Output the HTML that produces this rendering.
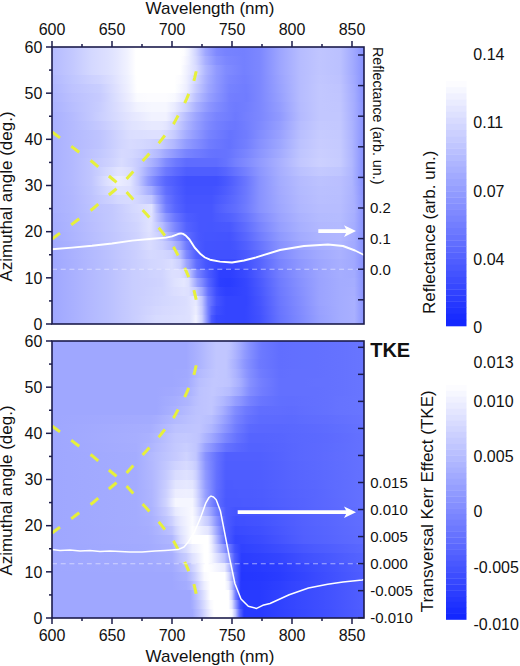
<!DOCTYPE html>
<html><head><meta charset="utf-8"><style>
html,body{margin:0;padding:0;background:#fff;width:520px;height:666px;overflow:hidden;}
svg{display:block;}
text{font-family:"Liberation Sans",sans-serif;}
</style></head><body>
<svg width="520" height="666" viewBox="0 0 520 666">
<rect width="520" height="666" fill="#fff"/>
<defs><linearGradient id="g1" gradientUnits="userSpaceOnUse" x1="52" y1="0" x2="364" y2="0"><stop offset="0.0000" stop-color="#b5bbff"/><stop offset="0.0654" stop-color="#c3c8ff"/><stop offset="0.1269" stop-color="#d4d8ff"/><stop offset="0.1538" stop-color="#d9dcff"/><stop offset="0.1731" stop-color="#dcdfff"/><stop offset="0.1923" stop-color="#e0e3ff"/><stop offset="0.2115" stop-color="#e6e8ff"/><stop offset="0.2231" stop-color="#eaecff"/><stop offset="0.2423" stop-color="#f1f2ff"/><stop offset="0.2500" stop-color="#f5f6ff"/><stop offset="0.2577" stop-color="#f9f9ff"/><stop offset="0.2692" stop-color="#ffffff"/><stop offset="0.2731" stop-color="#ffffff"/><stop offset="0.2769" stop-color="#ffffff"/><stop offset="0.2885" stop-color="#ffffff"/><stop offset="0.3077" stop-color="#ffffff"/><stop offset="0.3115" stop-color="#ffffff"/><stop offset="0.3192" stop-color="#ffffff"/><stop offset="0.3346" stop-color="#ffffff"/><stop offset="0.3385" stop-color="#ffffff"/><stop offset="0.3462" stop-color="#ffffff"/><stop offset="0.3538" stop-color="#ffffff"/><stop offset="0.3654" stop-color="#ffffff"/><stop offset="0.3846" stop-color="#ffffff"/><stop offset="0.3923" stop-color="#ffffff"/><stop offset="0.3962" stop-color="#ffffff"/><stop offset="0.4115" stop-color="#ffffff"/><stop offset="0.4231" stop-color="#fdfdff"/><stop offset="0.4308" stop-color="#f6f7ff"/><stop offset="0.4385" stop-color="#eff1ff"/><stop offset="0.4423" stop-color="#eaecff"/><stop offset="0.4500" stop-color="#e0e3ff"/><stop offset="0.4615" stop-color="#d1d5ff"/><stop offset="0.4654" stop-color="#cbcfff"/><stop offset="0.4731" stop-color="#bec4ff"/><stop offset="0.4808" stop-color="#b2b8ff"/><stop offset="0.4923" stop-color="#9fa7ff"/><stop offset="0.5000" stop-color="#98a1ff"/><stop offset="0.5038" stop-color="#959dff"/><stop offset="0.5115" stop-color="#8e97ff"/><stop offset="0.5269" stop-color="#808aff"/><stop offset="0.5385" stop-color="#7c87ff"/><stop offset="0.5577" stop-color="#7782ff"/><stop offset="0.5692" stop-color="#7682ff"/><stop offset="0.5885" stop-color="#7581ff"/><stop offset="0.6154" stop-color="#7480ff"/><stop offset="0.6231" stop-color="#7581ff"/><stop offset="0.6654" stop-color="#7c87ff"/><stop offset="0.7308" stop-color="#9da5ff"/><stop offset="0.7962" stop-color="#b6bcff"/><stop offset="0.8577" stop-color="#c0c5ff"/><stop offset="0.9231" stop-color="#bbc1ff"/><stop offset="0.9615" stop-color="#a4acff"/><stop offset="0.9692" stop-color="#9fa7ff"/><stop offset="0.9923" stop-color="#8d97ff"/><stop offset="1.0000" stop-color="#8892ff"/></linearGradient><linearGradient id="g2" gradientUnits="userSpaceOnUse" x1="52" y1="0" x2="364" y2="0"><stop offset="0.0000" stop-color="#b5bbff"/><stop offset="0.0654" stop-color="#c3c8ff"/><stop offset="0.1269" stop-color="#d4d8ff"/><stop offset="0.1538" stop-color="#d9dcff"/><stop offset="0.1731" stop-color="#dcdfff"/><stop offset="0.1923" stop-color="#e0e3ff"/><stop offset="0.2115" stop-color="#e6e8ff"/><stop offset="0.2231" stop-color="#eaecff"/><stop offset="0.2423" stop-color="#f1f2ff"/><stop offset="0.2500" stop-color="#f5f6ff"/><stop offset="0.2577" stop-color="#f9f9ff"/><stop offset="0.2692" stop-color="#ffffff"/><stop offset="0.2731" stop-color="#ffffff"/><stop offset="0.2769" stop-color="#ffffff"/><stop offset="0.2885" stop-color="#ffffff"/><stop offset="0.3077" stop-color="#ffffff"/><stop offset="0.3115" stop-color="#ffffff"/><stop offset="0.3192" stop-color="#ffffff"/><stop offset="0.3346" stop-color="#ffffff"/><stop offset="0.3385" stop-color="#ffffff"/><stop offset="0.3462" stop-color="#ffffff"/><stop offset="0.3538" stop-color="#ffffff"/><stop offset="0.3654" stop-color="#ffffff"/><stop offset="0.3846" stop-color="#ffffff"/><stop offset="0.3923" stop-color="#ffffff"/><stop offset="0.3962" stop-color="#ffffff"/><stop offset="0.4115" stop-color="#ffffff"/><stop offset="0.4231" stop-color="#fafaff"/><stop offset="0.4308" stop-color="#f4f4ff"/><stop offset="0.4385" stop-color="#edefff"/><stop offset="0.4423" stop-color="#e9ebff"/><stop offset="0.4500" stop-color="#e1e4ff"/><stop offset="0.4615" stop-color="#d5d8ff"/><stop offset="0.4654" stop-color="#cfd3ff"/><stop offset="0.4731" stop-color="#c4c9ff"/><stop offset="0.4808" stop-color="#b9beff"/><stop offset="0.4923" stop-color="#a8afff"/><stop offset="0.5000" stop-color="#a1a9ff"/><stop offset="0.5038" stop-color="#9da5ff"/><stop offset="0.5115" stop-color="#969fff"/><stop offset="0.5269" stop-color="#8892ff"/><stop offset="0.5385" stop-color="#848eff"/><stop offset="0.5577" stop-color="#7c87ff"/><stop offset="0.5692" stop-color="#7a85ff"/><stop offset="0.5885" stop-color="#7883ff"/><stop offset="0.6154" stop-color="#7480ff"/><stop offset="0.6231" stop-color="#7581ff"/><stop offset="0.6654" stop-color="#7c87ff"/><stop offset="0.7308" stop-color="#9da5ff"/><stop offset="0.7962" stop-color="#b6bcff"/><stop offset="0.8577" stop-color="#c0c5ff"/><stop offset="0.9231" stop-color="#bbc1ff"/><stop offset="0.9615" stop-color="#a4acff"/><stop offset="0.9692" stop-color="#9fa7ff"/><stop offset="0.9923" stop-color="#8d97ff"/><stop offset="1.0000" stop-color="#8892ff"/></linearGradient><linearGradient id="g3" gradientUnits="userSpaceOnUse" x1="52" y1="0" x2="364" y2="0"><stop offset="0.0000" stop-color="#b5bbff"/><stop offset="0.0654" stop-color="#c3c8ff"/><stop offset="0.1269" stop-color="#d4d8ff"/><stop offset="0.1538" stop-color="#d9dcff"/><stop offset="0.1731" stop-color="#dcdfff"/><stop offset="0.1923" stop-color="#e0e3ff"/><stop offset="0.2115" stop-color="#e6e8ff"/><stop offset="0.2231" stop-color="#eaecff"/><stop offset="0.2423" stop-color="#f1f2ff"/><stop offset="0.2500" stop-color="#f5f6ff"/><stop offset="0.2577" stop-color="#f9f9ff"/><stop offset="0.2692" stop-color="#ffffff"/><stop offset="0.2731" stop-color="#ffffff"/><stop offset="0.2769" stop-color="#ffffff"/><stop offset="0.2885" stop-color="#ffffff"/><stop offset="0.3077" stop-color="#ffffff"/><stop offset="0.3115" stop-color="#ffffff"/><stop offset="0.3192" stop-color="#ffffff"/><stop offset="0.3346" stop-color="#ffffff"/><stop offset="0.3385" stop-color="#ffffff"/><stop offset="0.3462" stop-color="#ffffff"/><stop offset="0.3538" stop-color="#ffffff"/><stop offset="0.3654" stop-color="#ffffff"/><stop offset="0.3846" stop-color="#ffffff"/><stop offset="0.3923" stop-color="#ffffff"/><stop offset="0.3962" stop-color="#ffffff"/><stop offset="0.4115" stop-color="#ffffff"/><stop offset="0.4231" stop-color="#f6f7ff"/><stop offset="0.4308" stop-color="#f1f2ff"/><stop offset="0.4385" stop-color="#ebecff"/><stop offset="0.4423" stop-color="#e8eaff"/><stop offset="0.4500" stop-color="#e2e4ff"/><stop offset="0.4615" stop-color="#d9dcff"/><stop offset="0.4654" stop-color="#d4d7ff"/><stop offset="0.4731" stop-color="#caceff"/><stop offset="0.4808" stop-color="#bfc5ff"/><stop offset="0.4923" stop-color="#b0b7ff"/><stop offset="0.5000" stop-color="#a9b0ff"/><stop offset="0.5038" stop-color="#a6adff"/><stop offset="0.5115" stop-color="#9fa7ff"/><stop offset="0.5269" stop-color="#919aff"/><stop offset="0.5385" stop-color="#8b95ff"/><stop offset="0.5577" stop-color="#808bff"/><stop offset="0.5692" stop-color="#7e89ff"/><stop offset="0.5885" stop-color="#7a85ff"/><stop offset="0.6154" stop-color="#7480ff"/><stop offset="0.6231" stop-color="#7581ff"/><stop offset="0.6654" stop-color="#7c87ff"/><stop offset="0.7308" stop-color="#9da5ff"/><stop offset="0.7962" stop-color="#b6bcff"/><stop offset="0.8577" stop-color="#c0c5ff"/><stop offset="0.9231" stop-color="#bbc1ff"/><stop offset="0.9615" stop-color="#a4acff"/><stop offset="0.9692" stop-color="#9fa7ff"/><stop offset="0.9923" stop-color="#8d97ff"/><stop offset="1.0000" stop-color="#8892ff"/></linearGradient><linearGradient id="g4" gradientUnits="userSpaceOnUse" x1="52" y1="0" x2="364" y2="0"><stop offset="0.0000" stop-color="#b2b8ff"/><stop offset="0.0654" stop-color="#c0c6ff"/><stop offset="0.1269" stop-color="#cdd1ff"/><stop offset="0.1538" stop-color="#d1d5ff"/><stop offset="0.1731" stop-color="#d7daff"/><stop offset="0.1923" stop-color="#dcdfff"/><stop offset="0.2115" stop-color="#e4e6ff"/><stop offset="0.2231" stop-color="#e8eaff"/><stop offset="0.2423" stop-color="#eff1ff"/><stop offset="0.2500" stop-color="#f3f4ff"/><stop offset="0.2577" stop-color="#f7f8ff"/><stop offset="0.2692" stop-color="#fefeff"/><stop offset="0.2731" stop-color="#ffffff"/><stop offset="0.2769" stop-color="#ffffff"/><stop offset="0.2885" stop-color="#ffffff"/><stop offset="0.3077" stop-color="#ffffff"/><stop offset="0.3115" stop-color="#ffffff"/><stop offset="0.3192" stop-color="#ffffff"/><stop offset="0.3346" stop-color="#ffffff"/><stop offset="0.3385" stop-color="#ffffff"/><stop offset="0.3462" stop-color="#ffffff"/><stop offset="0.3538" stop-color="#ffffff"/><stop offset="0.3654" stop-color="#ffffff"/><stop offset="0.3846" stop-color="#ffffff"/><stop offset="0.3923" stop-color="#ffffff"/><stop offset="0.3962" stop-color="#fefeff"/><stop offset="0.4115" stop-color="#fbfbff"/><stop offset="0.4231" stop-color="#f4f5ff"/><stop offset="0.4308" stop-color="#eff0ff"/><stop offset="0.4385" stop-color="#e7e9ff"/><stop offset="0.4423" stop-color="#e3e6ff"/><stop offset="0.4500" stop-color="#dcdfff"/><stop offset="0.4615" stop-color="#d0d4ff"/><stop offset="0.4654" stop-color="#ccd0ff"/><stop offset="0.4731" stop-color="#c3c8ff"/><stop offset="0.4808" stop-color="#babfff"/><stop offset="0.4923" stop-color="#acb3ff"/><stop offset="0.5000" stop-color="#a5acff"/><stop offset="0.5038" stop-color="#a1a9ff"/><stop offset="0.5115" stop-color="#9ba4ff"/><stop offset="0.5269" stop-color="#8f99ff"/><stop offset="0.5385" stop-color="#8993ff"/><stop offset="0.5577" stop-color="#7e89ff"/><stop offset="0.5692" stop-color="#7a85ff"/><stop offset="0.5885" stop-color="#7782ff"/><stop offset="0.6154" stop-color="#737eff"/><stop offset="0.6231" stop-color="#737fff"/><stop offset="0.6654" stop-color="#7c87ff"/><stop offset="0.7308" stop-color="#9ba3ff"/><stop offset="0.7962" stop-color="#b6bcff"/><stop offset="0.8577" stop-color="#c1c6ff"/><stop offset="0.9231" stop-color="#bdc2ff"/><stop offset="0.9615" stop-color="#a6adff"/><stop offset="0.9692" stop-color="#a1a9ff"/><stop offset="0.9923" stop-color="#8d97ff"/><stop offset="1.0000" stop-color="#8892ff"/></linearGradient><linearGradient id="g5" gradientUnits="userSpaceOnUse" x1="52" y1="0" x2="364" y2="0"><stop offset="0.0000" stop-color="#afb6ff"/><stop offset="0.0654" stop-color="#bec3ff"/><stop offset="0.1269" stop-color="#c6cbff"/><stop offset="0.1538" stop-color="#c9ceff"/><stop offset="0.1731" stop-color="#d1d5ff"/><stop offset="0.1923" stop-color="#d9dcff"/><stop offset="0.2115" stop-color="#e1e3ff"/><stop offset="0.2231" stop-color="#e6e8ff"/><stop offset="0.2423" stop-color="#eeefff"/><stop offset="0.2500" stop-color="#f1f3ff"/><stop offset="0.2577" stop-color="#f6f7ff"/><stop offset="0.2692" stop-color="#fdfdff"/><stop offset="0.2731" stop-color="#ffffff"/><stop offset="0.2769" stop-color="#ffffff"/><stop offset="0.2885" stop-color="#ffffff"/><stop offset="0.3077" stop-color="#ffffff"/><stop offset="0.3115" stop-color="#ffffff"/><stop offset="0.3192" stop-color="#ffffff"/><stop offset="0.3346" stop-color="#ffffff"/><stop offset="0.3385" stop-color="#ffffff"/><stop offset="0.3462" stop-color="#ffffff"/><stop offset="0.3538" stop-color="#ffffff"/><stop offset="0.3654" stop-color="#ffffff"/><stop offset="0.3846" stop-color="#ffffff"/><stop offset="0.3923" stop-color="#ffffff"/><stop offset="0.3962" stop-color="#fdfeff"/><stop offset="0.4115" stop-color="#f7f8ff"/><stop offset="0.4231" stop-color="#f1f2ff"/><stop offset="0.4308" stop-color="#edeeff"/><stop offset="0.4385" stop-color="#e4e6ff"/><stop offset="0.4423" stop-color="#dfe2ff"/><stop offset="0.4500" stop-color="#d6d9ff"/><stop offset="0.4615" stop-color="#c8ccff"/><stop offset="0.4654" stop-color="#c4c9ff"/><stop offset="0.4731" stop-color="#bcc1ff"/><stop offset="0.4808" stop-color="#b4baff"/><stop offset="0.4923" stop-color="#a8afff"/><stop offset="0.5000" stop-color="#a0a8ff"/><stop offset="0.5038" stop-color="#9da5ff"/><stop offset="0.5115" stop-color="#98a1ff"/><stop offset="0.5269" stop-color="#8e97ff"/><stop offset="0.5385" stop-color="#8791ff"/><stop offset="0.5577" stop-color="#7c87ff"/><stop offset="0.5692" stop-color="#7682ff"/><stop offset="0.5885" stop-color="#7480ff"/><stop offset="0.6154" stop-color="#717dff"/><stop offset="0.6231" stop-color="#717dff"/><stop offset="0.6654" stop-color="#7c87ff"/><stop offset="0.7308" stop-color="#99a2ff"/><stop offset="0.7962" stop-color="#b6bcff"/><stop offset="0.8577" stop-color="#c2c7ff"/><stop offset="0.9231" stop-color="#bfc4ff"/><stop offset="0.9615" stop-color="#a8afff"/><stop offset="0.9692" stop-color="#a3abff"/><stop offset="0.9923" stop-color="#8d96ff"/><stop offset="1.0000" stop-color="#8892ff"/></linearGradient><linearGradient id="g6" gradientUnits="userSpaceOnUse" x1="52" y1="0" x2="364" y2="0"><stop offset="0.0000" stop-color="#adb4ff"/><stop offset="0.0654" stop-color="#bbc0ff"/><stop offset="0.1269" stop-color="#c3c8ff"/><stop offset="0.1538" stop-color="#c7cbff"/><stop offset="0.1731" stop-color="#ced2ff"/><stop offset="0.1923" stop-color="#d6daff"/><stop offset="0.2115" stop-color="#dee1ff"/><stop offset="0.2231" stop-color="#e3e5ff"/><stop offset="0.2423" stop-color="#ebecff"/><stop offset="0.2500" stop-color="#eeefff"/><stop offset="0.2577" stop-color="#f2f3ff"/><stop offset="0.2692" stop-color="#f8f9ff"/><stop offset="0.2731" stop-color="#fafbff"/><stop offset="0.2769" stop-color="#fafbff"/><stop offset="0.2885" stop-color="#fbfbff"/><stop offset="0.3077" stop-color="#fcfcff"/><stop offset="0.3115" stop-color="#fcfcff"/><stop offset="0.3192" stop-color="#fcfcff"/><stop offset="0.3346" stop-color="#fcfcff"/><stop offset="0.3385" stop-color="#fcfcff"/><stop offset="0.3462" stop-color="#fcfcff"/><stop offset="0.3538" stop-color="#fcfcff"/><stop offset="0.3654" stop-color="#fcfcff"/><stop offset="0.3846" stop-color="#f9faff"/><stop offset="0.3923" stop-color="#f8f9ff"/><stop offset="0.3962" stop-color="#f6f7ff"/><stop offset="0.4115" stop-color="#edeeff"/><stop offset="0.4231" stop-color="#e6e8ff"/><stop offset="0.4308" stop-color="#e1e4ff"/><stop offset="0.4385" stop-color="#d8dbff"/><stop offset="0.4423" stop-color="#d3d7ff"/><stop offset="0.4500" stop-color="#caceff"/><stop offset="0.4615" stop-color="#bcc1ff"/><stop offset="0.4654" stop-color="#b8beff"/><stop offset="0.4731" stop-color="#b1b8ff"/><stop offset="0.4808" stop-color="#aab1ff"/><stop offset="0.4923" stop-color="#a0a8ff"/><stop offset="0.5000" stop-color="#99a2ff"/><stop offset="0.5038" stop-color="#969fff"/><stop offset="0.5115" stop-color="#929bff"/><stop offset="0.5269" stop-color="#8993ff"/><stop offset="0.5385" stop-color="#838eff"/><stop offset="0.5577" stop-color="#7a85ff"/><stop offset="0.5692" stop-color="#747fff"/><stop offset="0.5885" stop-color="#727dff"/><stop offset="0.6154" stop-color="#717dff"/><stop offset="0.6231" stop-color="#707cff"/><stop offset="0.6654" stop-color="#7c87ff"/><stop offset="0.7308" stop-color="#97a0ff"/><stop offset="0.7962" stop-color="#b6bcff"/><stop offset="0.8577" stop-color="#c2c7ff"/><stop offset="0.9231" stop-color="#c0c5ff"/><stop offset="0.9615" stop-color="#a9b0ff"/><stop offset="0.9692" stop-color="#a4acff"/><stop offset="0.9923" stop-color="#8d97ff"/><stop offset="1.0000" stop-color="#8892ff"/></linearGradient><linearGradient id="g7" gradientUnits="userSpaceOnUse" x1="52" y1="0" x2="364" y2="0"><stop offset="0.0000" stop-color="#abb2ff"/><stop offset="0.0654" stop-color="#b8beff"/><stop offset="0.1269" stop-color="#c3c8ff"/><stop offset="0.1538" stop-color="#c8cdff"/><stop offset="0.1731" stop-color="#cfd3ff"/><stop offset="0.1923" stop-color="#d5d9ff"/><stop offset="0.2115" stop-color="#dcdeff"/><stop offset="0.2231" stop-color="#dfe2ff"/><stop offset="0.2423" stop-color="#e6e8ff"/><stop offset="0.2500" stop-color="#e8eaff"/><stop offset="0.2577" stop-color="#ebedff"/><stop offset="0.2692" stop-color="#f0f1ff"/><stop offset="0.2731" stop-color="#f1f2ff"/><stop offset="0.2769" stop-color="#f1f3ff"/><stop offset="0.2885" stop-color="#f3f4ff"/><stop offset="0.3077" stop-color="#f5f6ff"/><stop offset="0.3115" stop-color="#f5f6ff"/><stop offset="0.3192" stop-color="#f6f7ff"/><stop offset="0.3346" stop-color="#f6f7ff"/><stop offset="0.3385" stop-color="#f6f7ff"/><stop offset="0.3462" stop-color="#f6f7ff"/><stop offset="0.3538" stop-color="#f6f7ff"/><stop offset="0.3654" stop-color="#f6f7ff"/><stop offset="0.3846" stop-color="#edefff"/><stop offset="0.3923" stop-color="#eaecff"/><stop offset="0.3962" stop-color="#e7e9ff"/><stop offset="0.4115" stop-color="#dbdeff"/><stop offset="0.4231" stop-color="#d2d6ff"/><stop offset="0.4308" stop-color="#ccd1ff"/><stop offset="0.4385" stop-color="#c4c9ff"/><stop offset="0.4423" stop-color="#c0c6ff"/><stop offset="0.4500" stop-color="#b8beff"/><stop offset="0.4615" stop-color="#acb3ff"/><stop offset="0.4654" stop-color="#a9b0ff"/><stop offset="0.4731" stop-color="#a3abff"/><stop offset="0.4808" stop-color="#9da5ff"/><stop offset="0.4923" stop-color="#949dff"/><stop offset="0.5000" stop-color="#8f98ff"/><stop offset="0.5038" stop-color="#8c96ff"/><stop offset="0.5115" stop-color="#8992ff"/><stop offset="0.5269" stop-color="#818cff"/><stop offset="0.5385" stop-color="#7d88ff"/><stop offset="0.5577" stop-color="#7682ff"/><stop offset="0.5692" stop-color="#727eff"/><stop offset="0.5885" stop-color="#6f7bff"/><stop offset="0.6154" stop-color="#717dff"/><stop offset="0.6231" stop-color="#727eff"/><stop offset="0.6654" stop-color="#7c87ff"/><stop offset="0.7308" stop-color="#949dff"/><stop offset="0.7962" stop-color="#b5bbff"/><stop offset="0.8577" stop-color="#c2c7ff"/><stop offset="0.9231" stop-color="#c1c6ff"/><stop offset="0.9615" stop-color="#aab1ff"/><stop offset="0.9692" stop-color="#a5acff"/><stop offset="0.9923" stop-color="#8f99ff"/><stop offset="1.0000" stop-color="#8892ff"/></linearGradient><linearGradient id="g8" gradientUnits="userSpaceOnUse" x1="52" y1="0" x2="364" y2="0"><stop offset="0.0000" stop-color="#a9b0ff"/><stop offset="0.0654" stop-color="#b5bbff"/><stop offset="0.1269" stop-color="#c3c8ff"/><stop offset="0.1538" stop-color="#cacfff"/><stop offset="0.1731" stop-color="#cfd3ff"/><stop offset="0.1923" stop-color="#d4d8ff"/><stop offset="0.2115" stop-color="#d9dcff"/><stop offset="0.2231" stop-color="#dcdfff"/><stop offset="0.2423" stop-color="#e1e3ff"/><stop offset="0.2500" stop-color="#e3e5ff"/><stop offset="0.2577" stop-color="#e5e7ff"/><stop offset="0.2692" stop-color="#e7e9ff"/><stop offset="0.2731" stop-color="#e8eaff"/><stop offset="0.2769" stop-color="#e8eaff"/><stop offset="0.2885" stop-color="#ebecff"/><stop offset="0.3077" stop-color="#eef0ff"/><stop offset="0.3115" stop-color="#eff0ff"/><stop offset="0.3192" stop-color="#f1f2ff"/><stop offset="0.3346" stop-color="#f1f2ff"/><stop offset="0.3385" stop-color="#f1f2ff"/><stop offset="0.3462" stop-color="#f1f2ff"/><stop offset="0.3538" stop-color="#f1f2ff"/><stop offset="0.3654" stop-color="#f1f2ff"/><stop offset="0.3846" stop-color="#e2e4ff"/><stop offset="0.3923" stop-color="#dcdfff"/><stop offset="0.3962" stop-color="#d9dcff"/><stop offset="0.4115" stop-color="#caceff"/><stop offset="0.4231" stop-color="#bfc4ff"/><stop offset="0.4308" stop-color="#b7bdff"/><stop offset="0.4385" stop-color="#b1b7ff"/><stop offset="0.4423" stop-color="#adb4ff"/><stop offset="0.4500" stop-color="#a7aeff"/><stop offset="0.4615" stop-color="#9da5ff"/><stop offset="0.4654" stop-color="#9aa3ff"/><stop offset="0.4731" stop-color="#959eff"/><stop offset="0.4808" stop-color="#9099ff"/><stop offset="0.4923" stop-color="#8892ff"/><stop offset="0.5000" stop-color="#848fff"/><stop offset="0.5038" stop-color="#838dff"/><stop offset="0.5115" stop-color="#808aff"/><stop offset="0.5269" stop-color="#7984ff"/><stop offset="0.5385" stop-color="#7782ff"/><stop offset="0.5577" stop-color="#737fff"/><stop offset="0.5692" stop-color="#717dff"/><stop offset="0.5885" stop-color="#6d79ff"/><stop offset="0.6154" stop-color="#727eff"/><stop offset="0.6231" stop-color="#747fff"/><stop offset="0.6654" stop-color="#7c87ff"/><stop offset="0.7308" stop-color="#919aff"/><stop offset="0.7962" stop-color="#b4baff"/><stop offset="0.8577" stop-color="#c2c7ff"/><stop offset="0.9231" stop-color="#c2c7ff"/><stop offset="0.9615" stop-color="#abb2ff"/><stop offset="0.9692" stop-color="#a5acff"/><stop offset="0.9923" stop-color="#919aff"/><stop offset="1.0000" stop-color="#8892ff"/></linearGradient><linearGradient id="g9" gradientUnits="userSpaceOnUse" x1="52" y1="0" x2="364" y2="0"><stop offset="0.0000" stop-color="#a9b0ff"/><stop offset="0.0654" stop-color="#b4baff"/><stop offset="0.1269" stop-color="#bfc5ff"/><stop offset="0.1538" stop-color="#c5c9ff"/><stop offset="0.1731" stop-color="#caceff"/><stop offset="0.1923" stop-color="#cfd3ff"/><stop offset="0.2115" stop-color="#d4d8ff"/><stop offset="0.2231" stop-color="#d7dbff"/><stop offset="0.2423" stop-color="#dde0ff"/><stop offset="0.2500" stop-color="#dfe1ff"/><stop offset="0.2577" stop-color="#e0e3ff"/><stop offset="0.2692" stop-color="#e1e4ff"/><stop offset="0.2731" stop-color="#e2e4ff"/><stop offset="0.2769" stop-color="#e2e5ff"/><stop offset="0.2885" stop-color="#e4e6ff"/><stop offset="0.3077" stop-color="#e6e8ff"/><stop offset="0.3115" stop-color="#e6e8ff"/><stop offset="0.3192" stop-color="#e7e9ff"/><stop offset="0.3346" stop-color="#e7e9ff"/><stop offset="0.3385" stop-color="#e7e9ff"/><stop offset="0.3462" stop-color="#e7e9ff"/><stop offset="0.3538" stop-color="#e6e8ff"/><stop offset="0.3654" stop-color="#e3e5ff"/><stop offset="0.3846" stop-color="#d6daff"/><stop offset="0.3923" stop-color="#d1d5ff"/><stop offset="0.3962" stop-color="#ced2ff"/><stop offset="0.4115" stop-color="#c0c5ff"/><stop offset="0.4231" stop-color="#b5bbff"/><stop offset="0.4308" stop-color="#aeb5ff"/><stop offset="0.4385" stop-color="#a8afff"/><stop offset="0.4423" stop-color="#a5adff"/><stop offset="0.4500" stop-color="#9fa7ff"/><stop offset="0.4615" stop-color="#979fff"/><stop offset="0.4654" stop-color="#949dff"/><stop offset="0.4731" stop-color="#8f99ff"/><stop offset="0.4808" stop-color="#8a94ff"/><stop offset="0.4923" stop-color="#838dff"/><stop offset="0.5000" stop-color="#7f8aff"/><stop offset="0.5038" stop-color="#7d88ff"/><stop offset="0.5115" stop-color="#7a85ff"/><stop offset="0.5269" stop-color="#7580ff"/><stop offset="0.5385" stop-color="#727eff"/><stop offset="0.5577" stop-color="#6e7aff"/><stop offset="0.5692" stop-color="#6c78ff"/><stop offset="0.5885" stop-color="#6b77ff"/><stop offset="0.6154" stop-color="#707cff"/><stop offset="0.6231" stop-color="#727eff"/><stop offset="0.6654" stop-color="#7e89ff"/><stop offset="0.7308" stop-color="#959eff"/><stop offset="0.7962" stop-color="#b7bdff"/><stop offset="0.8577" stop-color="#c4c9ff"/><stop offset="0.9231" stop-color="#c3c8ff"/><stop offset="0.9615" stop-color="#acb3ff"/><stop offset="0.9692" stop-color="#a5adff"/><stop offset="0.9923" stop-color="#9099ff"/><stop offset="1.0000" stop-color="#8892ff"/></linearGradient><linearGradient id="g10" gradientUnits="userSpaceOnUse" x1="52" y1="0" x2="364" y2="0"><stop offset="0.0000" stop-color="#a9b0ff"/><stop offset="0.0654" stop-color="#b3b9ff"/><stop offset="0.1269" stop-color="#bbc1ff"/><stop offset="0.1538" stop-color="#bfc4ff"/><stop offset="0.1731" stop-color="#c4c9ff"/><stop offset="0.1923" stop-color="#caceff"/><stop offset="0.2115" stop-color="#d0d4ff"/><stop offset="0.2231" stop-color="#d3d7ff"/><stop offset="0.2423" stop-color="#d9dcff"/><stop offset="0.2500" stop-color="#dbdeff"/><stop offset="0.2577" stop-color="#dbdeff"/><stop offset="0.2692" stop-color="#dcdfff"/><stop offset="0.2731" stop-color="#dcdfff"/><stop offset="0.2769" stop-color="#dcdfff"/><stop offset="0.2885" stop-color="#dcdfff"/><stop offset="0.3077" stop-color="#dde0ff"/><stop offset="0.3115" stop-color="#dde0ff"/><stop offset="0.3192" stop-color="#dee0ff"/><stop offset="0.3346" stop-color="#dee0ff"/><stop offset="0.3385" stop-color="#dee0ff"/><stop offset="0.3462" stop-color="#dee0ff"/><stop offset="0.3538" stop-color="#daddff"/><stop offset="0.3654" stop-color="#d6d9ff"/><stop offset="0.3846" stop-color="#cbcfff"/><stop offset="0.3923" stop-color="#c6cbff"/><stop offset="0.3962" stop-color="#c3c8ff"/><stop offset="0.4115" stop-color="#b5bbff"/><stop offset="0.4231" stop-color="#abb2ff"/><stop offset="0.4308" stop-color="#a4acff"/><stop offset="0.4385" stop-color="#9fa7ff"/><stop offset="0.4423" stop-color="#9da5ff"/><stop offset="0.4500" stop-color="#98a0ff"/><stop offset="0.4615" stop-color="#909aff"/><stop offset="0.4654" stop-color="#8e98ff"/><stop offset="0.4731" stop-color="#8993ff"/><stop offset="0.4808" stop-color="#858fff"/><stop offset="0.4923" stop-color="#7e88ff"/><stop offset="0.5000" stop-color="#7985ff"/><stop offset="0.5038" stop-color="#7783ff"/><stop offset="0.5115" stop-color="#7581ff"/><stop offset="0.5269" stop-color="#717dff"/><stop offset="0.5385" stop-color="#6e7aff"/><stop offset="0.5577" stop-color="#6976ff"/><stop offset="0.5692" stop-color="#6673ff"/><stop offset="0.5885" stop-color="#6976ff"/><stop offset="0.6154" stop-color="#6f7bff"/><stop offset="0.6231" stop-color="#707cff"/><stop offset="0.6654" stop-color="#818cff"/><stop offset="0.7308" stop-color="#99a1ff"/><stop offset="0.7962" stop-color="#b9bfff"/><stop offset="0.8577" stop-color="#c6cbff"/><stop offset="0.9231" stop-color="#c4c9ff"/><stop offset="0.9615" stop-color="#adb4ff"/><stop offset="0.9692" stop-color="#a6adff"/><stop offset="0.9923" stop-color="#8f99ff"/><stop offset="1.0000" stop-color="#8892ff"/></linearGradient><linearGradient id="g11" gradientUnits="userSpaceOnUse" x1="52" y1="0" x2="364" y2="0"><stop offset="0.0000" stop-color="#a9b0ff"/><stop offset="0.0654" stop-color="#b3b9ff"/><stop offset="0.1269" stop-color="#bbc0ff"/><stop offset="0.1538" stop-color="#bec4ff"/><stop offset="0.1731" stop-color="#c4c9ff"/><stop offset="0.1923" stop-color="#c9ceff"/><stop offset="0.2115" stop-color="#cfd3ff"/><stop offset="0.2231" stop-color="#d2d6ff"/><stop offset="0.2423" stop-color="#d6d9ff"/><stop offset="0.2500" stop-color="#d7dbff"/><stop offset="0.2577" stop-color="#d7daff"/><stop offset="0.2692" stop-color="#d6d9ff"/><stop offset="0.2731" stop-color="#d5d9ff"/><stop offset="0.2769" stop-color="#d5d9ff"/><stop offset="0.2885" stop-color="#d4d8ff"/><stop offset="0.3077" stop-color="#d1d5ff"/><stop offset="0.3115" stop-color="#d1d5ff"/><stop offset="0.3192" stop-color="#d0d3ff"/><stop offset="0.3346" stop-color="#cdd1ff"/><stop offset="0.3385" stop-color="#cdd1ff"/><stop offset="0.3462" stop-color="#cbcfff"/><stop offset="0.3538" stop-color="#c6cbff"/><stop offset="0.3654" stop-color="#bfc4ff"/><stop offset="0.3846" stop-color="#b5bbff"/><stop offset="0.3923" stop-color="#b1b7ff"/><stop offset="0.3962" stop-color="#adb4ff"/><stop offset="0.4115" stop-color="#a1a9ff"/><stop offset="0.4231" stop-color="#98a1ff"/><stop offset="0.4308" stop-color="#929cff"/><stop offset="0.4385" stop-color="#8f98ff"/><stop offset="0.4423" stop-color="#8d97ff"/><stop offset="0.4500" stop-color="#8993ff"/><stop offset="0.4615" stop-color="#848eff"/><stop offset="0.4654" stop-color="#828dff"/><stop offset="0.4731" stop-color="#7f89ff"/><stop offset="0.4808" stop-color="#7b86ff"/><stop offset="0.4923" stop-color="#7681ff"/><stop offset="0.5000" stop-color="#727eff"/><stop offset="0.5038" stop-color="#707cff"/><stop offset="0.5115" stop-color="#6f7bff"/><stop offset="0.5269" stop-color="#6b78ff"/><stop offset="0.5385" stop-color="#6a76ff"/><stop offset="0.5577" stop-color="#6673ff"/><stop offset="0.5692" stop-color="#6572ff"/><stop offset="0.5885" stop-color="#6a77ff"/><stop offset="0.6154" stop-color="#717dff"/><stop offset="0.6231" stop-color="#737fff"/><stop offset="0.6654" stop-color="#8690ff"/><stop offset="0.7308" stop-color="#9da6ff"/><stop offset="0.7962" stop-color="#bcc2ff"/><stop offset="0.8577" stop-color="#c8ccff"/><stop offset="0.9231" stop-color="#c5caff"/><stop offset="0.9615" stop-color="#aeb5ff"/><stop offset="0.9692" stop-color="#a6aeff"/><stop offset="0.9923" stop-color="#8e98ff"/><stop offset="1.0000" stop-color="#8892ff"/></linearGradient><linearGradient id="g12" gradientUnits="userSpaceOnUse" x1="52" y1="0" x2="364" y2="0"><stop offset="0.0000" stop-color="#a9b0ff"/><stop offset="0.0654" stop-color="#b3b9ff"/><stop offset="0.1269" stop-color="#bec3ff"/><stop offset="0.1538" stop-color="#c2c8ff"/><stop offset="0.1731" stop-color="#c7ccff"/><stop offset="0.1923" stop-color="#ccd0ff"/><stop offset="0.2115" stop-color="#d2d6ff"/><stop offset="0.2231" stop-color="#d6d9ff"/><stop offset="0.2423" stop-color="#d5d8ff"/><stop offset="0.2500" stop-color="#d4d8ff"/><stop offset="0.2577" stop-color="#d3d7ff"/><stop offset="0.2692" stop-color="#d0d4ff"/><stop offset="0.2731" stop-color="#cfd3ff"/><stop offset="0.2769" stop-color="#ced2ff"/><stop offset="0.2885" stop-color="#cacfff"/><stop offset="0.3077" stop-color="#c2c7ff"/><stop offset="0.3115" stop-color="#c0c6ff"/><stop offset="0.3192" stop-color="#bdc3ff"/><stop offset="0.3346" stop-color="#b6bcff"/><stop offset="0.3385" stop-color="#b4baff"/><stop offset="0.3462" stop-color="#afb6ff"/><stop offset="0.3538" stop-color="#a9b0ff"/><stop offset="0.3654" stop-color="#a0a8ff"/><stop offset="0.3846" stop-color="#959dff"/><stop offset="0.3923" stop-color="#9099ff"/><stop offset="0.3962" stop-color="#8d97ff"/><stop offset="0.4115" stop-color="#848eff"/><stop offset="0.4231" stop-color="#7d88ff"/><stop offset="0.4308" stop-color="#7984ff"/><stop offset="0.4385" stop-color="#7782ff"/><stop offset="0.4423" stop-color="#7681ff"/><stop offset="0.4500" stop-color="#7480ff"/><stop offset="0.4615" stop-color="#717dff"/><stop offset="0.4654" stop-color="#717cff"/><stop offset="0.4731" stop-color="#6f7bff"/><stop offset="0.4808" stop-color="#6d79ff"/><stop offset="0.4923" stop-color="#6a77ff"/><stop offset="0.5000" stop-color="#6875ff"/><stop offset="0.5038" stop-color="#6774ff"/><stop offset="0.5115" stop-color="#6773ff"/><stop offset="0.5269" stop-color="#6572ff"/><stop offset="0.5385" stop-color="#6672ff"/><stop offset="0.5577" stop-color="#6673ff"/><stop offset="0.5692" stop-color="#6875ff"/><stop offset="0.5885" stop-color="#6f7bff"/><stop offset="0.6154" stop-color="#7783ff"/><stop offset="0.6231" stop-color="#7a85ff"/><stop offset="0.6654" stop-color="#8b95ff"/><stop offset="0.7308" stop-color="#a3abff"/><stop offset="0.7962" stop-color="#bfc5ff"/><stop offset="0.8577" stop-color="#caceff"/><stop offset="0.9231" stop-color="#c6cbff"/><stop offset="0.9615" stop-color="#afb6ff"/><stop offset="0.9692" stop-color="#a7aeff"/><stop offset="0.9923" stop-color="#8d97ff"/><stop offset="1.0000" stop-color="#8892ff"/></linearGradient><linearGradient id="g13" gradientUnits="userSpaceOnUse" x1="52" y1="0" x2="364" y2="0"><stop offset="0.0000" stop-color="#a9b0ff"/><stop offset="0.0654" stop-color="#b3b9ff"/><stop offset="0.1269" stop-color="#c1c6ff"/><stop offset="0.1538" stop-color="#c7cbff"/><stop offset="0.1731" stop-color="#cbcfff"/><stop offset="0.1923" stop-color="#cfd3ff"/><stop offset="0.2115" stop-color="#d5d9ff"/><stop offset="0.2231" stop-color="#d9dcff"/><stop offset="0.2423" stop-color="#d3d7ff"/><stop offset="0.2500" stop-color="#d1d5ff"/><stop offset="0.2577" stop-color="#cfd3ff"/><stop offset="0.2692" stop-color="#caceff"/><stop offset="0.2731" stop-color="#c8cdff"/><stop offset="0.2769" stop-color="#c6cbff"/><stop offset="0.2885" stop-color="#c1c6ff"/><stop offset="0.3077" stop-color="#b3b9ff"/><stop offset="0.3115" stop-color="#b0b7ff"/><stop offset="0.3192" stop-color="#abb2ff"/><stop offset="0.3346" stop-color="#9fa7ff"/><stop offset="0.3385" stop-color="#9ca4ff"/><stop offset="0.3462" stop-color="#949dff"/><stop offset="0.3538" stop-color="#8c96ff"/><stop offset="0.3654" stop-color="#808bff"/><stop offset="0.3846" stop-color="#7480ff"/><stop offset="0.3923" stop-color="#707cff"/><stop offset="0.3962" stop-color="#6d79ff"/><stop offset="0.4115" stop-color="#6774ff"/><stop offset="0.4231" stop-color="#626fff"/><stop offset="0.4308" stop-color="#5f6cff"/><stop offset="0.4385" stop-color="#5f6cff"/><stop offset="0.4423" stop-color="#5f6cff"/><stop offset="0.4500" stop-color="#5f6cff"/><stop offset="0.4615" stop-color="#5f6cff"/><stop offset="0.4654" stop-color="#5f6cff"/><stop offset="0.4731" stop-color="#5f6cff"/><stop offset="0.4808" stop-color="#5f6cff"/><stop offset="0.4923" stop-color="#5f6cff"/><stop offset="0.5000" stop-color="#5f6cff"/><stop offset="0.5038" stop-color="#5f6cff"/><stop offset="0.5115" stop-color="#5f6cff"/><stop offset="0.5269" stop-color="#5f6cff"/><stop offset="0.5385" stop-color="#626fff"/><stop offset="0.5577" stop-color="#6673ff"/><stop offset="0.5692" stop-color="#6b78ff"/><stop offset="0.5885" stop-color="#7480ff"/><stop offset="0.6154" stop-color="#7e88ff"/><stop offset="0.6231" stop-color="#808bff"/><stop offset="0.6654" stop-color="#919aff"/><stop offset="0.7308" stop-color="#a9b0ff"/><stop offset="0.7962" stop-color="#c2c7ff"/><stop offset="0.8577" stop-color="#ccd0ff"/><stop offset="0.9231" stop-color="#c7ccff"/><stop offset="0.9615" stop-color="#b0b7ff"/><stop offset="0.9692" stop-color="#a7afff"/><stop offset="0.9923" stop-color="#8c96ff"/><stop offset="1.0000" stop-color="#8892ff"/></linearGradient><linearGradient id="g14" gradientUnits="userSpaceOnUse" x1="52" y1="0" x2="364" y2="0"><stop offset="0.0000" stop-color="#a9b0ff"/><stop offset="0.0654" stop-color="#b3b9ff"/><stop offset="0.1269" stop-color="#c1c6ff"/><stop offset="0.1538" stop-color="#cbd0ff"/><stop offset="0.1731" stop-color="#d3d7ff"/><stop offset="0.1923" stop-color="#d9ddff"/><stop offset="0.2115" stop-color="#e1e3ff"/><stop offset="0.2231" stop-color="#e1e3ff"/><stop offset="0.2423" stop-color="#dcdfff"/><stop offset="0.2500" stop-color="#daddff"/><stop offset="0.2577" stop-color="#d4d8ff"/><stop offset="0.2692" stop-color="#cbcfff"/><stop offset="0.2731" stop-color="#c8ccff"/><stop offset="0.2769" stop-color="#c5caff"/><stop offset="0.2885" stop-color="#b9bfff"/><stop offset="0.3077" stop-color="#a3abff"/><stop offset="0.3115" stop-color="#a0a8ff"/><stop offset="0.3192" stop-color="#98a1ff"/><stop offset="0.3346" stop-color="#8a94ff"/><stop offset="0.3385" stop-color="#8690ff"/><stop offset="0.3462" stop-color="#7e89ff"/><stop offset="0.3538" stop-color="#7782ff"/><stop offset="0.3654" stop-color="#6c78ff"/><stop offset="0.3846" stop-color="#6370ff"/><stop offset="0.3923" stop-color="#5f6cff"/><stop offset="0.3962" stop-color="#5d6aff"/><stop offset="0.4115" stop-color="#5765ff"/><stop offset="0.4231" stop-color="#5261ff"/><stop offset="0.4308" stop-color="#4f5eff"/><stop offset="0.4385" stop-color="#4f5eff"/><stop offset="0.4423" stop-color="#4f5eff"/><stop offset="0.4500" stop-color="#4f5eff"/><stop offset="0.4615" stop-color="#4f5eff"/><stop offset="0.4654" stop-color="#4f5eff"/><stop offset="0.4731" stop-color="#4f5eff"/><stop offset="0.4808" stop-color="#4f5eff"/><stop offset="0.4923" stop-color="#4f5eff"/><stop offset="0.5000" stop-color="#4f5eff"/><stop offset="0.5038" stop-color="#4f5eff"/><stop offset="0.5115" stop-color="#4f5eff"/><stop offset="0.5269" stop-color="#4f5eff"/><stop offset="0.5385" stop-color="#5261ff"/><stop offset="0.5577" stop-color="#5866ff"/><stop offset="0.5692" stop-color="#5d6bff"/><stop offset="0.5885" stop-color="#6673ff"/><stop offset="0.6154" stop-color="#727eff"/><stop offset="0.6231" stop-color="#7681ff"/><stop offset="0.6654" stop-color="#8c96ff"/><stop offset="0.7308" stop-color="#a7aeff"/><stop offset="0.7962" stop-color="#bbc1ff"/><stop offset="0.8577" stop-color="#c4c9ff"/><stop offset="0.9231" stop-color="#c0c6ff"/><stop offset="0.9615" stop-color="#afb6ff"/><stop offset="0.9692" stop-color="#a6aeff"/><stop offset="0.9923" stop-color="#8c96ff"/><stop offset="1.0000" stop-color="#8892ff"/></linearGradient><linearGradient id="g15" gradientUnits="userSpaceOnUse" x1="52" y1="0" x2="364" y2="0"><stop offset="0.0000" stop-color="#a9b0ff"/><stop offset="0.0654" stop-color="#b3b9ff"/><stop offset="0.1269" stop-color="#c1c6ff"/><stop offset="0.1538" stop-color="#d0d4ff"/><stop offset="0.1731" stop-color="#dbdeff"/><stop offset="0.1923" stop-color="#e4e6ff"/><stop offset="0.2115" stop-color="#ecedff"/><stop offset="0.2231" stop-color="#e9ebff"/><stop offset="0.2423" stop-color="#e4e6ff"/><stop offset="0.2500" stop-color="#e2e5ff"/><stop offset="0.2577" stop-color="#d9ddff"/><stop offset="0.2692" stop-color="#ccd0ff"/><stop offset="0.2731" stop-color="#c8ccff"/><stop offset="0.2769" stop-color="#c3c8ff"/><stop offset="0.2885" stop-color="#b1b8ff"/><stop offset="0.3077" stop-color="#939cff"/><stop offset="0.3115" stop-color="#8f98ff"/><stop offset="0.3192" stop-color="#8690ff"/><stop offset="0.3346" stop-color="#7480ff"/><stop offset="0.3385" stop-color="#707cff"/><stop offset="0.3462" stop-color="#6975ff"/><stop offset="0.3538" stop-color="#626fff"/><stop offset="0.3654" stop-color="#5866ff"/><stop offset="0.3846" stop-color="#515fff"/><stop offset="0.3923" stop-color="#4e5dff"/><stop offset="0.3962" stop-color="#4c5bff"/><stop offset="0.4115" stop-color="#4756ff"/><stop offset="0.4231" stop-color="#4352ff"/><stop offset="0.4308" stop-color="#4050ff"/><stop offset="0.4385" stop-color="#4050ff"/><stop offset="0.4423" stop-color="#4050ff"/><stop offset="0.4500" stop-color="#4050ff"/><stop offset="0.4615" stop-color="#4050ff"/><stop offset="0.4654" stop-color="#4050ff"/><stop offset="0.4731" stop-color="#4050ff"/><stop offset="0.4808" stop-color="#4050ff"/><stop offset="0.4923" stop-color="#4050ff"/><stop offset="0.5000" stop-color="#4050ff"/><stop offset="0.5038" stop-color="#4050ff"/><stop offset="0.5115" stop-color="#4050ff"/><stop offset="0.5269" stop-color="#4050ff"/><stop offset="0.5385" stop-color="#4353ff"/><stop offset="0.5577" stop-color="#4959ff"/><stop offset="0.5692" stop-color="#4f5dff"/><stop offset="0.5885" stop-color="#5866ff"/><stop offset="0.6154" stop-color="#6773ff"/><stop offset="0.6231" stop-color="#6b77ff"/><stop offset="0.6654" stop-color="#8892ff"/><stop offset="0.7308" stop-color="#a4acff"/><stop offset="0.7962" stop-color="#b5bbff"/><stop offset="0.8577" stop-color="#bcc2ff"/><stop offset="0.9231" stop-color="#babfff"/><stop offset="0.9615" stop-color="#aeb5ff"/><stop offset="0.9692" stop-color="#a5adff"/><stop offset="0.9923" stop-color="#8c96ff"/><stop offset="1.0000" stop-color="#8892ff"/></linearGradient><linearGradient id="g16" gradientUnits="userSpaceOnUse" x1="52" y1="0" x2="364" y2="0"><stop offset="0.0000" stop-color="#a9b0ff"/><stop offset="0.0654" stop-color="#b2b8ff"/><stop offset="0.1269" stop-color="#bfc5ff"/><stop offset="0.1538" stop-color="#cacfff"/><stop offset="0.1731" stop-color="#d2d6ff"/><stop offset="0.1923" stop-color="#d9dcff"/><stop offset="0.2115" stop-color="#e0e3ff"/><stop offset="0.2231" stop-color="#dfe2ff"/><stop offset="0.2423" stop-color="#dee0ff"/><stop offset="0.2500" stop-color="#dde0ff"/><stop offset="0.2577" stop-color="#d8dbff"/><stop offset="0.2692" stop-color="#cfd3ff"/><stop offset="0.2731" stop-color="#cdd1ff"/><stop offset="0.2769" stop-color="#cacfff"/><stop offset="0.2885" stop-color="#bfc4ff"/><stop offset="0.3077" stop-color="#acb3ff"/><stop offset="0.3115" stop-color="#a9b1ff"/><stop offset="0.3192" stop-color="#a4acff"/><stop offset="0.3346" stop-color="#8a94ff"/><stop offset="0.3385" stop-color="#858fff"/><stop offset="0.3462" stop-color="#7b86ff"/><stop offset="0.3538" stop-color="#707cff"/><stop offset="0.3654" stop-color="#616eff"/><stop offset="0.3846" stop-color="#5765ff"/><stop offset="0.3923" stop-color="#5261ff"/><stop offset="0.3962" stop-color="#505fff"/><stop offset="0.4115" stop-color="#4a59ff"/><stop offset="0.4231" stop-color="#4555ff"/><stop offset="0.4308" stop-color="#4252ff"/><stop offset="0.4385" stop-color="#4252ff"/><stop offset="0.4423" stop-color="#4252ff"/><stop offset="0.4500" stop-color="#4252ff"/><stop offset="0.4615" stop-color="#4252ff"/><stop offset="0.4654" stop-color="#4252ff"/><stop offset="0.4731" stop-color="#4252ff"/><stop offset="0.4808" stop-color="#4252ff"/><stop offset="0.4923" stop-color="#4252ff"/><stop offset="0.5000" stop-color="#4252ff"/><stop offset="0.5038" stop-color="#4252ff"/><stop offset="0.5115" stop-color="#4252ff"/><stop offset="0.5269" stop-color="#4554ff"/><stop offset="0.5385" stop-color="#4857ff"/><stop offset="0.5577" stop-color="#4e5dff"/><stop offset="0.5692" stop-color="#5361ff"/><stop offset="0.5885" stop-color="#5b69ff"/><stop offset="0.6154" stop-color="#6975ff"/><stop offset="0.6231" stop-color="#6c79ff"/><stop offset="0.6654" stop-color="#8892ff"/><stop offset="0.7308" stop-color="#a3aaff"/><stop offset="0.7962" stop-color="#b3baff"/><stop offset="0.8577" stop-color="#bac0ff"/><stop offset="0.9231" stop-color="#b9bfff"/><stop offset="0.9615" stop-color="#adb4ff"/><stop offset="0.9692" stop-color="#a7aeff"/><stop offset="0.9923" stop-color="#8e97ff"/><stop offset="1.0000" stop-color="#8892ff"/></linearGradient><linearGradient id="g17" gradientUnits="userSpaceOnUse" x1="52" y1="0" x2="364" y2="0"><stop offset="0.0000" stop-color="#a9b0ff"/><stop offset="0.0654" stop-color="#b1b7ff"/><stop offset="0.1269" stop-color="#bec3ff"/><stop offset="0.1538" stop-color="#c5caff"/><stop offset="0.1731" stop-color="#caceff"/><stop offset="0.1923" stop-color="#ced2ff"/><stop offset="0.2115" stop-color="#d4d8ff"/><stop offset="0.2231" stop-color="#d5d9ff"/><stop offset="0.2423" stop-color="#d7daff"/><stop offset="0.2500" stop-color="#d7dbff"/><stop offset="0.2577" stop-color="#d6d9ff"/><stop offset="0.2692" stop-color="#d3d7ff"/><stop offset="0.2731" stop-color="#d2d6ff"/><stop offset="0.2769" stop-color="#d1d5ff"/><stop offset="0.2885" stop-color="#ccd1ff"/><stop offset="0.3077" stop-color="#c5caff"/><stop offset="0.3115" stop-color="#c4c9ff"/><stop offset="0.3192" stop-color="#c2c7ff"/><stop offset="0.3346" stop-color="#a1a9ff"/><stop offset="0.3385" stop-color="#9aa2ff"/><stop offset="0.3462" stop-color="#8c96ff"/><stop offset="0.3538" stop-color="#7f8aff"/><stop offset="0.3654" stop-color="#6b77ff"/><stop offset="0.3846" stop-color="#5d6aff"/><stop offset="0.3923" stop-color="#5765ff"/><stop offset="0.3962" stop-color="#5462ff"/><stop offset="0.4115" stop-color="#4d5cff"/><stop offset="0.4231" stop-color="#4857ff"/><stop offset="0.4308" stop-color="#4554ff"/><stop offset="0.4385" stop-color="#4554ff"/><stop offset="0.4423" stop-color="#4554ff"/><stop offset="0.4500" stop-color="#4554ff"/><stop offset="0.4615" stop-color="#4554ff"/><stop offset="0.4654" stop-color="#4554ff"/><stop offset="0.4731" stop-color="#4554ff"/><stop offset="0.4808" stop-color="#4554ff"/><stop offset="0.4923" stop-color="#4554ff"/><stop offset="0.5000" stop-color="#4554ff"/><stop offset="0.5038" stop-color="#4554ff"/><stop offset="0.5115" stop-color="#4554ff"/><stop offset="0.5269" stop-color="#4959ff"/><stop offset="0.5385" stop-color="#4d5cff"/><stop offset="0.5577" stop-color="#5361ff"/><stop offset="0.5692" stop-color="#5765ff"/><stop offset="0.5885" stop-color="#5e6cff"/><stop offset="0.6154" stop-color="#6a77ff"/><stop offset="0.6231" stop-color="#6e7aff"/><stop offset="0.6654" stop-color="#8892ff"/><stop offset="0.7308" stop-color="#a1a9ff"/><stop offset="0.7962" stop-color="#b2b8ff"/><stop offset="0.8577" stop-color="#b9bfff"/><stop offset="0.9231" stop-color="#b8beff"/><stop offset="0.9615" stop-color="#acb3ff"/><stop offset="0.9692" stop-color="#a8afff"/><stop offset="0.9923" stop-color="#8f99ff"/><stop offset="1.0000" stop-color="#8892ff"/></linearGradient><linearGradient id="g18" gradientUnits="userSpaceOnUse" x1="52" y1="0" x2="364" y2="0"><stop offset="0.0000" stop-color="#a9b0ff"/><stop offset="0.0654" stop-color="#b0b7ff"/><stop offset="0.1269" stop-color="#bcc2ff"/><stop offset="0.1538" stop-color="#bfc4ff"/><stop offset="0.1731" stop-color="#c1c6ff"/><stop offset="0.1923" stop-color="#c3c8ff"/><stop offset="0.2115" stop-color="#c8cdff"/><stop offset="0.2231" stop-color="#cbcfff"/><stop offset="0.2423" stop-color="#d0d4ff"/><stop offset="0.2500" stop-color="#d2d6ff"/><stop offset="0.2577" stop-color="#d4d8ff"/><stop offset="0.2692" stop-color="#d6daff"/><stop offset="0.2731" stop-color="#d7daff"/><stop offset="0.2769" stop-color="#d8dbff"/><stop offset="0.2885" stop-color="#daddff"/><stop offset="0.3077" stop-color="#dee0ff"/><stop offset="0.3115" stop-color="#dee1ff"/><stop offset="0.3192" stop-color="#e0e3ff"/><stop offset="0.3346" stop-color="#b7bdff"/><stop offset="0.3385" stop-color="#afb6ff"/><stop offset="0.3462" stop-color="#9ea6ff"/><stop offset="0.3538" stop-color="#8d97ff"/><stop offset="0.3654" stop-color="#7480ff"/><stop offset="0.3846" stop-color="#6270ff"/><stop offset="0.3923" stop-color="#5b69ff"/><stop offset="0.3962" stop-color="#5866ff"/><stop offset="0.4115" stop-color="#505fff"/><stop offset="0.4231" stop-color="#4b5aff"/><stop offset="0.4308" stop-color="#4756ff"/><stop offset="0.4385" stop-color="#4756ff"/><stop offset="0.4423" stop-color="#4756ff"/><stop offset="0.4500" stop-color="#4756ff"/><stop offset="0.4615" stop-color="#4756ff"/><stop offset="0.4654" stop-color="#4756ff"/><stop offset="0.4731" stop-color="#4756ff"/><stop offset="0.4808" stop-color="#4756ff"/><stop offset="0.4923" stop-color="#4756ff"/><stop offset="0.5000" stop-color="#4756ff"/><stop offset="0.5038" stop-color="#4756ff"/><stop offset="0.5115" stop-color="#4756ff"/><stop offset="0.5269" stop-color="#4e5dff"/><stop offset="0.5385" stop-color="#5260ff"/><stop offset="0.5577" stop-color="#5866ff"/><stop offset="0.5692" stop-color="#5b69ff"/><stop offset="0.5885" stop-color="#616eff"/><stop offset="0.6154" stop-color="#6c79ff"/><stop offset="0.6231" stop-color="#707cff"/><stop offset="0.6654" stop-color="#8892ff"/><stop offset="0.7308" stop-color="#9fa7ff"/><stop offset="0.7962" stop-color="#b0b7ff"/><stop offset="0.8577" stop-color="#b7bdff"/><stop offset="0.9231" stop-color="#b7bdff"/><stop offset="0.9615" stop-color="#abb2ff"/><stop offset="0.9692" stop-color="#a9b0ff"/><stop offset="0.9923" stop-color="#919aff"/><stop offset="1.0000" stop-color="#8892ff"/></linearGradient><linearGradient id="g19" gradientUnits="userSpaceOnUse" x1="52" y1="0" x2="364" y2="0"><stop offset="0.0000" stop-color="#a7aeff"/><stop offset="0.0654" stop-color="#afb6ff"/><stop offset="0.1269" stop-color="#bac0ff"/><stop offset="0.1538" stop-color="#bec3ff"/><stop offset="0.1731" stop-color="#c0c6ff"/><stop offset="0.1923" stop-color="#c3c8ff"/><stop offset="0.2115" stop-color="#c7ccff"/><stop offset="0.2231" stop-color="#caceff"/><stop offset="0.2423" stop-color="#ced2ff"/><stop offset="0.2500" stop-color="#cfd3ff"/><stop offset="0.2577" stop-color="#d1d5ff"/><stop offset="0.2692" stop-color="#d3d7ff"/><stop offset="0.2731" stop-color="#d4d7ff"/><stop offset="0.2769" stop-color="#d5d8ff"/><stop offset="0.2885" stop-color="#d8dcff"/><stop offset="0.3077" stop-color="#dee1ff"/><stop offset="0.3115" stop-color="#dfe2ff"/><stop offset="0.3192" stop-color="#dee0ff"/><stop offset="0.3346" stop-color="#c1c6ff"/><stop offset="0.3385" stop-color="#bbc0ff"/><stop offset="0.3462" stop-color="#aeb5ff"/><stop offset="0.3538" stop-color="#a2aaff"/><stop offset="0.3654" stop-color="#8c96ff"/><stop offset="0.3846" stop-color="#7681ff"/><stop offset="0.3923" stop-color="#6d79ff"/><stop offset="0.3962" stop-color="#6975ff"/><stop offset="0.4115" stop-color="#5d6aff"/><stop offset="0.4231" stop-color="#5462ff"/><stop offset="0.4308" stop-color="#4e5dff"/><stop offset="0.4385" stop-color="#4c5bff"/><stop offset="0.4423" stop-color="#4c5bff"/><stop offset="0.4500" stop-color="#4b5aff"/><stop offset="0.4615" stop-color="#4958ff"/><stop offset="0.4654" stop-color="#4857ff"/><stop offset="0.4731" stop-color="#4756ff"/><stop offset="0.4808" stop-color="#4756ff"/><stop offset="0.4923" stop-color="#4756ff"/><stop offset="0.5000" stop-color="#4756ff"/><stop offset="0.5038" stop-color="#4756ff"/><stop offset="0.5115" stop-color="#4756ff"/><stop offset="0.5269" stop-color="#4b5aff"/><stop offset="0.5385" stop-color="#4d5cff"/><stop offset="0.5577" stop-color="#505fff"/><stop offset="0.5692" stop-color="#5261ff"/><stop offset="0.5885" stop-color="#5967ff"/><stop offset="0.6154" stop-color="#6572ff"/><stop offset="0.6231" stop-color="#6875ff"/><stop offset="0.6654" stop-color="#808aff"/><stop offset="0.7308" stop-color="#9ba3ff"/><stop offset="0.7962" stop-color="#acb3ff"/><stop offset="0.8577" stop-color="#b4bbff"/><stop offset="0.9231" stop-color="#b5bcff"/><stop offset="0.9615" stop-color="#a9b1ff"/><stop offset="0.9692" stop-color="#a7aeff"/><stop offset="0.9923" stop-color="#9099ff"/><stop offset="1.0000" stop-color="#8892ff"/></linearGradient><linearGradient id="g20" gradientUnits="userSpaceOnUse" x1="52" y1="0" x2="364" y2="0"><stop offset="0.0000" stop-color="#a5adff"/><stop offset="0.0654" stop-color="#aeb5ff"/><stop offset="0.1269" stop-color="#b9beff"/><stop offset="0.1538" stop-color="#bdc2ff"/><stop offset="0.1731" stop-color="#c0c5ff"/><stop offset="0.1923" stop-color="#c2c8ff"/><stop offset="0.2115" stop-color="#c6cbff"/><stop offset="0.2231" stop-color="#c8cdff"/><stop offset="0.2423" stop-color="#cbd0ff"/><stop offset="0.2500" stop-color="#cdd1ff"/><stop offset="0.2577" stop-color="#ced2ff"/><stop offset="0.2692" stop-color="#d0d4ff"/><stop offset="0.2731" stop-color="#d1d5ff"/><stop offset="0.2769" stop-color="#d2d6ff"/><stop offset="0.2885" stop-color="#d7daff"/><stop offset="0.3077" stop-color="#dee1ff"/><stop offset="0.3115" stop-color="#e0e2ff"/><stop offset="0.3192" stop-color="#dbdeff"/><stop offset="0.3346" stop-color="#cacfff"/><stop offset="0.3385" stop-color="#c6cbff"/><stop offset="0.3462" stop-color="#bec4ff"/><stop offset="0.3538" stop-color="#b7bdff"/><stop offset="0.3654" stop-color="#a4abff"/><stop offset="0.3846" stop-color="#8993ff"/><stop offset="0.3923" stop-color="#7f89ff"/><stop offset="0.3962" stop-color="#7a85ff"/><stop offset="0.4115" stop-color="#6976ff"/><stop offset="0.4231" stop-color="#5d6aff"/><stop offset="0.4308" stop-color="#5463ff"/><stop offset="0.4385" stop-color="#5260ff"/><stop offset="0.4423" stop-color="#515fff"/><stop offset="0.4500" stop-color="#4e5dff"/><stop offset="0.4615" stop-color="#4b5aff"/><stop offset="0.4654" stop-color="#4959ff"/><stop offset="0.4731" stop-color="#4756ff"/><stop offset="0.4808" stop-color="#4756ff"/><stop offset="0.4923" stop-color="#4756ff"/><stop offset="0.5000" stop-color="#4656ff"/><stop offset="0.5038" stop-color="#4656ff"/><stop offset="0.5115" stop-color="#4656ff"/><stop offset="0.5269" stop-color="#4757ff"/><stop offset="0.5385" stop-color="#4857ff"/><stop offset="0.5577" stop-color="#4958ff"/><stop offset="0.5692" stop-color="#4958ff"/><stop offset="0.5885" stop-color="#5160ff"/><stop offset="0.6154" stop-color="#5d6aff"/><stop offset="0.6231" stop-color="#606eff"/><stop offset="0.6654" stop-color="#7883ff"/><stop offset="0.7308" stop-color="#969fff"/><stop offset="0.7962" stop-color="#a8b0ff"/><stop offset="0.8577" stop-color="#b2b8ff"/><stop offset="0.9231" stop-color="#b3baff"/><stop offset="0.9615" stop-color="#a8afff"/><stop offset="0.9692" stop-color="#a5adff"/><stop offset="0.9923" stop-color="#8f99ff"/><stop offset="1.0000" stop-color="#8892ff"/></linearGradient><linearGradient id="g21" gradientUnits="userSpaceOnUse" x1="52" y1="0" x2="364" y2="0"><stop offset="0.0000" stop-color="#a3abff"/><stop offset="0.0654" stop-color="#adb4ff"/><stop offset="0.1269" stop-color="#b7bdff"/><stop offset="0.1538" stop-color="#bbc1ff"/><stop offset="0.1731" stop-color="#bec4ff"/><stop offset="0.1923" stop-color="#c1c6ff"/><stop offset="0.2115" stop-color="#c4c9ff"/><stop offset="0.2231" stop-color="#c6cbff"/><stop offset="0.2423" stop-color="#c9ceff"/><stop offset="0.2500" stop-color="#cbcfff"/><stop offset="0.2577" stop-color="#ccd0ff"/><stop offset="0.2692" stop-color="#ced2ff"/><stop offset="0.2731" stop-color="#cfd3ff"/><stop offset="0.2769" stop-color="#d0d4ff"/><stop offset="0.2885" stop-color="#d5d8ff"/><stop offset="0.3077" stop-color="#dcdfff"/><stop offset="0.3115" stop-color="#dee0ff"/><stop offset="0.3192" stop-color="#d9dcff"/><stop offset="0.3346" stop-color="#d0d4ff"/><stop offset="0.3385" stop-color="#ced2ff"/><stop offset="0.3462" stop-color="#c9ceff"/><stop offset="0.3538" stop-color="#c4c9ff"/><stop offset="0.3654" stop-color="#b6bcff"/><stop offset="0.3846" stop-color="#9fa7ff"/><stop offset="0.3923" stop-color="#949dff"/><stop offset="0.3962" stop-color="#8f99ff"/><stop offset="0.4115" stop-color="#7d88ff"/><stop offset="0.4231" stop-color="#6b78ff"/><stop offset="0.4308" stop-color="#606dff"/><stop offset="0.4385" stop-color="#5b69ff"/><stop offset="0.4423" stop-color="#5967ff"/><stop offset="0.4500" stop-color="#5462ff"/><stop offset="0.4615" stop-color="#4d5cff"/><stop offset="0.4654" stop-color="#4b5aff"/><stop offset="0.4731" stop-color="#4857ff"/><stop offset="0.4808" stop-color="#4756ff"/><stop offset="0.4923" stop-color="#4555ff"/><stop offset="0.5000" stop-color="#4555ff"/><stop offset="0.5038" stop-color="#4555ff"/><stop offset="0.5115" stop-color="#4555ff"/><stop offset="0.5269" stop-color="#4554ff"/><stop offset="0.5385" stop-color="#4454ff"/><stop offset="0.5577" stop-color="#4454ff"/><stop offset="0.5692" stop-color="#4453ff"/><stop offset="0.5885" stop-color="#4b5aff"/><stop offset="0.6154" stop-color="#5664ff"/><stop offset="0.6231" stop-color="#5967ff"/><stop offset="0.6654" stop-color="#707cff"/><stop offset="0.7308" stop-color="#8f99ff"/><stop offset="0.7962" stop-color="#a3abff"/><stop offset="0.8577" stop-color="#adb4ff"/><stop offset="0.9231" stop-color="#b1b7ff"/><stop offset="0.9615" stop-color="#a6adff"/><stop offset="0.9692" stop-color="#a3abff"/><stop offset="0.9923" stop-color="#8e98ff"/><stop offset="1.0000" stop-color="#8892ff"/></linearGradient><linearGradient id="g22" gradientUnits="userSpaceOnUse" x1="52" y1="0" x2="364" y2="0"><stop offset="0.0000" stop-color="#a2aaff"/><stop offset="0.0654" stop-color="#abb2ff"/><stop offset="0.1269" stop-color="#b5bbff"/><stop offset="0.1538" stop-color="#b9bfff"/><stop offset="0.1731" stop-color="#bcc2ff"/><stop offset="0.1923" stop-color="#bfc5ff"/><stop offset="0.2115" stop-color="#c2c8ff"/><stop offset="0.2231" stop-color="#c4c9ff"/><stop offset="0.2423" stop-color="#c8ccff"/><stop offset="0.2500" stop-color="#c9ceff"/><stop offset="0.2577" stop-color="#cacfff"/><stop offset="0.2692" stop-color="#ccd1ff"/><stop offset="0.2731" stop-color="#cdd1ff"/><stop offset="0.2769" stop-color="#ced2ff"/><stop offset="0.2885" stop-color="#d2d6ff"/><stop offset="0.3077" stop-color="#d8dbff"/><stop offset="0.3115" stop-color="#d9dcff"/><stop offset="0.3192" stop-color="#d7daff"/><stop offset="0.3346" stop-color="#d2d6ff"/><stop offset="0.3385" stop-color="#d1d5ff"/><stop offset="0.3462" stop-color="#ced2ff"/><stop offset="0.3538" stop-color="#ccd0ff"/><stop offset="0.3654" stop-color="#c4c8ff"/><stop offset="0.3846" stop-color="#b6bcff"/><stop offset="0.3923" stop-color="#adb4ff"/><stop offset="0.3962" stop-color="#a9b0ff"/><stop offset="0.4115" stop-color="#98a1ff"/><stop offset="0.4231" stop-color="#808aff"/><stop offset="0.4308" stop-color="#707cff"/><stop offset="0.4385" stop-color="#6874ff"/><stop offset="0.4423" stop-color="#6370ff"/><stop offset="0.4500" stop-color="#5b69ff"/><stop offset="0.4615" stop-color="#4f5eff"/><stop offset="0.4654" stop-color="#4d5cff"/><stop offset="0.4731" stop-color="#4959ff"/><stop offset="0.4808" stop-color="#4756ff"/><stop offset="0.4923" stop-color="#4353ff"/><stop offset="0.5000" stop-color="#4353ff"/><stop offset="0.5038" stop-color="#4353ff"/><stop offset="0.5115" stop-color="#4353ff"/><stop offset="0.5269" stop-color="#4352ff"/><stop offset="0.5385" stop-color="#4352ff"/><stop offset="0.5577" stop-color="#4252ff"/><stop offset="0.5692" stop-color="#4252ff"/><stop offset="0.5885" stop-color="#4656ff"/><stop offset="0.6154" stop-color="#4f5eff"/><stop offset="0.6231" stop-color="#5260ff"/><stop offset="0.6654" stop-color="#6673ff"/><stop offset="0.7308" stop-color="#8892ff"/><stop offset="0.7962" stop-color="#9ca4ff"/><stop offset="0.8577" stop-color="#a8afff"/><stop offset="0.9231" stop-color="#aeb5ff"/><stop offset="0.9615" stop-color="#a4abff"/><stop offset="0.9692" stop-color="#a2aaff"/><stop offset="0.9923" stop-color="#8d97ff"/><stop offset="1.0000" stop-color="#8892ff"/></linearGradient><linearGradient id="g23" gradientUnits="userSpaceOnUse" x1="52" y1="0" x2="364" y2="0"><stop offset="0.0000" stop-color="#a0a8ff"/><stop offset="0.0654" stop-color="#aab1ff"/><stop offset="0.1269" stop-color="#b3baff"/><stop offset="0.1538" stop-color="#b7bdff"/><stop offset="0.1731" stop-color="#bac0ff"/><stop offset="0.1923" stop-color="#bdc3ff"/><stop offset="0.2115" stop-color="#c1c6ff"/><stop offset="0.2231" stop-color="#c3c8ff"/><stop offset="0.2423" stop-color="#c6cbff"/><stop offset="0.2500" stop-color="#c7ccff"/><stop offset="0.2577" stop-color="#c9cdff"/><stop offset="0.2692" stop-color="#cbcfff"/><stop offset="0.2731" stop-color="#ccd0ff"/><stop offset="0.2769" stop-color="#cdd1ff"/><stop offset="0.2885" stop-color="#cfd3ff"/><stop offset="0.3077" stop-color="#d4d7ff"/><stop offset="0.3115" stop-color="#d5d8ff"/><stop offset="0.3192" stop-color="#d5d9ff"/><stop offset="0.3346" stop-color="#d4d8ff"/><stop offset="0.3385" stop-color="#d4d7ff"/><stop offset="0.3462" stop-color="#d3d7ff"/><stop offset="0.3538" stop-color="#d3d7ff"/><stop offset="0.3654" stop-color="#d1d5ff"/><stop offset="0.3846" stop-color="#cdd1ff"/><stop offset="0.3923" stop-color="#c6caff"/><stop offset="0.3962" stop-color="#c2c7ff"/><stop offset="0.4115" stop-color="#b3baff"/><stop offset="0.4231" stop-color="#949dff"/><stop offset="0.4308" stop-color="#808aff"/><stop offset="0.4385" stop-color="#7480ff"/><stop offset="0.4423" stop-color="#6e7aff"/><stop offset="0.4500" stop-color="#6370ff"/><stop offset="0.4615" stop-color="#5260ff"/><stop offset="0.4654" stop-color="#4f5eff"/><stop offset="0.4731" stop-color="#4b5aff"/><stop offset="0.4808" stop-color="#4756ff"/><stop offset="0.4923" stop-color="#4151ff"/><stop offset="0.5000" stop-color="#4151ff"/><stop offset="0.5038" stop-color="#4151ff"/><stop offset="0.5115" stop-color="#4151ff"/><stop offset="0.5269" stop-color="#4151ff"/><stop offset="0.5385" stop-color="#4151ff"/><stop offset="0.5577" stop-color="#4151ff"/><stop offset="0.5692" stop-color="#4151ff"/><stop offset="0.5885" stop-color="#4252ff"/><stop offset="0.6154" stop-color="#4958ff"/><stop offset="0.6231" stop-color="#4b5aff"/><stop offset="0.6654" stop-color="#5c6aff"/><stop offset="0.7308" stop-color="#808aff"/><stop offset="0.7962" stop-color="#959eff"/><stop offset="0.8577" stop-color="#a2aaff"/><stop offset="0.9231" stop-color="#abb2ff"/><stop offset="0.9615" stop-color="#a2aaff"/><stop offset="0.9692" stop-color="#a0a8ff"/><stop offset="0.9923" stop-color="#8d96ff"/><stop offset="1.0000" stop-color="#8892ff"/></linearGradient><linearGradient id="g24" gradientUnits="userSpaceOnUse" x1="52" y1="0" x2="364" y2="0"><stop offset="0.0000" stop-color="#9fa7ff"/><stop offset="0.0654" stop-color="#a9b0ff"/><stop offset="0.1269" stop-color="#b3b9ff"/><stop offset="0.1538" stop-color="#b6bdff"/><stop offset="0.1731" stop-color="#b9bfff"/><stop offset="0.1923" stop-color="#bcc2ff"/><stop offset="0.2115" stop-color="#c0c5ff"/><stop offset="0.2231" stop-color="#c2c7ff"/><stop offset="0.2423" stop-color="#c5caff"/><stop offset="0.2500" stop-color="#c7cbff"/><stop offset="0.2577" stop-color="#c8cdff"/><stop offset="0.2692" stop-color="#caceff"/><stop offset="0.2731" stop-color="#cbcfff"/><stop offset="0.2769" stop-color="#cbd0ff"/><stop offset="0.2885" stop-color="#cdd1ff"/><stop offset="0.3077" stop-color="#d0d4ff"/><stop offset="0.3115" stop-color="#d1d5ff"/><stop offset="0.3192" stop-color="#d2d6ff"/><stop offset="0.3346" stop-color="#d3d7ff"/><stop offset="0.3385" stop-color="#d4d7ff"/><stop offset="0.3462" stop-color="#d4d8ff"/><stop offset="0.3538" stop-color="#d5d8ff"/><stop offset="0.3654" stop-color="#d7daff"/><stop offset="0.3846" stop-color="#daddff"/><stop offset="0.3923" stop-color="#d5d9ff"/><stop offset="0.3962" stop-color="#d3d7ff"/><stop offset="0.4115" stop-color="#caceff"/><stop offset="0.4231" stop-color="#b1b7ff"/><stop offset="0.4308" stop-color="#9ea6ff"/><stop offset="0.4385" stop-color="#939cff"/><stop offset="0.4423" stop-color="#8b94ff"/><stop offset="0.4500" stop-color="#7b86ff"/><stop offset="0.4615" stop-color="#6370ff"/><stop offset="0.4654" stop-color="#5e6cff"/><stop offset="0.4731" stop-color="#5866ff"/><stop offset="0.4808" stop-color="#5160ff"/><stop offset="0.4923" stop-color="#4757ff"/><stop offset="0.5000" stop-color="#4454ff"/><stop offset="0.5038" stop-color="#4353ff"/><stop offset="0.5115" stop-color="#4151ff"/><stop offset="0.5269" stop-color="#3d4dff"/><stop offset="0.5385" stop-color="#3a4aff"/><stop offset="0.5577" stop-color="#3a4aff"/><stop offset="0.5692" stop-color="#3a4aff"/><stop offset="0.5885" stop-color="#3b4bff"/><stop offset="0.6154" stop-color="#4151ff"/><stop offset="0.6231" stop-color="#4353ff"/><stop offset="0.6654" stop-color="#5563ff"/><stop offset="0.7308" stop-color="#7984ff"/><stop offset="0.7962" stop-color="#8f98ff"/><stop offset="0.8577" stop-color="#9ea6ff"/><stop offset="0.9231" stop-color="#a8afff"/><stop offset="0.9615" stop-color="#a2aaff"/><stop offset="0.9692" stop-color="#a1a8ff"/><stop offset="0.9923" stop-color="#8d96ff"/><stop offset="1.0000" stop-color="#8892ff"/></linearGradient><linearGradient id="g25" gradientUnits="userSpaceOnUse" x1="52" y1="0" x2="364" y2="0"><stop offset="0.0000" stop-color="#9fa7ff"/><stop offset="0.0654" stop-color="#a9b0ff"/><stop offset="0.1269" stop-color="#b3b9ff"/><stop offset="0.1538" stop-color="#b6bdff"/><stop offset="0.1731" stop-color="#b9bfff"/><stop offset="0.1923" stop-color="#bcc2ff"/><stop offset="0.2115" stop-color="#c0c5ff"/><stop offset="0.2231" stop-color="#c2c7ff"/><stop offset="0.2423" stop-color="#c5caff"/><stop offset="0.2500" stop-color="#c7cbff"/><stop offset="0.2577" stop-color="#c8cdff"/><stop offset="0.2692" stop-color="#c9ceff"/><stop offset="0.2731" stop-color="#caceff"/><stop offset="0.2769" stop-color="#caceff"/><stop offset="0.2885" stop-color="#cbd0ff"/><stop offset="0.3077" stop-color="#cdd1ff"/><stop offset="0.3115" stop-color="#ced2ff"/><stop offset="0.3192" stop-color="#ced3ff"/><stop offset="0.3346" stop-color="#d0d4ff"/><stop offset="0.3385" stop-color="#d0d4ff"/><stop offset="0.3462" stop-color="#d0d4ff"/><stop offset="0.3538" stop-color="#d1d5ff"/><stop offset="0.3654" stop-color="#d5d9ff"/><stop offset="0.3846" stop-color="#dcdfff"/><stop offset="0.3923" stop-color="#dcdfff"/><stop offset="0.3962" stop-color="#dcdfff"/><stop offset="0.4115" stop-color="#dcdeff"/><stop offset="0.4231" stop-color="#d5d8ff"/><stop offset="0.4308" stop-color="#cbcfff"/><stop offset="0.4385" stop-color="#c3c8ff"/><stop offset="0.4423" stop-color="#b8beff"/><stop offset="0.4500" stop-color="#a3abff"/><stop offset="0.4615" stop-color="#838eff"/><stop offset="0.4654" stop-color="#7a85ff"/><stop offset="0.4731" stop-color="#707cff"/><stop offset="0.4808" stop-color="#6572ff"/><stop offset="0.4923" stop-color="#5664ff"/><stop offset="0.5000" stop-color="#4d5cff"/><stop offset="0.5038" stop-color="#4958ff"/><stop offset="0.5115" stop-color="#4353ff"/><stop offset="0.5269" stop-color="#3748ff"/><stop offset="0.5385" stop-color="#2e3fff"/><stop offset="0.5577" stop-color="#2e3fff"/><stop offset="0.5692" stop-color="#2e3fff"/><stop offset="0.5885" stop-color="#3243ff"/><stop offset="0.6154" stop-color="#3849ff"/><stop offset="0.6231" stop-color="#3a4bff"/><stop offset="0.6654" stop-color="#4f5dff"/><stop offset="0.7308" stop-color="#737eff"/><stop offset="0.7962" stop-color="#8a94ff"/><stop offset="0.8577" stop-color="#9ca4ff"/><stop offset="0.9231" stop-color="#a5adff"/><stop offset="0.9615" stop-color="#a3abff"/><stop offset="0.9692" stop-color="#a3abff"/><stop offset="0.9923" stop-color="#8e98ff"/><stop offset="1.0000" stop-color="#8892ff"/></linearGradient><linearGradient id="g26" gradientUnits="userSpaceOnUse" x1="52" y1="0" x2="364" y2="0"><stop offset="0.0000" stop-color="#9fa7ff"/><stop offset="0.0654" stop-color="#a9b0ff"/><stop offset="0.1269" stop-color="#b3b9ff"/><stop offset="0.1538" stop-color="#b6bdff"/><stop offset="0.1731" stop-color="#b9bfff"/><stop offset="0.1923" stop-color="#bcc2ff"/><stop offset="0.2115" stop-color="#c0c5ff"/><stop offset="0.2231" stop-color="#c2c7ff"/><stop offset="0.2423" stop-color="#c5caff"/><stop offset="0.2500" stop-color="#c7cbff"/><stop offset="0.2577" stop-color="#c8cdff"/><stop offset="0.2692" stop-color="#c9ceff"/><stop offset="0.2731" stop-color="#c9ceff"/><stop offset="0.2769" stop-color="#caceff"/><stop offset="0.2885" stop-color="#cbcfff"/><stop offset="0.3077" stop-color="#ccd0ff"/><stop offset="0.3115" stop-color="#ccd1ff"/><stop offset="0.3192" stop-color="#cdd1ff"/><stop offset="0.3346" stop-color="#ced2ff"/><stop offset="0.3385" stop-color="#cfd3ff"/><stop offset="0.3462" stop-color="#cfd3ff"/><stop offset="0.3538" stop-color="#d0d4ff"/><stop offset="0.3654" stop-color="#d4d8ff"/><stop offset="0.3846" stop-color="#dbdeff"/><stop offset="0.3923" stop-color="#dee1ff"/><stop offset="0.3962" stop-color="#dfe2ff"/><stop offset="0.4115" stop-color="#e2e5ff"/><stop offset="0.4231" stop-color="#e5e7ff"/><stop offset="0.4308" stop-color="#e0e3ff"/><stop offset="0.4385" stop-color="#dcdfff"/><stop offset="0.4423" stop-color="#d2d6ff"/><stop offset="0.4500" stop-color="#c0c5ff"/><stop offset="0.4615" stop-color="#a4acff"/><stop offset="0.4654" stop-color="#99a2ff"/><stop offset="0.4731" stop-color="#8c96ff"/><stop offset="0.4808" stop-color="#808aff"/><stop offset="0.4923" stop-color="#6875ff"/><stop offset="0.5000" stop-color="#5967ff"/><stop offset="0.5038" stop-color="#5361ff"/><stop offset="0.5115" stop-color="#4959ff"/><stop offset="0.5269" stop-color="#3748ff"/><stop offset="0.5385" stop-color="#2c3eff"/><stop offset="0.5577" stop-color="#2a3cff"/><stop offset="0.5692" stop-color="#2a3cff"/><stop offset="0.5885" stop-color="#2e40ff"/><stop offset="0.6154" stop-color="#3445ff"/><stop offset="0.6231" stop-color="#3647ff"/><stop offset="0.6654" stop-color="#4a59ff"/><stop offset="0.7308" stop-color="#6f7bff"/><stop offset="0.7962" stop-color="#8791ff"/><stop offset="0.8577" stop-color="#9ba3ff"/><stop offset="0.9231" stop-color="#a4acff"/><stop offset="0.9615" stop-color="#a5adff"/><stop offset="0.9692" stop-color="#a5adff"/><stop offset="0.9923" stop-color="#8f99ff"/><stop offset="1.0000" stop-color="#8892ff"/></linearGradient><linearGradient id="g27" gradientUnits="userSpaceOnUse" x1="52" y1="0" x2="364" y2="0"><stop offset="0.0000" stop-color="#9fa7ff"/><stop offset="0.0654" stop-color="#a9b0ff"/><stop offset="0.1269" stop-color="#b3b9ff"/><stop offset="0.1538" stop-color="#b6bdff"/><stop offset="0.1731" stop-color="#b9bfff"/><stop offset="0.1923" stop-color="#bcc2ff"/><stop offset="0.2115" stop-color="#c0c5ff"/><stop offset="0.2231" stop-color="#c2c7ff"/><stop offset="0.2423" stop-color="#c5caff"/><stop offset="0.2500" stop-color="#c7cbff"/><stop offset="0.2577" stop-color="#c8cdff"/><stop offset="0.2692" stop-color="#c9ceff"/><stop offset="0.2731" stop-color="#caceff"/><stop offset="0.2769" stop-color="#caceff"/><stop offset="0.2885" stop-color="#cbcfff"/><stop offset="0.3077" stop-color="#cdd1ff"/><stop offset="0.3115" stop-color="#cdd2ff"/><stop offset="0.3192" stop-color="#ced2ff"/><stop offset="0.3346" stop-color="#d0d4ff"/><stop offset="0.3385" stop-color="#d0d4ff"/><stop offset="0.3462" stop-color="#d1d5ff"/><stop offset="0.3538" stop-color="#d1d5ff"/><stop offset="0.3654" stop-color="#d4d8ff"/><stop offset="0.3846" stop-color="#d9dcff"/><stop offset="0.3923" stop-color="#dbdeff"/><stop offset="0.3962" stop-color="#dbdeff"/><stop offset="0.4115" stop-color="#dee0ff"/><stop offset="0.4231" stop-color="#dfe2ff"/><stop offset="0.4308" stop-color="#dee0ff"/><stop offset="0.4385" stop-color="#dde0ff"/><stop offset="0.4423" stop-color="#d9dcff"/><stop offset="0.4500" stop-color="#d1d5ff"/><stop offset="0.4615" stop-color="#c6caff"/><stop offset="0.4654" stop-color="#bcc2ff"/><stop offset="0.4731" stop-color="#aeb5ff"/><stop offset="0.4808" stop-color="#a0a8ff"/><stop offset="0.4923" stop-color="#7e88ff"/><stop offset="0.5000" stop-color="#6773ff"/><stop offset="0.5038" stop-color="#606dff"/><stop offset="0.5115" stop-color="#5563ff"/><stop offset="0.5269" stop-color="#3e4eff"/><stop offset="0.5385" stop-color="#3546ff"/><stop offset="0.5577" stop-color="#2f40ff"/><stop offset="0.5692" stop-color="#2f40ff"/><stop offset="0.5885" stop-color="#3142ff"/><stop offset="0.6154" stop-color="#3445ff"/><stop offset="0.6231" stop-color="#3546ff"/><stop offset="0.6654" stop-color="#4757ff"/><stop offset="0.7308" stop-color="#6d79ff"/><stop offset="0.7962" stop-color="#858fff"/><stop offset="0.8577" stop-color="#9ba3ff"/><stop offset="0.9231" stop-color="#a4acff"/><stop offset="0.9615" stop-color="#a7aeff"/><stop offset="0.9692" stop-color="#a7aeff"/><stop offset="0.9923" stop-color="#9099ff"/><stop offset="1.0000" stop-color="#8892ff"/></linearGradient><linearGradient id="g28" gradientUnits="userSpaceOnUse" x1="52" y1="0" x2="364" y2="0"><stop offset="0.0000" stop-color="#9fa7ff"/><stop offset="0.0654" stop-color="#a9b0ff"/><stop offset="0.1269" stop-color="#b3b9ff"/><stop offset="0.1538" stop-color="#b6bdff"/><stop offset="0.1731" stop-color="#b9bfff"/><stop offset="0.1923" stop-color="#bcc2ff"/><stop offset="0.2115" stop-color="#c0c5ff"/><stop offset="0.2231" stop-color="#c2c7ff"/><stop offset="0.2423" stop-color="#c5caff"/><stop offset="0.2500" stop-color="#c7cbff"/><stop offset="0.2577" stop-color="#c8cdff"/><stop offset="0.2692" stop-color="#c9ceff"/><stop offset="0.2731" stop-color="#caceff"/><stop offset="0.2769" stop-color="#cacfff"/><stop offset="0.2885" stop-color="#ccd0ff"/><stop offset="0.3077" stop-color="#ced2ff"/><stop offset="0.3115" stop-color="#ced2ff"/><stop offset="0.3192" stop-color="#cfd3ff"/><stop offset="0.3346" stop-color="#d1d5ff"/><stop offset="0.3385" stop-color="#d1d5ff"/><stop offset="0.3462" stop-color="#d2d6ff"/><stop offset="0.3538" stop-color="#d3d7ff"/><stop offset="0.3654" stop-color="#d4d8ff"/><stop offset="0.3846" stop-color="#d6daff"/><stop offset="0.3923" stop-color="#d7daff"/><stop offset="0.3962" stop-color="#d7dbff"/><stop offset="0.4115" stop-color="#d9dcff"/><stop offset="0.4231" stop-color="#daddff"/><stop offset="0.4308" stop-color="#dbdeff"/><stop offset="0.4385" stop-color="#dee1ff"/><stop offset="0.4423" stop-color="#e0e2ff"/><stop offset="0.4500" stop-color="#e3e5ff"/><stop offset="0.4615" stop-color="#e7e9ff"/><stop offset="0.4654" stop-color="#dfe2ff"/><stop offset="0.4731" stop-color="#d0d4ff"/><stop offset="0.4808" stop-color="#c1c6ff"/><stop offset="0.4923" stop-color="#939cff"/><stop offset="0.5000" stop-color="#7480ff"/><stop offset="0.5038" stop-color="#6e7aff"/><stop offset="0.5115" stop-color="#606dff"/><stop offset="0.5269" stop-color="#4554ff"/><stop offset="0.5385" stop-color="#3e4eff"/><stop offset="0.5577" stop-color="#3445ff"/><stop offset="0.5692" stop-color="#3445ff"/><stop offset="0.5885" stop-color="#3445ff"/><stop offset="0.6154" stop-color="#3445ff"/><stop offset="0.6231" stop-color="#3445ff"/><stop offset="0.6654" stop-color="#4554ff"/><stop offset="0.7308" stop-color="#6b77ff"/><stop offset="0.7962" stop-color="#838dff"/><stop offset="0.8577" stop-color="#9ba3ff"/><stop offset="0.9231" stop-color="#a4acff"/><stop offset="0.9615" stop-color="#a8afff"/><stop offset="0.9692" stop-color="#a9b0ff"/><stop offset="0.9923" stop-color="#919aff"/><stop offset="1.0000" stop-color="#8892ff"/></linearGradient><linearGradient id="g29" gradientUnits="userSpaceOnUse" x1="52" y1="0" x2="364" y2="0"><stop offset="0.0000" stop-color="#9fa7ff"/><stop offset="0.0654" stop-color="#a9b0ff"/><stop offset="0.1269" stop-color="#b3b9ff"/><stop offset="0.1538" stop-color="#b6bdff"/><stop offset="0.1731" stop-color="#b9bfff"/><stop offset="0.1923" stop-color="#bcc2ff"/><stop offset="0.2115" stop-color="#c0c5ff"/><stop offset="0.2231" stop-color="#c2c7ff"/><stop offset="0.2423" stop-color="#c5caff"/><stop offset="0.2500" stop-color="#c7cbff"/><stop offset="0.2577" stop-color="#c8cdff"/><stop offset="0.2692" stop-color="#caceff"/><stop offset="0.2731" stop-color="#cacfff"/><stop offset="0.2769" stop-color="#cbcfff"/><stop offset="0.2885" stop-color="#cdd1ff"/><stop offset="0.3077" stop-color="#d0d4ff"/><stop offset="0.3115" stop-color="#d0d4ff"/><stop offset="0.3192" stop-color="#d2d5ff"/><stop offset="0.3346" stop-color="#d4d8ff"/><stop offset="0.3385" stop-color="#d4d8ff"/><stop offset="0.3462" stop-color="#d5d8ff"/><stop offset="0.3538" stop-color="#d6d9ff"/><stop offset="0.3654" stop-color="#d7daff"/><stop offset="0.3846" stop-color="#d8dbff"/><stop offset="0.3923" stop-color="#d9dcff"/><stop offset="0.3962" stop-color="#d9dcff"/><stop offset="0.4115" stop-color="#daddff"/><stop offset="0.4231" stop-color="#dbdeff"/><stop offset="0.4308" stop-color="#dcdfff"/><stop offset="0.4385" stop-color="#dee1ff"/><stop offset="0.4423" stop-color="#dfe1ff"/><stop offset="0.4500" stop-color="#e4e6ff"/><stop offset="0.4615" stop-color="#ecedff"/><stop offset="0.4654" stop-color="#e4e7ff"/><stop offset="0.4731" stop-color="#d6d9ff"/><stop offset="0.4808" stop-color="#c7cbff"/><stop offset="0.4923" stop-color="#97a0ff"/><stop offset="0.5000" stop-color="#7783ff"/><stop offset="0.5038" stop-color="#6c78ff"/><stop offset="0.5115" stop-color="#5563ff"/><stop offset="0.5269" stop-color="#3e4eff"/><stop offset="0.5385" stop-color="#3a4bff"/><stop offset="0.5577" stop-color="#3445ff"/><stop offset="0.5692" stop-color="#3445ff"/><stop offset="0.5885" stop-color="#3445ff"/><stop offset="0.6154" stop-color="#3445ff"/><stop offset="0.6231" stop-color="#3546ff"/><stop offset="0.6654" stop-color="#4352ff"/><stop offset="0.7308" stop-color="#6975ff"/><stop offset="0.7962" stop-color="#818bff"/><stop offset="0.8577" stop-color="#99a1ff"/><stop offset="0.9231" stop-color="#a4acff"/><stop offset="0.9615" stop-color="#a8afff"/><stop offset="0.9692" stop-color="#a9b0ff"/><stop offset="0.9923" stop-color="#919aff"/><stop offset="1.0000" stop-color="#8892ff"/></linearGradient><linearGradient id="g30" gradientUnits="userSpaceOnUse" x1="52" y1="0" x2="364" y2="0"><stop offset="0.0000" stop-color="#9fa7ff"/><stop offset="0.0654" stop-color="#a9b0ff"/><stop offset="0.1269" stop-color="#b3b9ff"/><stop offset="0.1538" stop-color="#b6bdff"/><stop offset="0.1731" stop-color="#b9bfff"/><stop offset="0.1923" stop-color="#bcc2ff"/><stop offset="0.2115" stop-color="#c0c5ff"/><stop offset="0.2231" stop-color="#c2c7ff"/><stop offset="0.2423" stop-color="#c5caff"/><stop offset="0.2500" stop-color="#c7cbff"/><stop offset="0.2577" stop-color="#c8cdff"/><stop offset="0.2692" stop-color="#cacfff"/><stop offset="0.2731" stop-color="#cbcfff"/><stop offset="0.2769" stop-color="#ccd0ff"/><stop offset="0.2885" stop-color="#ced2ff"/><stop offset="0.3077" stop-color="#d2d6ff"/><stop offset="0.3115" stop-color="#d3d6ff"/><stop offset="0.3192" stop-color="#d4d8ff"/><stop offset="0.3346" stop-color="#d7dbff"/><stop offset="0.3385" stop-color="#d7dbff"/><stop offset="0.3462" stop-color="#d8dbff"/><stop offset="0.3538" stop-color="#d8dcff"/><stop offset="0.3654" stop-color="#d9dcff"/><stop offset="0.3846" stop-color="#daddff"/><stop offset="0.3923" stop-color="#dadeff"/><stop offset="0.3962" stop-color="#dbdeff"/><stop offset="0.4115" stop-color="#dcdfff"/><stop offset="0.4231" stop-color="#dcdfff"/><stop offset="0.4308" stop-color="#dde0ff"/><stop offset="0.4385" stop-color="#dee0ff"/><stop offset="0.4423" stop-color="#dee1ff"/><stop offset="0.4500" stop-color="#e5e8ff"/><stop offset="0.4615" stop-color="#f1f2ff"/><stop offset="0.4654" stop-color="#e9ebff"/><stop offset="0.4731" stop-color="#dbdeff"/><stop offset="0.4808" stop-color="#ccd1ff"/><stop offset="0.4923" stop-color="#9ba3ff"/><stop offset="0.5000" stop-color="#7a85ff"/><stop offset="0.5038" stop-color="#6a77ff"/><stop offset="0.5115" stop-color="#4a59ff"/><stop offset="0.5269" stop-color="#3748ff"/><stop offset="0.5385" stop-color="#3647ff"/><stop offset="0.5577" stop-color="#3445ff"/><stop offset="0.5692" stop-color="#3445ff"/><stop offset="0.5885" stop-color="#3445ff"/><stop offset="0.6154" stop-color="#3445ff"/><stop offset="0.6231" stop-color="#3546ff"/><stop offset="0.6654" stop-color="#4151ff"/><stop offset="0.7308" stop-color="#6774ff"/><stop offset="0.7962" stop-color="#7f8aff"/><stop offset="0.8577" stop-color="#97a0ff"/><stop offset="0.9231" stop-color="#a4acff"/><stop offset="0.9615" stop-color="#a8afff"/><stop offset="0.9692" stop-color="#a9b0ff"/><stop offset="0.9923" stop-color="#919aff"/><stop offset="1.0000" stop-color="#8892ff"/></linearGradient></defs><rect x="52" y="47" width="312" height="9" fill="url(#g1)"/>
<rect x="52" y="56" width="312" height="9" fill="url(#g2)"/>
<rect x="52" y="65" width="312" height="10" fill="url(#g3)"/>
<rect x="52" y="75" width="312" height="9" fill="url(#g4)"/>
<rect x="52" y="84" width="312" height="9" fill="url(#g5)"/>
<rect x="52" y="93" width="312" height="9" fill="url(#g6)"/>
<rect x="52" y="102" width="312" height="10" fill="url(#g7)"/>
<rect x="52" y="112" width="312" height="9" fill="url(#g8)"/>
<rect x="52" y="121" width="312" height="9" fill="url(#g9)"/>
<rect x="52" y="130" width="312" height="9" fill="url(#g10)"/>
<rect x="52" y="139" width="312" height="10" fill="url(#g11)"/>
<rect x="52" y="149" width="312" height="9" fill="url(#g12)"/>
<rect x="52" y="158" width="312" height="9" fill="url(#g13)"/>
<rect x="52" y="167" width="312" height="9" fill="url(#g14)"/>
<rect x="52" y="176" width="312" height="10" fill="url(#g15)"/>
<rect x="52" y="186" width="312" height="9" fill="url(#g16)"/>
<rect x="52" y="195" width="312" height="9" fill="url(#g17)"/>
<rect x="52" y="204" width="312" height="9" fill="url(#g18)"/>
<rect x="52" y="213" width="312" height="9" fill="url(#g19)"/>
<rect x="52" y="222" width="312" height="10" fill="url(#g20)"/>
<rect x="52" y="232" width="312" height="9" fill="url(#g21)"/>
<rect x="52" y="241" width="312" height="9" fill="url(#g22)"/>
<rect x="52" y="250" width="312" height="9" fill="url(#g23)"/>
<rect x="52" y="259" width="312" height="10" fill="url(#g24)"/>
<rect x="52" y="269" width="312" height="9" fill="url(#g25)"/>
<rect x="52" y="278" width="312" height="9" fill="url(#g26)"/>
<rect x="52" y="287" width="312" height="9" fill="url(#g27)"/>
<rect x="52" y="296" width="312" height="10" fill="url(#g28)"/>
<rect x="52" y="306" width="312" height="9" fill="url(#g29)"/>
<rect x="52" y="315" width="312" height="9" fill="url(#g30)"/>
<defs><linearGradient id="g31" gradientUnits="userSpaceOnUse" x1="52" y1="0" x2="364" y2="0"><stop offset="0.0000" stop-color="#9fa7ff"/><stop offset="0.2692" stop-color="#9fa7ff"/><stop offset="0.3077" stop-color="#9fa7ff"/><stop offset="0.3154" stop-color="#9fa7ff"/><stop offset="0.3192" stop-color="#9fa7ff"/><stop offset="0.3346" stop-color="#9fa7ff"/><stop offset="0.3654" stop-color="#9fa7ff"/><stop offset="0.3846" stop-color="#9fa7ff"/><stop offset="0.3962" stop-color="#9fa7ff"/><stop offset="0.4115" stop-color="#9fa7ff"/><stop offset="0.4308" stop-color="#9fa7ff"/><stop offset="0.4346" stop-color="#a1a8ff"/><stop offset="0.4423" stop-color="#a3abff"/><stop offset="0.4500" stop-color="#a5adff"/><stop offset="0.4577" stop-color="#a8afff"/><stop offset="0.4615" stop-color="#a9b0ff"/><stop offset="0.4731" stop-color="#adb4ff"/><stop offset="0.4808" stop-color="#b0b7ff"/><stop offset="0.4885" stop-color="#b3baff"/><stop offset="0.4923" stop-color="#b5bbff"/><stop offset="0.5000" stop-color="#b8beff"/><stop offset="0.5077" stop-color="#bac0ff"/><stop offset="0.5115" stop-color="#bcc1ff"/><stop offset="0.5192" stop-color="#bec4ff"/><stop offset="0.5269" stop-color="#c1c6ff"/><stop offset="0.5385" stop-color="#c1c6ff"/><stop offset="0.5462" stop-color="#c1c6ff"/><stop offset="0.5538" stop-color="#c1c6ff"/><stop offset="0.5577" stop-color="#c1c6ff"/><stop offset="0.5654" stop-color="#c0c5ff"/><stop offset="0.5692" stop-color="#bfc4ff"/><stop offset="0.5769" stop-color="#b9bfff"/><stop offset="0.5846" stop-color="#b3b9ff"/><stop offset="0.5885" stop-color="#b0b7ff"/><stop offset="0.5923" stop-color="#adb4ff"/><stop offset="0.6000" stop-color="#a7aeff"/><stop offset="0.6038" stop-color="#a3abff"/><stop offset="0.6077" stop-color="#9fa7ff"/><stop offset="0.6154" stop-color="#98a0ff"/><stop offset="0.6231" stop-color="#909aff"/><stop offset="0.6346" stop-color="#8690ff"/><stop offset="0.6654" stop-color="#717dff"/><stop offset="0.6731" stop-color="#6d79ff"/><stop offset="0.7308" stop-color="#616eff"/><stop offset="0.7692" stop-color="#626fff"/><stop offset="0.8077" stop-color="#6270ff"/><stop offset="0.8462" stop-color="#6370ff"/><stop offset="0.8846" stop-color="#6471ff"/><stop offset="0.9231" stop-color="#6572ff"/><stop offset="1.0000" stop-color="#6875ff"/></linearGradient><linearGradient id="g32" gradientUnits="userSpaceOnUse" x1="52" y1="0" x2="364" y2="0"><stop offset="0.0000" stop-color="#9fa7ff"/><stop offset="0.2692" stop-color="#9fa7ff"/><stop offset="0.3077" stop-color="#9fa7ff"/><stop offset="0.3154" stop-color="#9fa7ff"/><stop offset="0.3192" stop-color="#9fa7ff"/><stop offset="0.3346" stop-color="#9fa7ff"/><stop offset="0.3654" stop-color="#9fa7ff"/><stop offset="0.3846" stop-color="#9fa7ff"/><stop offset="0.3962" stop-color="#9fa7ff"/><stop offset="0.4115" stop-color="#9fa7ff"/><stop offset="0.4308" stop-color="#9fa7ff"/><stop offset="0.4346" stop-color="#a1a8ff"/><stop offset="0.4423" stop-color="#a3abff"/><stop offset="0.4500" stop-color="#a5adff"/><stop offset="0.4577" stop-color="#a8afff"/><stop offset="0.4615" stop-color="#a9b0ff"/><stop offset="0.4731" stop-color="#adb4ff"/><stop offset="0.4808" stop-color="#b0b7ff"/><stop offset="0.4885" stop-color="#b3baff"/><stop offset="0.4923" stop-color="#b5bbff"/><stop offset="0.5000" stop-color="#b8beff"/><stop offset="0.5077" stop-color="#bac0ff"/><stop offset="0.5115" stop-color="#bcc1ff"/><stop offset="0.5192" stop-color="#bec4ff"/><stop offset="0.5269" stop-color="#c1c6ff"/><stop offset="0.5385" stop-color="#c1c6ff"/><stop offset="0.5462" stop-color="#c1c6ff"/><stop offset="0.5538" stop-color="#c1c6ff"/><stop offset="0.5577" stop-color="#c1c6ff"/><stop offset="0.5654" stop-color="#bdc3ff"/><stop offset="0.5692" stop-color="#bbc1ff"/><stop offset="0.5769" stop-color="#b6bcff"/><stop offset="0.5846" stop-color="#b0b6ff"/><stop offset="0.5885" stop-color="#adb3ff"/><stop offset="0.5923" stop-color="#a9b0ff"/><stop offset="0.6000" stop-color="#a2aaff"/><stop offset="0.6038" stop-color="#9fa7ff"/><stop offset="0.6077" stop-color="#9ba3ff"/><stop offset="0.6154" stop-color="#939cff"/><stop offset="0.6231" stop-color="#8c96ff"/><stop offset="0.6346" stop-color="#838eff"/><stop offset="0.6654" stop-color="#6f7bff"/><stop offset="0.6731" stop-color="#6c79ff"/><stop offset="0.7308" stop-color="#616eff"/><stop offset="0.7692" stop-color="#626fff"/><stop offset="0.8077" stop-color="#6270ff"/><stop offset="0.8462" stop-color="#6370ff"/><stop offset="0.8846" stop-color="#6471ff"/><stop offset="0.9231" stop-color="#6572ff"/><stop offset="1.0000" stop-color="#6875ff"/></linearGradient><linearGradient id="g33" gradientUnits="userSpaceOnUse" x1="52" y1="0" x2="364" y2="0"><stop offset="0.0000" stop-color="#9fa7ff"/><stop offset="0.2692" stop-color="#9fa7ff"/><stop offset="0.3077" stop-color="#9fa7ff"/><stop offset="0.3154" stop-color="#9fa7ff"/><stop offset="0.3192" stop-color="#9fa7ff"/><stop offset="0.3346" stop-color="#9fa7ff"/><stop offset="0.3654" stop-color="#9fa7ff"/><stop offset="0.3846" stop-color="#9fa7ff"/><stop offset="0.3962" stop-color="#9fa7ff"/><stop offset="0.4115" stop-color="#9fa7ff"/><stop offset="0.4308" stop-color="#9fa7ff"/><stop offset="0.4346" stop-color="#a1a8ff"/><stop offset="0.4423" stop-color="#a3abff"/><stop offset="0.4500" stop-color="#a5adff"/><stop offset="0.4577" stop-color="#a8afff"/><stop offset="0.4615" stop-color="#a9b0ff"/><stop offset="0.4731" stop-color="#adb4ff"/><stop offset="0.4808" stop-color="#b0b7ff"/><stop offset="0.4885" stop-color="#b3baff"/><stop offset="0.4923" stop-color="#b5bbff"/><stop offset="0.5000" stop-color="#b8beff"/><stop offset="0.5077" stop-color="#bac0ff"/><stop offset="0.5115" stop-color="#bcc1ff"/><stop offset="0.5192" stop-color="#bec4ff"/><stop offset="0.5269" stop-color="#c1c6ff"/><stop offset="0.5385" stop-color="#c1c6ff"/><stop offset="0.5462" stop-color="#c1c6ff"/><stop offset="0.5538" stop-color="#c1c6ff"/><stop offset="0.5577" stop-color="#c1c6ff"/><stop offset="0.5654" stop-color="#bbc1ff"/><stop offset="0.5692" stop-color="#b8beff"/><stop offset="0.5769" stop-color="#b2b8ff"/><stop offset="0.5846" stop-color="#acb3ff"/><stop offset="0.5885" stop-color="#a9b0ff"/><stop offset="0.5923" stop-color="#a5adff"/><stop offset="0.6000" stop-color="#9ea6ff"/><stop offset="0.6038" stop-color="#9aa3ff"/><stop offset="0.6077" stop-color="#969fff"/><stop offset="0.6154" stop-color="#8f98ff"/><stop offset="0.6231" stop-color="#8892ff"/><stop offset="0.6346" stop-color="#808bff"/><stop offset="0.6654" stop-color="#6d79ff"/><stop offset="0.6731" stop-color="#6c78ff"/><stop offset="0.7308" stop-color="#616eff"/><stop offset="0.7692" stop-color="#626fff"/><stop offset="0.8077" stop-color="#6270ff"/><stop offset="0.8462" stop-color="#6370ff"/><stop offset="0.8846" stop-color="#6471ff"/><stop offset="0.9231" stop-color="#6572ff"/><stop offset="1.0000" stop-color="#6875ff"/></linearGradient><linearGradient id="g34" gradientUnits="userSpaceOnUse" x1="52" y1="0" x2="364" y2="0"><stop offset="0.0000" stop-color="#9fa7ff"/><stop offset="0.2692" stop-color="#9fa7ff"/><stop offset="0.3077" stop-color="#9fa7ff"/><stop offset="0.3154" stop-color="#9fa7ff"/><stop offset="0.3192" stop-color="#9fa7ff"/><stop offset="0.3346" stop-color="#9fa7ff"/><stop offset="0.3654" stop-color="#9fa7ff"/><stop offset="0.3846" stop-color="#9fa7ff"/><stop offset="0.3962" stop-color="#a0a8ff"/><stop offset="0.4115" stop-color="#a0a8ff"/><stop offset="0.4308" stop-color="#a1a9ff"/><stop offset="0.4346" stop-color="#a2aaff"/><stop offset="0.4423" stop-color="#a5adff"/><stop offset="0.4500" stop-color="#a9b0ff"/><stop offset="0.4577" stop-color="#acb3ff"/><stop offset="0.4615" stop-color="#aeb5ff"/><stop offset="0.4731" stop-color="#b3baff"/><stop offset="0.4808" stop-color="#b6bcff"/><stop offset="0.4885" stop-color="#b8beff"/><stop offset="0.4923" stop-color="#b9bfff"/><stop offset="0.5000" stop-color="#bbc1ff"/><stop offset="0.5077" stop-color="#bdc3ff"/><stop offset="0.5115" stop-color="#bec4ff"/><stop offset="0.5192" stop-color="#c0c5ff"/><stop offset="0.5269" stop-color="#c2c7ff"/><stop offset="0.5385" stop-color="#c1c6ff"/><stop offset="0.5462" stop-color="#c1c6ff"/><stop offset="0.5538" stop-color="#c0c6ff"/><stop offset="0.5577" stop-color="#c0c6ff"/><stop offset="0.5654" stop-color="#bcc2ff"/><stop offset="0.5692" stop-color="#bbc0ff"/><stop offset="0.5769" stop-color="#b5bbff"/><stop offset="0.5846" stop-color="#b0b6ff"/><stop offset="0.5885" stop-color="#adb4ff"/><stop offset="0.5923" stop-color="#aab1ff"/><stop offset="0.6000" stop-color="#a3abff"/><stop offset="0.6038" stop-color="#a0a8ff"/><stop offset="0.6077" stop-color="#9ca4ff"/><stop offset="0.6154" stop-color="#949dff"/><stop offset="0.6231" stop-color="#8d96ff"/><stop offset="0.6346" stop-color="#838eff"/><stop offset="0.6654" stop-color="#727dff"/><stop offset="0.6731" stop-color="#6f7bff"/><stop offset="0.7308" stop-color="#626fff"/><stop offset="0.7692" stop-color="#6370ff"/><stop offset="0.8077" stop-color="#6370ff"/><stop offset="0.8462" stop-color="#6370ff"/><stop offset="0.8846" stop-color="#6471ff"/><stop offset="0.9231" stop-color="#6572ff"/><stop offset="1.0000" stop-color="#6875ff"/></linearGradient><linearGradient id="g35" gradientUnits="userSpaceOnUse" x1="52" y1="0" x2="364" y2="0"><stop offset="0.0000" stop-color="#9fa7ff"/><stop offset="0.2692" stop-color="#9fa7ff"/><stop offset="0.3077" stop-color="#9fa7ff"/><stop offset="0.3154" stop-color="#9fa7ff"/><stop offset="0.3192" stop-color="#9fa7ff"/><stop offset="0.3346" stop-color="#9fa7ff"/><stop offset="0.3654" stop-color="#9fa7ff"/><stop offset="0.3846" stop-color="#9fa7ff"/><stop offset="0.3962" stop-color="#a0a8ff"/><stop offset="0.4115" stop-color="#a1a9ff"/><stop offset="0.4308" stop-color="#a3abff"/><stop offset="0.4346" stop-color="#a3abff"/><stop offset="0.4423" stop-color="#a8afff"/><stop offset="0.4500" stop-color="#acb3ff"/><stop offset="0.4577" stop-color="#b0b7ff"/><stop offset="0.4615" stop-color="#b3b9ff"/><stop offset="0.4731" stop-color="#b9bfff"/><stop offset="0.4808" stop-color="#bbc0ff"/><stop offset="0.4885" stop-color="#bcc2ff"/><stop offset="0.4923" stop-color="#bdc3ff"/><stop offset="0.5000" stop-color="#bfc4ff"/><stop offset="0.5077" stop-color="#c0c5ff"/><stop offset="0.5115" stop-color="#c1c6ff"/><stop offset="0.5192" stop-color="#c2c7ff"/><stop offset="0.5269" stop-color="#c2c7ff"/><stop offset="0.5385" stop-color="#c1c6ff"/><stop offset="0.5462" stop-color="#c1c6ff"/><stop offset="0.5538" stop-color="#c0c5ff"/><stop offset="0.5577" stop-color="#c0c5ff"/><stop offset="0.5654" stop-color="#bec3ff"/><stop offset="0.5692" stop-color="#bdc3ff"/><stop offset="0.5769" stop-color="#b8beff"/><stop offset="0.5846" stop-color="#b3b9ff"/><stop offset="0.5885" stop-color="#b1b7ff"/><stop offset="0.5923" stop-color="#aeb5ff"/><stop offset="0.6000" stop-color="#a9b0ff"/><stop offset="0.6038" stop-color="#a6adff"/><stop offset="0.6077" stop-color="#a2aaff"/><stop offset="0.6154" stop-color="#9aa2ff"/><stop offset="0.6231" stop-color="#929bff"/><stop offset="0.6346" stop-color="#8690ff"/><stop offset="0.6654" stop-color="#7681ff"/><stop offset="0.6731" stop-color="#737eff"/><stop offset="0.7308" stop-color="#6370ff"/><stop offset="0.7692" stop-color="#6370ff"/><stop offset="0.8077" stop-color="#6370ff"/><stop offset="0.8462" stop-color="#6471ff"/><stop offset="0.8846" stop-color="#6471ff"/><stop offset="0.9231" stop-color="#6572ff"/><stop offset="1.0000" stop-color="#6875ff"/></linearGradient><linearGradient id="g36" gradientUnits="userSpaceOnUse" x1="52" y1="0" x2="364" y2="0"><stop offset="0.0000" stop-color="#9fa7ff"/><stop offset="0.2692" stop-color="#9fa7ff"/><stop offset="0.3077" stop-color="#9fa7ff"/><stop offset="0.3154" stop-color="#9fa7ff"/><stop offset="0.3192" stop-color="#9fa7ff"/><stop offset="0.3346" stop-color="#9fa7ff"/><stop offset="0.3654" stop-color="#a1a8ff"/><stop offset="0.3846" stop-color="#a1a9ff"/><stop offset="0.3962" stop-color="#a3aaff"/><stop offset="0.4115" stop-color="#a5acff"/><stop offset="0.4308" stop-color="#a7aeff"/><stop offset="0.4346" stop-color="#a8afff"/><stop offset="0.4423" stop-color="#acb3ff"/><stop offset="0.4500" stop-color="#b0b7ff"/><stop offset="0.4577" stop-color="#b4baff"/><stop offset="0.4615" stop-color="#b6bcff"/><stop offset="0.4731" stop-color="#bcc2ff"/><stop offset="0.4808" stop-color="#bdc3ff"/><stop offset="0.4885" stop-color="#bfc4ff"/><stop offset="0.4923" stop-color="#bfc4ff"/><stop offset="0.5000" stop-color="#c0c5ff"/><stop offset="0.5077" stop-color="#c1c6ff"/><stop offset="0.5115" stop-color="#c2c7ff"/><stop offset="0.5192" stop-color="#c2c7ff"/><stop offset="0.5269" stop-color="#c0c5ff"/><stop offset="0.5385" stop-color="#bec3ff"/><stop offset="0.5462" stop-color="#bcc2ff"/><stop offset="0.5538" stop-color="#bac0ff"/><stop offset="0.5577" stop-color="#b9bfff"/><stop offset="0.5654" stop-color="#b7bdff"/><stop offset="0.5692" stop-color="#b6bcff"/><stop offset="0.5769" stop-color="#b0b7ff"/><stop offset="0.5846" stop-color="#abb2ff"/><stop offset="0.5885" stop-color="#a8b0ff"/><stop offset="0.5923" stop-color="#a6aeff"/><stop offset="0.6000" stop-color="#a1a9ff"/><stop offset="0.6038" stop-color="#9fa7ff"/><stop offset="0.6077" stop-color="#9ba4ff"/><stop offset="0.6154" stop-color="#949dff"/><stop offset="0.6231" stop-color="#8c96ff"/><stop offset="0.6346" stop-color="#828cff"/><stop offset="0.6654" stop-color="#747fff"/><stop offset="0.6731" stop-color="#717cff"/><stop offset="0.7308" stop-color="#6370ff"/><stop offset="0.7692" stop-color="#6370ff"/><stop offset="0.8077" stop-color="#6370ff"/><stop offset="0.8462" stop-color="#6370ff"/><stop offset="0.8846" stop-color="#6471ff"/><stop offset="0.9231" stop-color="#6572ff"/><stop offset="1.0000" stop-color="#6875ff"/></linearGradient><linearGradient id="g37" gradientUnits="userSpaceOnUse" x1="52" y1="0" x2="364" y2="0"><stop offset="0.0000" stop-color="#9fa7ff"/><stop offset="0.2692" stop-color="#9fa7ff"/><stop offset="0.3077" stop-color="#9fa7ff"/><stop offset="0.3154" stop-color="#9fa7ff"/><stop offset="0.3192" stop-color="#9fa7ff"/><stop offset="0.3346" stop-color="#9fa7ff"/><stop offset="0.3654" stop-color="#a3abff"/><stop offset="0.3846" stop-color="#a5adff"/><stop offset="0.3962" stop-color="#a7aeff"/><stop offset="0.4115" stop-color="#aab1ff"/><stop offset="0.4308" stop-color="#aeb4ff"/><stop offset="0.4346" stop-color="#aeb5ff"/><stop offset="0.4423" stop-color="#b1b8ff"/><stop offset="0.4500" stop-color="#b5bbff"/><stop offset="0.4577" stop-color="#b8beff"/><stop offset="0.4615" stop-color="#b9bfff"/><stop offset="0.4731" stop-color="#bdc2ff"/><stop offset="0.4808" stop-color="#bec3ff"/><stop offset="0.4885" stop-color="#bfc4ff"/><stop offset="0.4923" stop-color="#bfc4ff"/><stop offset="0.5000" stop-color="#c0c5ff"/><stop offset="0.5077" stop-color="#c1c6ff"/><stop offset="0.5115" stop-color="#c1c6ff"/><stop offset="0.5192" stop-color="#bfc4ff"/><stop offset="0.5269" stop-color="#bbc1ff"/><stop offset="0.5385" stop-color="#b6bcff"/><stop offset="0.5462" stop-color="#b2b9ff"/><stop offset="0.5538" stop-color="#aeb5ff"/><stop offset="0.5577" stop-color="#abb2ff"/><stop offset="0.5654" stop-color="#a7aeff"/><stop offset="0.5692" stop-color="#a4acff"/><stop offset="0.5769" stop-color="#9ea6ff"/><stop offset="0.5846" stop-color="#98a0ff"/><stop offset="0.5885" stop-color="#949dff"/><stop offset="0.5923" stop-color="#929bff"/><stop offset="0.6000" stop-color="#8e97ff"/><stop offset="0.6038" stop-color="#8b95ff"/><stop offset="0.6077" stop-color="#8992ff"/><stop offset="0.6154" stop-color="#838dff"/><stop offset="0.6231" stop-color="#7d88ff"/><stop offset="0.6346" stop-color="#7681ff"/><stop offset="0.6654" stop-color="#6a77ff"/><stop offset="0.6731" stop-color="#6975ff"/><stop offset="0.7308" stop-color="#616fff"/><stop offset="0.7692" stop-color="#616eff"/><stop offset="0.8077" stop-color="#626fff"/><stop offset="0.8462" stop-color="#6370ff"/><stop offset="0.8846" stop-color="#6471ff"/><stop offset="0.9231" stop-color="#6673ff"/><stop offset="1.0000" stop-color="#6875ff"/></linearGradient><linearGradient id="g38" gradientUnits="userSpaceOnUse" x1="52" y1="0" x2="364" y2="0"><stop offset="0.0000" stop-color="#9fa7ff"/><stop offset="0.2692" stop-color="#9fa7ff"/><stop offset="0.3077" stop-color="#9fa7ff"/><stop offset="0.3154" stop-color="#9fa7ff"/><stop offset="0.3192" stop-color="#9fa7ff"/><stop offset="0.3346" stop-color="#9fa7ff"/><stop offset="0.3654" stop-color="#a5adff"/><stop offset="0.3846" stop-color="#a9b0ff"/><stop offset="0.3962" stop-color="#abb2ff"/><stop offset="0.4115" stop-color="#afb6ff"/><stop offset="0.4308" stop-color="#b4baff"/><stop offset="0.4346" stop-color="#b5bbff"/><stop offset="0.4423" stop-color="#b7bdff"/><stop offset="0.4500" stop-color="#b9bfff"/><stop offset="0.4577" stop-color="#bbc1ff"/><stop offset="0.4615" stop-color="#bcc2ff"/><stop offset="0.4731" stop-color="#bdc3ff"/><stop offset="0.4808" stop-color="#bec3ff"/><stop offset="0.4885" stop-color="#bfc4ff"/><stop offset="0.4923" stop-color="#bfc4ff"/><stop offset="0.5000" stop-color="#c0c5ff"/><stop offset="0.5077" stop-color="#c0c6ff"/><stop offset="0.5115" stop-color="#c1c6ff"/><stop offset="0.5192" stop-color="#bcc1ff"/><stop offset="0.5269" stop-color="#b6bcff"/><stop offset="0.5385" stop-color="#aeb5ff"/><stop offset="0.5462" stop-color="#a9b0ff"/><stop offset="0.5538" stop-color="#a2a9ff"/><stop offset="0.5577" stop-color="#9ea6ff"/><stop offset="0.5654" stop-color="#969fff"/><stop offset="0.5692" stop-color="#939cff"/><stop offset="0.5769" stop-color="#8b95ff"/><stop offset="0.5846" stop-color="#848eff"/><stop offset="0.5885" stop-color="#808bff"/><stop offset="0.5923" stop-color="#7e89ff"/><stop offset="0.6000" stop-color="#7a85ff"/><stop offset="0.6038" stop-color="#7883ff"/><stop offset="0.6077" stop-color="#7681ff"/><stop offset="0.6154" stop-color="#717dff"/><stop offset="0.6231" stop-color="#6d79ff"/><stop offset="0.6346" stop-color="#6a76ff"/><stop offset="0.6654" stop-color="#616eff"/><stop offset="0.6731" stop-color="#616eff"/><stop offset="0.7308" stop-color="#606dff"/><stop offset="0.7692" stop-color="#5f6cff"/><stop offset="0.8077" stop-color="#616eff"/><stop offset="0.8462" stop-color="#6270ff"/><stop offset="0.8846" stop-color="#6471ff"/><stop offset="0.9231" stop-color="#6673ff"/><stop offset="1.0000" stop-color="#6875ff"/></linearGradient><linearGradient id="g39" gradientUnits="userSpaceOnUse" x1="52" y1="0" x2="364" y2="0"><stop offset="0.0000" stop-color="#9fa7ff"/><stop offset="0.2692" stop-color="#a3aaff"/><stop offset="0.3077" stop-color="#a3abff"/><stop offset="0.3154" stop-color="#a3abff"/><stop offset="0.3192" stop-color="#a4abff"/><stop offset="0.3346" stop-color="#a6adff"/><stop offset="0.3654" stop-color="#adb4ff"/><stop offset="0.3846" stop-color="#b1b8ff"/><stop offset="0.3962" stop-color="#b4baff"/><stop offset="0.4115" stop-color="#b6bcff"/><stop offset="0.4308" stop-color="#b9bfff"/><stop offset="0.4346" stop-color="#bac0ff"/><stop offset="0.4423" stop-color="#bbc1ff"/><stop offset="0.4500" stop-color="#bcc2ff"/><stop offset="0.4577" stop-color="#bdc3ff"/><stop offset="0.4615" stop-color="#bec3ff"/><stop offset="0.4731" stop-color="#bfc4ff"/><stop offset="0.4808" stop-color="#bdc3ff"/><stop offset="0.4885" stop-color="#bcc2ff"/><stop offset="0.4923" stop-color="#bbc1ff"/><stop offset="0.5000" stop-color="#bac0ff"/><stop offset="0.5077" stop-color="#b9bfff"/><stop offset="0.5115" stop-color="#b8beff"/><stop offset="0.5192" stop-color="#b2b9ff"/><stop offset="0.5269" stop-color="#adb4ff"/><stop offset="0.5385" stop-color="#a4acff"/><stop offset="0.5462" stop-color="#9ea6ff"/><stop offset="0.5538" stop-color="#97a0ff"/><stop offset="0.5577" stop-color="#949dff"/><stop offset="0.5654" stop-color="#8d97ff"/><stop offset="0.5692" stop-color="#8a94ff"/><stop offset="0.5769" stop-color="#838dff"/><stop offset="0.5846" stop-color="#7c87ff"/><stop offset="0.5885" stop-color="#7984ff"/><stop offset="0.5923" stop-color="#7682ff"/><stop offset="0.6000" stop-color="#737eff"/><stop offset="0.6038" stop-color="#717cff"/><stop offset="0.6077" stop-color="#6f7bff"/><stop offset="0.6154" stop-color="#6b77ff"/><stop offset="0.6231" stop-color="#6773ff"/><stop offset="0.6346" stop-color="#6370ff"/><stop offset="0.6654" stop-color="#5d6bff"/><stop offset="0.6731" stop-color="#5d6bff"/><stop offset="0.7308" stop-color="#5d6aff"/><stop offset="0.7692" stop-color="#5c6aff"/><stop offset="0.8077" stop-color="#5e6cff"/><stop offset="0.8462" stop-color="#606dff"/><stop offset="0.8846" stop-color="#616eff"/><stop offset="0.9231" stop-color="#6370ff"/><stop offset="1.0000" stop-color="#6773ff"/></linearGradient><linearGradient id="g40" gradientUnits="userSpaceOnUse" x1="52" y1="0" x2="364" y2="0"><stop offset="0.0000" stop-color="#9fa7ff"/><stop offset="0.2692" stop-color="#a6adff"/><stop offset="0.3077" stop-color="#a7aeff"/><stop offset="0.3154" stop-color="#a7aeff"/><stop offset="0.3192" stop-color="#a8afff"/><stop offset="0.3346" stop-color="#acb3ff"/><stop offset="0.3654" stop-color="#b4baff"/><stop offset="0.3846" stop-color="#b9bfff"/><stop offset="0.3962" stop-color="#bdc2ff"/><stop offset="0.4115" stop-color="#bdc3ff"/><stop offset="0.4308" stop-color="#bec4ff"/><stop offset="0.4346" stop-color="#bfc4ff"/><stop offset="0.4423" stop-color="#bfc4ff"/><stop offset="0.4500" stop-color="#bfc5ff"/><stop offset="0.4577" stop-color="#c0c5ff"/><stop offset="0.4615" stop-color="#c0c5ff"/><stop offset="0.4731" stop-color="#c0c5ff"/><stop offset="0.4808" stop-color="#bdc2ff"/><stop offset="0.4885" stop-color="#babfff"/><stop offset="0.4923" stop-color="#b8beff"/><stop offset="0.5000" stop-color="#b5bbff"/><stop offset="0.5077" stop-color="#b1b8ff"/><stop offset="0.5115" stop-color="#b0b6ff"/><stop offset="0.5192" stop-color="#a9b1ff"/><stop offset="0.5269" stop-color="#a3abff"/><stop offset="0.5385" stop-color="#9aa2ff"/><stop offset="0.5462" stop-color="#939cff"/><stop offset="0.5538" stop-color="#8d96ff"/><stop offset="0.5577" stop-color="#8a93ff"/><stop offset="0.5654" stop-color="#848eff"/><stop offset="0.5692" stop-color="#818bff"/><stop offset="0.5769" stop-color="#7b86ff"/><stop offset="0.5846" stop-color="#7480ff"/><stop offset="0.5885" stop-color="#717dff"/><stop offset="0.5923" stop-color="#6f7bff"/><stop offset="0.6000" stop-color="#6b77ff"/><stop offset="0.6038" stop-color="#6976ff"/><stop offset="0.6077" stop-color="#6774ff"/><stop offset="0.6154" stop-color="#6471ff"/><stop offset="0.6231" stop-color="#606dff"/><stop offset="0.6346" stop-color="#5b69ff"/><stop offset="0.6654" stop-color="#5a67ff"/><stop offset="0.6731" stop-color="#5a67ff"/><stop offset="0.7308" stop-color="#5967ff"/><stop offset="0.7692" stop-color="#5a68ff"/><stop offset="0.8077" stop-color="#5b69ff"/><stop offset="0.8462" stop-color="#5d6aff"/><stop offset="0.8846" stop-color="#5e6cff"/><stop offset="0.9231" stop-color="#606eff"/><stop offset="1.0000" stop-color="#6572ff"/></linearGradient><linearGradient id="g41" gradientUnits="userSpaceOnUse" x1="52" y1="0" x2="364" y2="0"><stop offset="0.0000" stop-color="#9fa7ff"/><stop offset="0.2692" stop-color="#a7aeff"/><stop offset="0.3077" stop-color="#aab1ff"/><stop offset="0.3154" stop-color="#abb2ff"/><stop offset="0.3192" stop-color="#acb3ff"/><stop offset="0.3346" stop-color="#b0b7ff"/><stop offset="0.3654" stop-color="#b9bfff"/><stop offset="0.3846" stop-color="#bfc4ff"/><stop offset="0.3962" stop-color="#c2c7ff"/><stop offset="0.4115" stop-color="#c3c8ff"/><stop offset="0.4308" stop-color="#c4c9ff"/><stop offset="0.4346" stop-color="#c3c8ff"/><stop offset="0.4423" stop-color="#c3c8ff"/><stop offset="0.4500" stop-color="#c2c7ff"/><stop offset="0.4577" stop-color="#c1c6ff"/><stop offset="0.4615" stop-color="#c1c6ff"/><stop offset="0.4731" stop-color="#bdc2ff"/><stop offset="0.4808" stop-color="#b6bcff"/><stop offset="0.4885" stop-color="#b0b7ff"/><stop offset="0.4923" stop-color="#adb4ff"/><stop offset="0.5000" stop-color="#a8afff"/><stop offset="0.5077" stop-color="#a3abff"/><stop offset="0.5115" stop-color="#a0a8ff"/><stop offset="0.5192" stop-color="#9aa2ff"/><stop offset="0.5269" stop-color="#939cff"/><stop offset="0.5385" stop-color="#8a93ff"/><stop offset="0.5462" stop-color="#838eff"/><stop offset="0.5538" stop-color="#7d88ff"/><stop offset="0.5577" stop-color="#7a85ff"/><stop offset="0.5654" stop-color="#7681ff"/><stop offset="0.5692" stop-color="#737fff"/><stop offset="0.5769" stop-color="#6f7bff"/><stop offset="0.5846" stop-color="#6a77ff"/><stop offset="0.5885" stop-color="#6875ff"/><stop offset="0.5923" stop-color="#6672ff"/><stop offset="0.6000" stop-color="#6370ff"/><stop offset="0.6038" stop-color="#616fff"/><stop offset="0.6077" stop-color="#606dff"/><stop offset="0.6154" stop-color="#5d6bff"/><stop offset="0.6231" stop-color="#5a68ff"/><stop offset="0.6346" stop-color="#5664ff"/><stop offset="0.6654" stop-color="#5664ff"/><stop offset="0.6731" stop-color="#5664ff"/><stop offset="0.7308" stop-color="#5765ff"/><stop offset="0.7692" stop-color="#5967ff"/><stop offset="0.8077" stop-color="#5a68ff"/><stop offset="0.8462" stop-color="#5b69ff"/><stop offset="0.8846" stop-color="#5d6aff"/><stop offset="0.9231" stop-color="#5f6cff"/><stop offset="1.0000" stop-color="#6471ff"/></linearGradient><linearGradient id="g42" gradientUnits="userSpaceOnUse" x1="52" y1="0" x2="364" y2="0"><stop offset="0.0000" stop-color="#9fa7ff"/><stop offset="0.2692" stop-color="#a6adff"/><stop offset="0.3077" stop-color="#adb4ff"/><stop offset="0.3154" stop-color="#aeb5ff"/><stop offset="0.3192" stop-color="#afb6ff"/><stop offset="0.3346" stop-color="#b4baff"/><stop offset="0.3654" stop-color="#bcc1ff"/><stop offset="0.3846" stop-color="#c1c6ff"/><stop offset="0.3962" stop-color="#c4c9ff"/><stop offset="0.4115" stop-color="#c6cbff"/><stop offset="0.4308" stop-color="#c9ceff"/><stop offset="0.4346" stop-color="#c8cdff"/><stop offset="0.4423" stop-color="#c6cbff"/><stop offset="0.4500" stop-color="#c4c9ff"/><stop offset="0.4577" stop-color="#c2c7ff"/><stop offset="0.4615" stop-color="#c1c6ff"/><stop offset="0.4731" stop-color="#b4baff"/><stop offset="0.4808" stop-color="#aab1ff"/><stop offset="0.4885" stop-color="#9fa7ff"/><stop offset="0.4923" stop-color="#9aa3ff"/><stop offset="0.5000" stop-color="#949dff"/><stop offset="0.5077" stop-color="#8e97ff"/><stop offset="0.5115" stop-color="#8b94ff"/><stop offset="0.5192" stop-color="#848eff"/><stop offset="0.5269" stop-color="#7d87ff"/><stop offset="0.5385" stop-color="#747fff"/><stop offset="0.5462" stop-color="#6e7aff"/><stop offset="0.5538" stop-color="#6875ff"/><stop offset="0.5577" stop-color="#6572ff"/><stop offset="0.5654" stop-color="#6370ff"/><stop offset="0.5692" stop-color="#626fff"/><stop offset="0.5769" stop-color="#606dff"/><stop offset="0.5846" stop-color="#5d6bff"/><stop offset="0.5885" stop-color="#5c6aff"/><stop offset="0.5923" stop-color="#5b69ff"/><stop offset="0.6000" stop-color="#5a67ff"/><stop offset="0.6038" stop-color="#5967ff"/><stop offset="0.6077" stop-color="#5866ff"/><stop offset="0.6154" stop-color="#5765ff"/><stop offset="0.6231" stop-color="#5564ff"/><stop offset="0.6346" stop-color="#5362ff"/><stop offset="0.6654" stop-color="#5362ff"/><stop offset="0.6731" stop-color="#5462ff"/><stop offset="0.7308" stop-color="#5664ff"/><stop offset="0.7692" stop-color="#5866ff"/><stop offset="0.8077" stop-color="#5a68ff"/><stop offset="0.8462" stop-color="#5c69ff"/><stop offset="0.8846" stop-color="#5d6bff"/><stop offset="0.9231" stop-color="#5f6dff"/><stop offset="1.0000" stop-color="#6471ff"/></linearGradient><linearGradient id="g43" gradientUnits="userSpaceOnUse" x1="52" y1="0" x2="364" y2="0"><stop offset="0.0000" stop-color="#9fa7ff"/><stop offset="0.2692" stop-color="#a4acff"/><stop offset="0.3077" stop-color="#afb6ff"/><stop offset="0.3154" stop-color="#b2b8ff"/><stop offset="0.3192" stop-color="#b3b9ff"/><stop offset="0.3346" stop-color="#b7bdff"/><stop offset="0.3654" stop-color="#bec4ff"/><stop offset="0.3846" stop-color="#c3c8ff"/><stop offset="0.3962" stop-color="#c6caff"/><stop offset="0.4115" stop-color="#caceff"/><stop offset="0.4308" stop-color="#cfd3ff"/><stop offset="0.4346" stop-color="#cdd2ff"/><stop offset="0.4423" stop-color="#caceff"/><stop offset="0.4500" stop-color="#c6cbff"/><stop offset="0.4577" stop-color="#c3c8ff"/><stop offset="0.4615" stop-color="#c1c6ff"/><stop offset="0.4731" stop-color="#abb2ff"/><stop offset="0.4808" stop-color="#9da5ff"/><stop offset="0.4885" stop-color="#8f98ff"/><stop offset="0.4923" stop-color="#8892ff"/><stop offset="0.5000" stop-color="#808bff"/><stop offset="0.5077" stop-color="#7984ff"/><stop offset="0.5115" stop-color="#7580ff"/><stop offset="0.5192" stop-color="#6d7aff"/><stop offset="0.5269" stop-color="#6673ff"/><stop offset="0.5385" stop-color="#5e6bff"/><stop offset="0.5462" stop-color="#5967ff"/><stop offset="0.5538" stop-color="#5362ff"/><stop offset="0.5577" stop-color="#515fff"/><stop offset="0.5654" stop-color="#515fff"/><stop offset="0.5692" stop-color="#515fff"/><stop offset="0.5769" stop-color="#515fff"/><stop offset="0.5846" stop-color="#515fff"/><stop offset="0.5885" stop-color="#515fff"/><stop offset="0.5923" stop-color="#515fff"/><stop offset="0.6000" stop-color="#515fff"/><stop offset="0.6038" stop-color="#515fff"/><stop offset="0.6077" stop-color="#515fff"/><stop offset="0.6154" stop-color="#515fff"/><stop offset="0.6231" stop-color="#515fff"/><stop offset="0.6346" stop-color="#515fff"/><stop offset="0.6654" stop-color="#515fff"/><stop offset="0.6731" stop-color="#5160ff"/><stop offset="0.7308" stop-color="#5563ff"/><stop offset="0.7692" stop-color="#5866ff"/><stop offset="0.8077" stop-color="#5a68ff"/><stop offset="0.8462" stop-color="#5c69ff"/><stop offset="0.8846" stop-color="#5e6bff"/><stop offset="0.9231" stop-color="#606dff"/><stop offset="1.0000" stop-color="#6471ff"/></linearGradient><linearGradient id="g44" gradientUnits="userSpaceOnUse" x1="52" y1="0" x2="364" y2="0"><stop offset="0.0000" stop-color="#9fa7ff"/><stop offset="0.2692" stop-color="#a4acff"/><stop offset="0.3077" stop-color="#afb5ff"/><stop offset="0.3154" stop-color="#b1b7ff"/><stop offset="0.3192" stop-color="#b2b8ff"/><stop offset="0.3346" stop-color="#b7bdff"/><stop offset="0.3654" stop-color="#c2c7ff"/><stop offset="0.3846" stop-color="#cacfff"/><stop offset="0.3962" stop-color="#cfd3ff"/><stop offset="0.4115" stop-color="#d3d6ff"/><stop offset="0.4308" stop-color="#d7daff"/><stop offset="0.4346" stop-color="#d5d9ff"/><stop offset="0.4423" stop-color="#d3d6ff"/><stop offset="0.4500" stop-color="#d0d4ff"/><stop offset="0.4577" stop-color="#caceff"/><stop offset="0.4615" stop-color="#c7ccff"/><stop offset="0.4731" stop-color="#b1b7ff"/><stop offset="0.4808" stop-color="#a2aaff"/><stop offset="0.4885" stop-color="#939cff"/><stop offset="0.4923" stop-color="#8b95ff"/><stop offset="0.5000" stop-color="#838dff"/><stop offset="0.5077" stop-color="#7a85ff"/><stop offset="0.5115" stop-color="#7682ff"/><stop offset="0.5192" stop-color="#6e7aff"/><stop offset="0.5269" stop-color="#6572ff"/><stop offset="0.5385" stop-color="#5d6aff"/><stop offset="0.5462" stop-color="#5765ff"/><stop offset="0.5538" stop-color="#5260ff"/><stop offset="0.5577" stop-color="#4f5eff"/><stop offset="0.5654" stop-color="#4f5eff"/><stop offset="0.5692" stop-color="#4f5eff"/><stop offset="0.5769" stop-color="#4f5eff"/><stop offset="0.5846" stop-color="#4f5eff"/><stop offset="0.5885" stop-color="#4f5eff"/><stop offset="0.5923" stop-color="#4f5eff"/><stop offset="0.6000" stop-color="#4f5eff"/><stop offset="0.6038" stop-color="#4f5eff"/><stop offset="0.6077" stop-color="#4f5eff"/><stop offset="0.6154" stop-color="#4f5eff"/><stop offset="0.6231" stop-color="#4f5eff"/><stop offset="0.6346" stop-color="#4f5eff"/><stop offset="0.6654" stop-color="#505eff"/><stop offset="0.6731" stop-color="#505fff"/><stop offset="0.7308" stop-color="#5462ff"/><stop offset="0.7692" stop-color="#5765ff"/><stop offset="0.8077" stop-color="#5967ff"/><stop offset="0.8462" stop-color="#5b69ff"/><stop offset="0.8846" stop-color="#5d6bff"/><stop offset="0.9231" stop-color="#5f6dff"/><stop offset="1.0000" stop-color="#6471ff"/></linearGradient><linearGradient id="g45" gradientUnits="userSpaceOnUse" x1="52" y1="0" x2="364" y2="0"><stop offset="0.0000" stop-color="#9fa7ff"/><stop offset="0.2692" stop-color="#a4acff"/><stop offset="0.3077" stop-color="#aeb5ff"/><stop offset="0.3154" stop-color="#b0b6ff"/><stop offset="0.3192" stop-color="#b1b7ff"/><stop offset="0.3346" stop-color="#b7bdff"/><stop offset="0.3654" stop-color="#c5caff"/><stop offset="0.3846" stop-color="#d1d5ff"/><stop offset="0.3962" stop-color="#d9dcff"/><stop offset="0.4115" stop-color="#dbdeff"/><stop offset="0.4308" stop-color="#dee1ff"/><stop offset="0.4346" stop-color="#dde0ff"/><stop offset="0.4423" stop-color="#dbdeff"/><stop offset="0.4500" stop-color="#d9dcff"/><stop offset="0.4577" stop-color="#d1d5ff"/><stop offset="0.4615" stop-color="#cdd1ff"/><stop offset="0.4731" stop-color="#b6bcff"/><stop offset="0.4808" stop-color="#a6aeff"/><stop offset="0.4885" stop-color="#97a0ff"/><stop offset="0.4923" stop-color="#8f99ff"/><stop offset="0.5000" stop-color="#8690ff"/><stop offset="0.5077" stop-color="#7c87ff"/><stop offset="0.5115" stop-color="#7783ff"/><stop offset="0.5192" stop-color="#6e7aff"/><stop offset="0.5269" stop-color="#6471ff"/><stop offset="0.5385" stop-color="#5c69ff"/><stop offset="0.5462" stop-color="#5664ff"/><stop offset="0.5538" stop-color="#505fff"/><stop offset="0.5577" stop-color="#4e5dff"/><stop offset="0.5654" stop-color="#4e5dff"/><stop offset="0.5692" stop-color="#4e5dff"/><stop offset="0.5769" stop-color="#4e5dff"/><stop offset="0.5846" stop-color="#4e5dff"/><stop offset="0.5885" stop-color="#4e5dff"/><stop offset="0.5923" stop-color="#4e5dff"/><stop offset="0.6000" stop-color="#4e5dff"/><stop offset="0.6038" stop-color="#4e5dff"/><stop offset="0.6077" stop-color="#4e5dff"/><stop offset="0.6154" stop-color="#4e5dff"/><stop offset="0.6231" stop-color="#4e5dff"/><stop offset="0.6346" stop-color="#4e5dff"/><stop offset="0.6654" stop-color="#4f5dff"/><stop offset="0.6731" stop-color="#4f5eff"/><stop offset="0.7308" stop-color="#5361ff"/><stop offset="0.7692" stop-color="#5664ff"/><stop offset="0.8077" stop-color="#5866ff"/><stop offset="0.8462" stop-color="#5a68ff"/><stop offset="0.8846" stop-color="#5c6aff"/><stop offset="0.9231" stop-color="#5f6cff"/><stop offset="1.0000" stop-color="#6471ff"/></linearGradient><linearGradient id="g46" gradientUnits="userSpaceOnUse" x1="52" y1="0" x2="364" y2="0"><stop offset="0.0000" stop-color="#9fa7ff"/><stop offset="0.2692" stop-color="#a4acff"/><stop offset="0.3077" stop-color="#adb4ff"/><stop offset="0.3154" stop-color="#afb6ff"/><stop offset="0.3192" stop-color="#b0b6ff"/><stop offset="0.3346" stop-color="#b7bdff"/><stop offset="0.3654" stop-color="#c9cdff"/><stop offset="0.3846" stop-color="#d9dcff"/><stop offset="0.3962" stop-color="#e2e5ff"/><stop offset="0.4115" stop-color="#e4e6ff"/><stop offset="0.4308" stop-color="#e6e8ff"/><stop offset="0.4346" stop-color="#e5e8ff"/><stop offset="0.4423" stop-color="#e4e6ff"/><stop offset="0.4500" stop-color="#e3e5ff"/><stop offset="0.4577" stop-color="#d9dcff"/><stop offset="0.4615" stop-color="#d4d7ff"/><stop offset="0.4731" stop-color="#bbc1ff"/><stop offset="0.4808" stop-color="#abb2ff"/><stop offset="0.4885" stop-color="#9ba3ff"/><stop offset="0.4923" stop-color="#939cff"/><stop offset="0.5000" stop-color="#8892ff"/><stop offset="0.5077" stop-color="#7e89ff"/><stop offset="0.5115" stop-color="#7884ff"/><stop offset="0.5192" stop-color="#6e7aff"/><stop offset="0.5269" stop-color="#6370ff"/><stop offset="0.5385" stop-color="#5b68ff"/><stop offset="0.5462" stop-color="#5563ff"/><stop offset="0.5538" stop-color="#4f5eff"/><stop offset="0.5577" stop-color="#4c5bff"/><stop offset="0.5654" stop-color="#4c5bff"/><stop offset="0.5692" stop-color="#4c5bff"/><stop offset="0.5769" stop-color="#4c5bff"/><stop offset="0.5846" stop-color="#4d5cff"/><stop offset="0.5885" stop-color="#4d5cff"/><stop offset="0.5923" stop-color="#4d5cff"/><stop offset="0.6000" stop-color="#4d5cff"/><stop offset="0.6038" stop-color="#4d5cff"/><stop offset="0.6077" stop-color="#4d5cff"/><stop offset="0.6154" stop-color="#4d5cff"/><stop offset="0.6231" stop-color="#4d5cff"/><stop offset="0.6346" stop-color="#4d5cff"/><stop offset="0.6654" stop-color="#4e5dff"/><stop offset="0.6731" stop-color="#4e5dff"/><stop offset="0.7308" stop-color="#5261ff"/><stop offset="0.7692" stop-color="#5563ff"/><stop offset="0.8077" stop-color="#5765ff"/><stop offset="0.8462" stop-color="#5967ff"/><stop offset="0.8846" stop-color="#5c6aff"/><stop offset="0.9231" stop-color="#5e6cff"/><stop offset="1.0000" stop-color="#6471ff"/></linearGradient><linearGradient id="g47" gradientUnits="userSpaceOnUse" x1="52" y1="0" x2="364" y2="0"><stop offset="0.0000" stop-color="#9fa7ff"/><stop offset="0.2692" stop-color="#a4acff"/><stop offset="0.3077" stop-color="#acb3ff"/><stop offset="0.3154" stop-color="#aeb5ff"/><stop offset="0.3192" stop-color="#afb5ff"/><stop offset="0.3346" stop-color="#b7bdff"/><stop offset="0.3654" stop-color="#ccd0ff"/><stop offset="0.3846" stop-color="#e0e2ff"/><stop offset="0.3962" stop-color="#ecedff"/><stop offset="0.4115" stop-color="#edeeff"/><stop offset="0.4308" stop-color="#eeefff"/><stop offset="0.4346" stop-color="#edefff"/><stop offset="0.4423" stop-color="#edeeff"/><stop offset="0.4500" stop-color="#eceeff"/><stop offset="0.4577" stop-color="#e0e2ff"/><stop offset="0.4615" stop-color="#daddff"/><stop offset="0.4731" stop-color="#c1c6ff"/><stop offset="0.4808" stop-color="#b0b7ff"/><stop offset="0.4885" stop-color="#9fa7ff"/><stop offset="0.4923" stop-color="#97a0ff"/><stop offset="0.5000" stop-color="#8b95ff"/><stop offset="0.5077" stop-color="#7f8aff"/><stop offset="0.5115" stop-color="#7a85ff"/><stop offset="0.5192" stop-color="#6e7aff"/><stop offset="0.5269" stop-color="#626fff"/><stop offset="0.5385" stop-color="#5967ff"/><stop offset="0.5462" stop-color="#5462ff"/><stop offset="0.5538" stop-color="#4e5dff"/><stop offset="0.5577" stop-color="#4b5aff"/><stop offset="0.5654" stop-color="#4b5aff"/><stop offset="0.5692" stop-color="#4b5aff"/><stop offset="0.5769" stop-color="#4b5aff"/><stop offset="0.5846" stop-color="#4b5aff"/><stop offset="0.5885" stop-color="#4b5aff"/><stop offset="0.5923" stop-color="#4b5aff"/><stop offset="0.6000" stop-color="#4c5bff"/><stop offset="0.6038" stop-color="#4c5bff"/><stop offset="0.6077" stop-color="#4c5bff"/><stop offset="0.6154" stop-color="#4c5bff"/><stop offset="0.6231" stop-color="#4c5bff"/><stop offset="0.6346" stop-color="#4c5bff"/><stop offset="0.6654" stop-color="#4d5cff"/><stop offset="0.6731" stop-color="#4d5cff"/><stop offset="0.7308" stop-color="#5160ff"/><stop offset="0.7692" stop-color="#5462ff"/><stop offset="0.8077" stop-color="#5664ff"/><stop offset="0.8462" stop-color="#5866ff"/><stop offset="0.8846" stop-color="#5b69ff"/><stop offset="0.9231" stop-color="#5e6cff"/><stop offset="1.0000" stop-color="#6471ff"/></linearGradient><linearGradient id="g48" gradientUnits="userSpaceOnUse" x1="52" y1="0" x2="364" y2="0"><stop offset="0.0000" stop-color="#9fa7ff"/><stop offset="0.2692" stop-color="#a4acff"/><stop offset="0.3077" stop-color="#acb3ff"/><stop offset="0.3154" stop-color="#adb4ff"/><stop offset="0.3192" stop-color="#aeb5ff"/><stop offset="0.3346" stop-color="#b7bdff"/><stop offset="0.3654" stop-color="#cfd3ff"/><stop offset="0.3846" stop-color="#e7e9ff"/><stop offset="0.3962" stop-color="#f5f6ff"/><stop offset="0.4115" stop-color="#f5f6ff"/><stop offset="0.4308" stop-color="#f5f6ff"/><stop offset="0.4346" stop-color="#f5f6ff"/><stop offset="0.4423" stop-color="#f5f6ff"/><stop offset="0.4500" stop-color="#f5f6ff"/><stop offset="0.4577" stop-color="#e7e9ff"/><stop offset="0.4615" stop-color="#e0e3ff"/><stop offset="0.4731" stop-color="#c6cbff"/><stop offset="0.4808" stop-color="#b5bbff"/><stop offset="0.4885" stop-color="#a3abff"/><stop offset="0.4923" stop-color="#9ba3ff"/><stop offset="0.5000" stop-color="#8e97ff"/><stop offset="0.5077" stop-color="#818cff"/><stop offset="0.5115" stop-color="#7b86ff"/><stop offset="0.5192" stop-color="#6e7aff"/><stop offset="0.5269" stop-color="#616eff"/><stop offset="0.5385" stop-color="#5866ff"/><stop offset="0.5462" stop-color="#5261ff"/><stop offset="0.5538" stop-color="#4c5bff"/><stop offset="0.5577" stop-color="#4959ff"/><stop offset="0.5654" stop-color="#4a59ff"/><stop offset="0.5692" stop-color="#4a59ff"/><stop offset="0.5769" stop-color="#4a59ff"/><stop offset="0.5846" stop-color="#4a59ff"/><stop offset="0.5885" stop-color="#4a59ff"/><stop offset="0.5923" stop-color="#4a59ff"/><stop offset="0.6000" stop-color="#4a59ff"/><stop offset="0.6038" stop-color="#4a59ff"/><stop offset="0.6077" stop-color="#4a5aff"/><stop offset="0.6154" stop-color="#4b5aff"/><stop offset="0.6231" stop-color="#4b5aff"/><stop offset="0.6346" stop-color="#4b5aff"/><stop offset="0.6654" stop-color="#4c5bff"/><stop offset="0.6731" stop-color="#4c5bff"/><stop offset="0.7308" stop-color="#505fff"/><stop offset="0.7692" stop-color="#5361ff"/><stop offset="0.8077" stop-color="#5563ff"/><stop offset="0.8462" stop-color="#5866ff"/><stop offset="0.8846" stop-color="#5b68ff"/><stop offset="0.9231" stop-color="#5e6bff"/><stop offset="1.0000" stop-color="#6471ff"/></linearGradient><linearGradient id="g49" gradientUnits="userSpaceOnUse" x1="52" y1="0" x2="364" y2="0"><stop offset="0.0000" stop-color="#9fa7ff"/><stop offset="0.2692" stop-color="#a4acff"/><stop offset="0.3077" stop-color="#aab1ff"/><stop offset="0.3154" stop-color="#abb2ff"/><stop offset="0.3192" stop-color="#acb3ff"/><stop offset="0.3346" stop-color="#b4baff"/><stop offset="0.3654" stop-color="#c7cbff"/><stop offset="0.3846" stop-color="#d9ddff"/><stop offset="0.3962" stop-color="#e8eaff"/><stop offset="0.4115" stop-color="#eef0ff"/><stop offset="0.4308" stop-color="#f3f4ff"/><stop offset="0.4346" stop-color="#f4f5ff"/><stop offset="0.4423" stop-color="#f6f7ff"/><stop offset="0.4500" stop-color="#f8f8ff"/><stop offset="0.4577" stop-color="#edefff"/><stop offset="0.4615" stop-color="#e8eaff"/><stop offset="0.4731" stop-color="#d4d8ff"/><stop offset="0.4808" stop-color="#c7ccff"/><stop offset="0.4885" stop-color="#bac0ff"/><stop offset="0.4923" stop-color="#b4baff"/><stop offset="0.5000" stop-color="#aab1ff"/><stop offset="0.5077" stop-color="#9da5ff"/><stop offset="0.5115" stop-color="#969fff"/><stop offset="0.5192" stop-color="#8690ff"/><stop offset="0.5269" stop-color="#7682ff"/><stop offset="0.5385" stop-color="#6673ff"/><stop offset="0.5462" stop-color="#5c69ff"/><stop offset="0.5538" stop-color="#515fff"/><stop offset="0.5577" stop-color="#4b5aff"/><stop offset="0.5654" stop-color="#4959ff"/><stop offset="0.5692" stop-color="#4958ff"/><stop offset="0.5769" stop-color="#4756ff"/><stop offset="0.5846" stop-color="#4555ff"/><stop offset="0.5885" stop-color="#4454ff"/><stop offset="0.5923" stop-color="#4554ff"/><stop offset="0.6000" stop-color="#4555ff"/><stop offset="0.6038" stop-color="#4555ff"/><stop offset="0.6077" stop-color="#4555ff"/><stop offset="0.6154" stop-color="#4655ff"/><stop offset="0.6231" stop-color="#4655ff"/><stop offset="0.6346" stop-color="#4656ff"/><stop offset="0.6654" stop-color="#4857ff"/><stop offset="0.6731" stop-color="#4858ff"/><stop offset="0.7308" stop-color="#4d5cff"/><stop offset="0.7692" stop-color="#515fff"/><stop offset="0.8077" stop-color="#5462ff"/><stop offset="0.8462" stop-color="#5765ff"/><stop offset="0.8846" stop-color="#5a67ff"/><stop offset="0.9231" stop-color="#5d6aff"/><stop offset="1.0000" stop-color="#6270ff"/></linearGradient><linearGradient id="g50" gradientUnits="userSpaceOnUse" x1="52" y1="0" x2="364" y2="0"><stop offset="0.0000" stop-color="#9fa7ff"/><stop offset="0.2692" stop-color="#a4acff"/><stop offset="0.3077" stop-color="#a8afff"/><stop offset="0.3154" stop-color="#a9b0ff"/><stop offset="0.3192" stop-color="#aab1ff"/><stop offset="0.3346" stop-color="#b0b6ff"/><stop offset="0.3654" stop-color="#bec4ff"/><stop offset="0.3846" stop-color="#ccd0ff"/><stop offset="0.3962" stop-color="#dbdeff"/><stop offset="0.4115" stop-color="#e7e9ff"/><stop offset="0.4308" stop-color="#f1f2ff"/><stop offset="0.4346" stop-color="#f3f4ff"/><stop offset="0.4423" stop-color="#f6f7ff"/><stop offset="0.4500" stop-color="#fafbff"/><stop offset="0.4577" stop-color="#f3f4ff"/><stop offset="0.4615" stop-color="#eff1ff"/><stop offset="0.4731" stop-color="#e2e5ff"/><stop offset="0.4808" stop-color="#daddff"/><stop offset="0.4885" stop-color="#d1d5ff"/><stop offset="0.4923" stop-color="#cdd1ff"/><stop offset="0.5000" stop-color="#c6cbff"/><stop offset="0.5077" stop-color="#b8beff"/><stop offset="0.5115" stop-color="#b1b7ff"/><stop offset="0.5192" stop-color="#9ea6ff"/><stop offset="0.5269" stop-color="#8c95ff"/><stop offset="0.5385" stop-color="#7580ff"/><stop offset="0.5462" stop-color="#6572ff"/><stop offset="0.5538" stop-color="#5563ff"/><stop offset="0.5577" stop-color="#4d5cff"/><stop offset="0.5654" stop-color="#4959ff"/><stop offset="0.5692" stop-color="#4857ff"/><stop offset="0.5769" stop-color="#4454ff"/><stop offset="0.5846" stop-color="#4151ff"/><stop offset="0.5885" stop-color="#3f4fff"/><stop offset="0.5923" stop-color="#3f4fff"/><stop offset="0.6000" stop-color="#4050ff"/><stop offset="0.6038" stop-color="#4050ff"/><stop offset="0.6077" stop-color="#4050ff"/><stop offset="0.6154" stop-color="#4050ff"/><stop offset="0.6231" stop-color="#4151ff"/><stop offset="0.6346" stop-color="#4251ff"/><stop offset="0.6654" stop-color="#4353ff"/><stop offset="0.6731" stop-color="#4454ff"/><stop offset="0.7308" stop-color="#4a5aff"/><stop offset="0.7692" stop-color="#4f5dff"/><stop offset="0.8077" stop-color="#5361ff"/><stop offset="0.8462" stop-color="#5664ff"/><stop offset="0.8846" stop-color="#5866ff"/><stop offset="0.9231" stop-color="#5b69ff"/><stop offset="1.0000" stop-color="#616eff"/></linearGradient><linearGradient id="g51" gradientUnits="userSpaceOnUse" x1="52" y1="0" x2="364" y2="0"><stop offset="0.0000" stop-color="#9fa7ff"/><stop offset="0.2692" stop-color="#a4abff"/><stop offset="0.3077" stop-color="#a6adff"/><stop offset="0.3154" stop-color="#a7afff"/><stop offset="0.3192" stop-color="#a8afff"/><stop offset="0.3346" stop-color="#acb3ff"/><stop offset="0.3654" stop-color="#b6bcff"/><stop offset="0.3846" stop-color="#bec3ff"/><stop offset="0.3962" stop-color="#cfd3ff"/><stop offset="0.4115" stop-color="#e0e3ff"/><stop offset="0.4308" stop-color="#eef0ff"/><stop offset="0.4346" stop-color="#f1f2ff"/><stop offset="0.4423" stop-color="#f7f8ff"/><stop offset="0.4500" stop-color="#fdfdff"/><stop offset="0.4577" stop-color="#f9faff"/><stop offset="0.4615" stop-color="#f7f8ff"/><stop offset="0.4731" stop-color="#f1f2ff"/><stop offset="0.4808" stop-color="#eceeff"/><stop offset="0.4885" stop-color="#e8eaff"/><stop offset="0.4923" stop-color="#e6e8ff"/><stop offset="0.5000" stop-color="#e3e5ff"/><stop offset="0.5077" stop-color="#d4d7ff"/><stop offset="0.5115" stop-color="#ccd0ff"/><stop offset="0.5192" stop-color="#b6bcff"/><stop offset="0.5269" stop-color="#a1a9ff"/><stop offset="0.5385" stop-color="#838dff"/><stop offset="0.5462" stop-color="#6e7aff"/><stop offset="0.5538" stop-color="#5967ff"/><stop offset="0.5577" stop-color="#4f5dff"/><stop offset="0.5654" stop-color="#4959ff"/><stop offset="0.5692" stop-color="#4756ff"/><stop offset="0.5769" stop-color="#4151ff"/><stop offset="0.5846" stop-color="#3c4cff"/><stop offset="0.5885" stop-color="#394aff"/><stop offset="0.5923" stop-color="#3a4aff"/><stop offset="0.6000" stop-color="#3a4bff"/><stop offset="0.6038" stop-color="#3b4bff"/><stop offset="0.6077" stop-color="#3b4bff"/><stop offset="0.6154" stop-color="#3b4cff"/><stop offset="0.6231" stop-color="#3c4cff"/><stop offset="0.6346" stop-color="#3d4dff"/><stop offset="0.6654" stop-color="#3f4fff"/><stop offset="0.6731" stop-color="#4050ff"/><stop offset="0.7308" stop-color="#4857ff"/><stop offset="0.7692" stop-color="#4d5cff"/><stop offset="0.8077" stop-color="#5260ff"/><stop offset="0.8462" stop-color="#5463ff"/><stop offset="0.8846" stop-color="#5765ff"/><stop offset="0.9231" stop-color="#5a68ff"/><stop offset="1.0000" stop-color="#606dff"/></linearGradient><linearGradient id="g52" gradientUnits="userSpaceOnUse" x1="52" y1="0" x2="364" y2="0"><stop offset="0.0000" stop-color="#9fa7ff"/><stop offset="0.2692" stop-color="#a4abff"/><stop offset="0.3077" stop-color="#a4acff"/><stop offset="0.3154" stop-color="#a5adff"/><stop offset="0.3192" stop-color="#a6adff"/><stop offset="0.3346" stop-color="#a8b0ff"/><stop offset="0.3654" stop-color="#adb4ff"/><stop offset="0.3846" stop-color="#b0b7ff"/><stop offset="0.3962" stop-color="#c2c7ff"/><stop offset="0.4115" stop-color="#d9dcff"/><stop offset="0.4308" stop-color="#ecedff"/><stop offset="0.4346" stop-color="#f0f1ff"/><stop offset="0.4423" stop-color="#f7f8ff"/><stop offset="0.4500" stop-color="#ffffff"/><stop offset="0.4577" stop-color="#ffffff"/><stop offset="0.4615" stop-color="#ffffff"/><stop offset="0.4731" stop-color="#ffffff"/><stop offset="0.4808" stop-color="#ffffff"/><stop offset="0.4885" stop-color="#ffffff"/><stop offset="0.4923" stop-color="#ffffff"/><stop offset="0.5000" stop-color="#ffffff"/><stop offset="0.5077" stop-color="#eff0ff"/><stop offset="0.5115" stop-color="#e7e9ff"/><stop offset="0.5192" stop-color="#cfd3ff"/><stop offset="0.5269" stop-color="#b6bcff"/><stop offset="0.5385" stop-color="#919aff"/><stop offset="0.5462" stop-color="#7783ff"/><stop offset="0.5538" stop-color="#5d6bff"/><stop offset="0.5577" stop-color="#515fff"/><stop offset="0.5654" stop-color="#4959ff"/><stop offset="0.5692" stop-color="#4655ff"/><stop offset="0.5769" stop-color="#3f4fff"/><stop offset="0.5846" stop-color="#3748ff"/><stop offset="0.5885" stop-color="#3445ff"/><stop offset="0.5923" stop-color="#3445ff"/><stop offset="0.6000" stop-color="#3546ff"/><stop offset="0.6038" stop-color="#3546ff"/><stop offset="0.6077" stop-color="#3646ff"/><stop offset="0.6154" stop-color="#3647ff"/><stop offset="0.6231" stop-color="#3748ff"/><stop offset="0.6346" stop-color="#3849ff"/><stop offset="0.6654" stop-color="#3b4bff"/><stop offset="0.6731" stop-color="#3c4cff"/><stop offset="0.7308" stop-color="#4554ff"/><stop offset="0.7692" stop-color="#4b5aff"/><stop offset="0.8077" stop-color="#515fff"/><stop offset="0.8462" stop-color="#5362ff"/><stop offset="0.8846" stop-color="#5664ff"/><stop offset="0.9231" stop-color="#5967ff"/><stop offset="1.0000" stop-color="#5f6cff"/></linearGradient><linearGradient id="g53" gradientUnits="userSpaceOnUse" x1="52" y1="0" x2="364" y2="0"><stop offset="0.0000" stop-color="#9fa7ff"/><stop offset="0.2692" stop-color="#a2aaff"/><stop offset="0.3077" stop-color="#a3abff"/><stop offset="0.3154" stop-color="#a4abff"/><stop offset="0.3192" stop-color="#a4acff"/><stop offset="0.3346" stop-color="#a6adff"/><stop offset="0.3654" stop-color="#a9b0ff"/><stop offset="0.3846" stop-color="#abb2ff"/><stop offset="0.3962" stop-color="#b9bfff"/><stop offset="0.4115" stop-color="#cacfff"/><stop offset="0.4308" stop-color="#d9ddff"/><stop offset="0.4346" stop-color="#dee0ff"/><stop offset="0.4423" stop-color="#e6e8ff"/><stop offset="0.4500" stop-color="#eef0ff"/><stop offset="0.4577" stop-color="#f1f2ff"/><stop offset="0.4615" stop-color="#f3f4ff"/><stop offset="0.4731" stop-color="#f8f9ff"/><stop offset="0.4808" stop-color="#fcfcff"/><stop offset="0.4885" stop-color="#ffffff"/><stop offset="0.4923" stop-color="#ffffff"/><stop offset="0.5000" stop-color="#ffffff"/><stop offset="0.5077" stop-color="#f4f5ff"/><stop offset="0.5115" stop-color="#eeefff"/><stop offset="0.5192" stop-color="#dcdfff"/><stop offset="0.5269" stop-color="#cbcfff"/><stop offset="0.5385" stop-color="#b0b7ff"/><stop offset="0.5462" stop-color="#9ea6ff"/><stop offset="0.5538" stop-color="#8c95ff"/><stop offset="0.5577" stop-color="#7e89ff"/><stop offset="0.5654" stop-color="#707cff"/><stop offset="0.5692" stop-color="#6a76ff"/><stop offset="0.5769" stop-color="#5765ff"/><stop offset="0.5846" stop-color="#4454ff"/><stop offset="0.5885" stop-color="#3e4fff"/><stop offset="0.5923" stop-color="#3c4cff"/><stop offset="0.6000" stop-color="#3647ff"/><stop offset="0.6038" stop-color="#3344ff"/><stop offset="0.6077" stop-color="#3042ff"/><stop offset="0.6154" stop-color="#3142ff"/><stop offset="0.6231" stop-color="#3243ff"/><stop offset="0.6346" stop-color="#3244ff"/><stop offset="0.6654" stop-color="#3546ff"/><stop offset="0.6731" stop-color="#3647ff"/><stop offset="0.7308" stop-color="#3d4dff"/><stop offset="0.7692" stop-color="#4252ff"/><stop offset="0.8077" stop-color="#4857ff"/><stop offset="0.8462" stop-color="#4c5bff"/><stop offset="0.8846" stop-color="#4f5eff"/><stop offset="0.9231" stop-color="#5361ff"/><stop offset="1.0000" stop-color="#5a68ff"/></linearGradient><linearGradient id="g54" gradientUnits="userSpaceOnUse" x1="52" y1="0" x2="364" y2="0"><stop offset="0.0000" stop-color="#9fa7ff"/><stop offset="0.2692" stop-color="#a1a9ff"/><stop offset="0.3077" stop-color="#a1a9ff"/><stop offset="0.3154" stop-color="#a2aaff"/><stop offset="0.3192" stop-color="#a2aaff"/><stop offset="0.3346" stop-color="#a3abff"/><stop offset="0.3654" stop-color="#a5adff"/><stop offset="0.3846" stop-color="#a7aeff"/><stop offset="0.3962" stop-color="#b0b6ff"/><stop offset="0.4115" stop-color="#bcc2ff"/><stop offset="0.4308" stop-color="#c7ccff"/><stop offset="0.4346" stop-color="#ccd0ff"/><stop offset="0.4423" stop-color="#d5d8ff"/><stop offset="0.4500" stop-color="#dee1ff"/><stop offset="0.4577" stop-color="#e4e6ff"/><stop offset="0.4615" stop-color="#e7e9ff"/><stop offset="0.4731" stop-color="#f1f2ff"/><stop offset="0.4808" stop-color="#f8f9ff"/><stop offset="0.4885" stop-color="#ffffff"/><stop offset="0.4923" stop-color="#ffffff"/><stop offset="0.5000" stop-color="#ffffff"/><stop offset="0.5077" stop-color="#f8f9ff"/><stop offset="0.5115" stop-color="#f5f6ff"/><stop offset="0.5192" stop-color="#eaecff"/><stop offset="0.5269" stop-color="#e0e2ff"/><stop offset="0.5385" stop-color="#d0d4ff"/><stop offset="0.5462" stop-color="#c5caff"/><stop offset="0.5538" stop-color="#bac0ff"/><stop offset="0.5577" stop-color="#acb3ff"/><stop offset="0.5654" stop-color="#98a0ff"/><stop offset="0.5692" stop-color="#8d97ff"/><stop offset="0.5769" stop-color="#6f7bff"/><stop offset="0.5846" stop-color="#515fff"/><stop offset="0.5885" stop-color="#4958ff"/><stop offset="0.5923" stop-color="#4353ff"/><stop offset="0.6000" stop-color="#3748ff"/><stop offset="0.6038" stop-color="#3142ff"/><stop offset="0.6077" stop-color="#2b3dff"/><stop offset="0.6154" stop-color="#2c3dff"/><stop offset="0.6231" stop-color="#2c3eff"/><stop offset="0.6346" stop-color="#2d3eff"/><stop offset="0.6654" stop-color="#2f40ff"/><stop offset="0.6731" stop-color="#2f41ff"/><stop offset="0.7308" stop-color="#3445ff"/><stop offset="0.7692" stop-color="#3a4aff"/><stop offset="0.8077" stop-color="#4050ff"/><stop offset="0.8462" stop-color="#4454ff"/><stop offset="0.8846" stop-color="#4858ff"/><stop offset="0.9231" stop-color="#4d5cff"/><stop offset="1.0000" stop-color="#5564ff"/></linearGradient><linearGradient id="g55" gradientUnits="userSpaceOnUse" x1="52" y1="0" x2="364" y2="0"><stop offset="0.0000" stop-color="#9fa7ff"/><stop offset="0.2692" stop-color="#a0a8ff"/><stop offset="0.3077" stop-color="#a0a8ff"/><stop offset="0.3154" stop-color="#a0a8ff"/><stop offset="0.3192" stop-color="#a0a8ff"/><stop offset="0.3346" stop-color="#a1a9ff"/><stop offset="0.3654" stop-color="#a1a9ff"/><stop offset="0.3846" stop-color="#a2aaff"/><stop offset="0.3962" stop-color="#a7aeff"/><stop offset="0.4115" stop-color="#aeb4ff"/><stop offset="0.4308" stop-color="#b5bbff"/><stop offset="0.4346" stop-color="#babfff"/><stop offset="0.4423" stop-color="#c3c8ff"/><stop offset="0.4500" stop-color="#cdd1ff"/><stop offset="0.4577" stop-color="#d6d9ff"/><stop offset="0.4615" stop-color="#dbdeff"/><stop offset="0.4731" stop-color="#ebecff"/><stop offset="0.4808" stop-color="#f5f6ff"/><stop offset="0.4885" stop-color="#ffffff"/><stop offset="0.4923" stop-color="#ffffff"/><stop offset="0.5000" stop-color="#ffffff"/><stop offset="0.5077" stop-color="#fdfdff"/><stop offset="0.5115" stop-color="#fcfcff"/><stop offset="0.5192" stop-color="#f8f9ff"/><stop offset="0.5269" stop-color="#f5f5ff"/><stop offset="0.5385" stop-color="#eff1ff"/><stop offset="0.5462" stop-color="#ecedff"/><stop offset="0.5538" stop-color="#e8eaff"/><stop offset="0.5577" stop-color="#d9dcff"/><stop offset="0.5654" stop-color="#bfc4ff"/><stop offset="0.5692" stop-color="#b1b8ff"/><stop offset="0.5769" stop-color="#8791ff"/><stop offset="0.5846" stop-color="#5d6bff"/><stop offset="0.5885" stop-color="#5462ff"/><stop offset="0.5923" stop-color="#4a5aff"/><stop offset="0.6000" stop-color="#3849ff"/><stop offset="0.6038" stop-color="#2f40ff"/><stop offset="0.6077" stop-color="#2638ff"/><stop offset="0.6154" stop-color="#2638ff"/><stop offset="0.6231" stop-color="#2639ff"/><stop offset="0.6346" stop-color="#2739ff"/><stop offset="0.6654" stop-color="#283aff"/><stop offset="0.6731" stop-color="#293bff"/><stop offset="0.7308" stop-color="#2c3eff"/><stop offset="0.7692" stop-color="#3243ff"/><stop offset="0.8077" stop-color="#3748ff"/><stop offset="0.8462" stop-color="#3c4dff"/><stop offset="0.8846" stop-color="#4151ff"/><stop offset="0.9231" stop-color="#4656ff"/><stop offset="1.0000" stop-color="#515fff"/></linearGradient><linearGradient id="g56" gradientUnits="userSpaceOnUse" x1="52" y1="0" x2="364" y2="0"><stop offset="0.0000" stop-color="#9fa7ff"/><stop offset="0.2692" stop-color="#9fa7ff"/><stop offset="0.3077" stop-color="#9fa7ff"/><stop offset="0.3154" stop-color="#9fa7ff"/><stop offset="0.3192" stop-color="#9fa7ff"/><stop offset="0.3346" stop-color="#9fa7ff"/><stop offset="0.3654" stop-color="#9fa7ff"/><stop offset="0.3846" stop-color="#9fa7ff"/><stop offset="0.3962" stop-color="#a2aaff"/><stop offset="0.4115" stop-color="#a5adff"/><stop offset="0.4308" stop-color="#a9b0ff"/><stop offset="0.4346" stop-color="#adb4ff"/><stop offset="0.4423" stop-color="#b5bbff"/><stop offset="0.4500" stop-color="#bfc5ff"/><stop offset="0.4577" stop-color="#c9ceff"/><stop offset="0.4615" stop-color="#cfd3ff"/><stop offset="0.4731" stop-color="#e1e4ff"/><stop offset="0.4808" stop-color="#edeeff"/><stop offset="0.4885" stop-color="#f9f9ff"/><stop offset="0.4923" stop-color="#fafaff"/><stop offset="0.5000" stop-color="#fdfdff"/><stop offset="0.5077" stop-color="#ffffff"/><stop offset="0.5115" stop-color="#ffffff"/><stop offset="0.5192" stop-color="#ffffff"/><stop offset="0.5269" stop-color="#ffffff"/><stop offset="0.5385" stop-color="#ffffff"/><stop offset="0.5462" stop-color="#ffffff"/><stop offset="0.5538" stop-color="#ffffff"/><stop offset="0.5577" stop-color="#f3f4ff"/><stop offset="0.5654" stop-color="#dbdeff"/><stop offset="0.5692" stop-color="#ccd0ff"/><stop offset="0.5769" stop-color="#9fa7ff"/><stop offset="0.5846" stop-color="#6c79ff"/><stop offset="0.5885" stop-color="#5d6bff"/><stop offset="0.5923" stop-color="#5160ff"/><stop offset="0.6000" stop-color="#3949ff"/><stop offset="0.6038" stop-color="#2d3eff"/><stop offset="0.6077" stop-color="#2436ff"/><stop offset="0.6154" stop-color="#2437ff"/><stop offset="0.6231" stop-color="#2537ff"/><stop offset="0.6346" stop-color="#2537ff"/><stop offset="0.6654" stop-color="#2638ff"/><stop offset="0.6731" stop-color="#2638ff"/><stop offset="0.7308" stop-color="#2a3cff"/><stop offset="0.7692" stop-color="#2f41ff"/><stop offset="0.8077" stop-color="#3445ff"/><stop offset="0.8462" stop-color="#3a4aff"/><stop offset="0.8846" stop-color="#3f4fff"/><stop offset="0.9231" stop-color="#4454ff"/><stop offset="1.0000" stop-color="#4f5dff"/></linearGradient><linearGradient id="g57" gradientUnits="userSpaceOnUse" x1="52" y1="0" x2="364" y2="0"><stop offset="0.0000" stop-color="#9fa7ff"/><stop offset="0.2692" stop-color="#9fa7ff"/><stop offset="0.3077" stop-color="#9fa7ff"/><stop offset="0.3154" stop-color="#9fa7ff"/><stop offset="0.3192" stop-color="#9fa7ff"/><stop offset="0.3346" stop-color="#9fa7ff"/><stop offset="0.3654" stop-color="#9fa7ff"/><stop offset="0.3846" stop-color="#9fa7ff"/><stop offset="0.3962" stop-color="#a1a8ff"/><stop offset="0.4115" stop-color="#a2aaff"/><stop offset="0.4308" stop-color="#a4acff"/><stop offset="0.4346" stop-color="#a6aeff"/><stop offset="0.4423" stop-color="#aab1ff"/><stop offset="0.4500" stop-color="#b4baff"/><stop offset="0.4577" stop-color="#bec3ff"/><stop offset="0.4615" stop-color="#c3c8ff"/><stop offset="0.4731" stop-color="#d5d8ff"/><stop offset="0.4808" stop-color="#e1e3ff"/><stop offset="0.4885" stop-color="#eceeff"/><stop offset="0.4923" stop-color="#f0f1ff"/><stop offset="0.5000" stop-color="#f8f8ff"/><stop offset="0.5077" stop-color="#ffffff"/><stop offset="0.5115" stop-color="#ffffff"/><stop offset="0.5192" stop-color="#ffffff"/><stop offset="0.5269" stop-color="#ffffff"/><stop offset="0.5385" stop-color="#ffffff"/><stop offset="0.5462" stop-color="#ffffff"/><stop offset="0.5538" stop-color="#ffffff"/><stop offset="0.5577" stop-color="#f9faff"/><stop offset="0.5654" stop-color="#edefff"/><stop offset="0.5692" stop-color="#dee0ff"/><stop offset="0.5769" stop-color="#b7bdff"/><stop offset="0.5846" stop-color="#7e89ff"/><stop offset="0.5885" stop-color="#6773ff"/><stop offset="0.5923" stop-color="#5765ff"/><stop offset="0.6000" stop-color="#394aff"/><stop offset="0.6038" stop-color="#2a3cff"/><stop offset="0.6077" stop-color="#2638ff"/><stop offset="0.6154" stop-color="#2638ff"/><stop offset="0.6231" stop-color="#2638ff"/><stop offset="0.6346" stop-color="#2639ff"/><stop offset="0.6654" stop-color="#2739ff"/><stop offset="0.6731" stop-color="#283aff"/><stop offset="0.7308" stop-color="#2d3fff"/><stop offset="0.7692" stop-color="#3344ff"/><stop offset="0.8077" stop-color="#3748ff"/><stop offset="0.8462" stop-color="#3c4cff"/><stop offset="0.8846" stop-color="#4150ff"/><stop offset="0.9231" stop-color="#4655ff"/><stop offset="1.0000" stop-color="#505eff"/></linearGradient><linearGradient id="g58" gradientUnits="userSpaceOnUse" x1="52" y1="0" x2="364" y2="0"><stop offset="0.0000" stop-color="#9fa7ff"/><stop offset="0.2692" stop-color="#9fa7ff"/><stop offset="0.3077" stop-color="#9fa7ff"/><stop offset="0.3154" stop-color="#9fa7ff"/><stop offset="0.3192" stop-color="#9fa7ff"/><stop offset="0.3346" stop-color="#9fa7ff"/><stop offset="0.3654" stop-color="#9fa7ff"/><stop offset="0.3846" stop-color="#9fa7ff"/><stop offset="0.3962" stop-color="#9fa7ff"/><stop offset="0.4115" stop-color="#9fa7ff"/><stop offset="0.4308" stop-color="#9fa7ff"/><stop offset="0.4346" stop-color="#9fa7ff"/><stop offset="0.4423" stop-color="#9fa7ff"/><stop offset="0.4500" stop-color="#a9b0ff"/><stop offset="0.4577" stop-color="#b3b9ff"/><stop offset="0.4615" stop-color="#b7bdff"/><stop offset="0.4731" stop-color="#c9cdff"/><stop offset="0.4808" stop-color="#d4d8ff"/><stop offset="0.4885" stop-color="#e0e3ff"/><stop offset="0.4923" stop-color="#e6e8ff"/><stop offset="0.5000" stop-color="#f3f4ff"/><stop offset="0.5077" stop-color="#ffffff"/><stop offset="0.5115" stop-color="#ffffff"/><stop offset="0.5192" stop-color="#ffffff"/><stop offset="0.5269" stop-color="#ffffff"/><stop offset="0.5385" stop-color="#ffffff"/><stop offset="0.5462" stop-color="#ffffff"/><stop offset="0.5538" stop-color="#ffffff"/><stop offset="0.5577" stop-color="#ffffff"/><stop offset="0.5654" stop-color="#ffffff"/><stop offset="0.5692" stop-color="#eff0ff"/><stop offset="0.5769" stop-color="#cfd3ff"/><stop offset="0.5846" stop-color="#8f99ff"/><stop offset="0.5885" stop-color="#707cff"/><stop offset="0.5923" stop-color="#5e6bff"/><stop offset="0.6000" stop-color="#3a4aff"/><stop offset="0.6038" stop-color="#283aff"/><stop offset="0.6077" stop-color="#283aff"/><stop offset="0.6154" stop-color="#283aff"/><stop offset="0.6231" stop-color="#283aff"/><stop offset="0.6346" stop-color="#283aff"/><stop offset="0.6654" stop-color="#283aff"/><stop offset="0.6731" stop-color="#293bff"/><stop offset="0.7308" stop-color="#3142ff"/><stop offset="0.7692" stop-color="#3647ff"/><stop offset="0.8077" stop-color="#3a4bff"/><stop offset="0.8462" stop-color="#3e4eff"/><stop offset="0.8846" stop-color="#4252ff"/><stop offset="0.9231" stop-color="#4756ff"/><stop offset="1.0000" stop-color="#515fff"/></linearGradient><linearGradient id="g59" gradientUnits="userSpaceOnUse" x1="52" y1="0" x2="364" y2="0"><stop offset="0.0000" stop-color="#9fa7ff"/><stop offset="0.2692" stop-color="#9fa7ff"/><stop offset="0.3077" stop-color="#9fa7ff"/><stop offset="0.3154" stop-color="#9fa7ff"/><stop offset="0.3192" stop-color="#9fa7ff"/><stop offset="0.3346" stop-color="#9fa7ff"/><stop offset="0.3654" stop-color="#9fa7ff"/><stop offset="0.3846" stop-color="#9fa7ff"/><stop offset="0.3962" stop-color="#9fa7ff"/><stop offset="0.4115" stop-color="#9fa7ff"/><stop offset="0.4308" stop-color="#9fa7ff"/><stop offset="0.4346" stop-color="#9fa7ff"/><stop offset="0.4423" stop-color="#9fa7ff"/><stop offset="0.4500" stop-color="#a5adff"/><stop offset="0.4577" stop-color="#aeb5ff"/><stop offset="0.4615" stop-color="#b3b9ff"/><stop offset="0.4731" stop-color="#c2c7ff"/><stop offset="0.4808" stop-color="#cdd2ff"/><stop offset="0.4885" stop-color="#d9dcff"/><stop offset="0.4923" stop-color="#dfe2ff"/><stop offset="0.5000" stop-color="#ebedff"/><stop offset="0.5077" stop-color="#f8f8ff"/><stop offset="0.5115" stop-color="#fafaff"/><stop offset="0.5192" stop-color="#ffffff"/><stop offset="0.5269" stop-color="#ffffff"/><stop offset="0.5385" stop-color="#ffffff"/><stop offset="0.5462" stop-color="#ffffff"/><stop offset="0.5538" stop-color="#ffffff"/><stop offset="0.5577" stop-color="#ffffff"/><stop offset="0.5654" stop-color="#ffffff"/><stop offset="0.5692" stop-color="#f5f6ff"/><stop offset="0.5769" stop-color="#e2e5ff"/><stop offset="0.5846" stop-color="#afb6ff"/><stop offset="0.5885" stop-color="#969fff"/><stop offset="0.5923" stop-color="#7e89ff"/><stop offset="0.6000" stop-color="#4f5eff"/><stop offset="0.6038" stop-color="#3d4eff"/><stop offset="0.6077" stop-color="#3647ff"/><stop offset="0.6154" stop-color="#283aff"/><stop offset="0.6231" stop-color="#283aff"/><stop offset="0.6346" stop-color="#283aff"/><stop offset="0.6654" stop-color="#283aff"/><stop offset="0.6731" stop-color="#293bff"/><stop offset="0.7308" stop-color="#3042ff"/><stop offset="0.7692" stop-color="#3546ff"/><stop offset="0.8077" stop-color="#394aff"/><stop offset="0.8462" stop-color="#3d4dff"/><stop offset="0.8846" stop-color="#4151ff"/><stop offset="0.9231" stop-color="#4655ff"/><stop offset="1.0000" stop-color="#505eff"/></linearGradient><linearGradient id="g60" gradientUnits="userSpaceOnUse" x1="52" y1="0" x2="364" y2="0"><stop offset="0.0000" stop-color="#9fa7ff"/><stop offset="0.2692" stop-color="#9fa7ff"/><stop offset="0.3077" stop-color="#9fa7ff"/><stop offset="0.3154" stop-color="#9fa7ff"/><stop offset="0.3192" stop-color="#9fa7ff"/><stop offset="0.3346" stop-color="#9fa7ff"/><stop offset="0.3654" stop-color="#9fa7ff"/><stop offset="0.3846" stop-color="#9fa7ff"/><stop offset="0.3962" stop-color="#9fa7ff"/><stop offset="0.4115" stop-color="#9fa7ff"/><stop offset="0.4308" stop-color="#9fa7ff"/><stop offset="0.4346" stop-color="#9fa7ff"/><stop offset="0.4423" stop-color="#9fa7ff"/><stop offset="0.4500" stop-color="#a1a9ff"/><stop offset="0.4577" stop-color="#aab1ff"/><stop offset="0.4615" stop-color="#aeb5ff"/><stop offset="0.4731" stop-color="#bbc0ff"/><stop offset="0.4808" stop-color="#c6cbff"/><stop offset="0.4885" stop-color="#d2d6ff"/><stop offset="0.4923" stop-color="#d8dbff"/><stop offset="0.5000" stop-color="#e4e6ff"/><stop offset="0.5077" stop-color="#f0f1ff"/><stop offset="0.5115" stop-color="#f5f6ff"/><stop offset="0.5192" stop-color="#ffffff"/><stop offset="0.5269" stop-color="#ffffff"/><stop offset="0.5385" stop-color="#ffffff"/><stop offset="0.5462" stop-color="#ffffff"/><stop offset="0.5538" stop-color="#ffffff"/><stop offset="0.5577" stop-color="#ffffff"/><stop offset="0.5654" stop-color="#ffffff"/><stop offset="0.5692" stop-color="#fcfcff"/><stop offset="0.5769" stop-color="#f5f6ff"/><stop offset="0.5846" stop-color="#cfd3ff"/><stop offset="0.5885" stop-color="#bcc2ff"/><stop offset="0.5923" stop-color="#9fa7ff"/><stop offset="0.6000" stop-color="#6572ff"/><stop offset="0.6038" stop-color="#5361ff"/><stop offset="0.6077" stop-color="#4554ff"/><stop offset="0.6154" stop-color="#283aff"/><stop offset="0.6231" stop-color="#283aff"/><stop offset="0.6346" stop-color="#283aff"/><stop offset="0.6654" stop-color="#283aff"/><stop offset="0.6731" stop-color="#293bff"/><stop offset="0.7308" stop-color="#3041ff"/><stop offset="0.7692" stop-color="#3445ff"/><stop offset="0.8077" stop-color="#3849ff"/><stop offset="0.8462" stop-color="#3c4dff"/><stop offset="0.8846" stop-color="#4050ff"/><stop offset="0.9231" stop-color="#4555ff"/><stop offset="1.0000" stop-color="#4f5dff"/></linearGradient></defs><rect x="52" y="341" width="312" height="9" fill="url(#g31)"/>
<rect x="52" y="350" width="312" height="9" fill="url(#g32)"/>
<rect x="52" y="359" width="312" height="10" fill="url(#g33)"/>
<rect x="52" y="369" width="312" height="9" fill="url(#g34)"/>
<rect x="52" y="378" width="312" height="9" fill="url(#g35)"/>
<rect x="52" y="387" width="312" height="9" fill="url(#g36)"/>
<rect x="52" y="396" width="312" height="10" fill="url(#g37)"/>
<rect x="52" y="406" width="312" height="9" fill="url(#g38)"/>
<rect x="52" y="415" width="312" height="9" fill="url(#g39)"/>
<rect x="52" y="424" width="312" height="9" fill="url(#g40)"/>
<rect x="52" y="433" width="312" height="10" fill="url(#g41)"/>
<rect x="52" y="443" width="312" height="9" fill="url(#g42)"/>
<rect x="52" y="452" width="312" height="9" fill="url(#g43)"/>
<rect x="52" y="461" width="312" height="9" fill="url(#g44)"/>
<rect x="52" y="470" width="312" height="10" fill="url(#g45)"/>
<rect x="52" y="480" width="312" height="9" fill="url(#g46)"/>
<rect x="52" y="489" width="312" height="9" fill="url(#g47)"/>
<rect x="52" y="498" width="312" height="9" fill="url(#g48)"/>
<rect x="52" y="507" width="312" height="9" fill="url(#g49)"/>
<rect x="52" y="516" width="312" height="10" fill="url(#g50)"/>
<rect x="52" y="526" width="312" height="9" fill="url(#g51)"/>
<rect x="52" y="535" width="312" height="9" fill="url(#g52)"/>
<rect x="52" y="544" width="312" height="9" fill="url(#g53)"/>
<rect x="52" y="553" width="312" height="10" fill="url(#g54)"/>
<rect x="52" y="563" width="312" height="9" fill="url(#g55)"/>
<rect x="52" y="572" width="312" height="9" fill="url(#g56)"/>
<rect x="52" y="581" width="312" height="9" fill="url(#g57)"/>
<rect x="52" y="590" width="312" height="10" fill="url(#g58)"/>
<rect x="52" y="600" width="312" height="9" fill="url(#g59)"/>
<rect x="52" y="609" width="312" height="9" fill="url(#g60)"/>
<polyline points="52.0,131.9 56.1,135.0 60.2,138.0 64.3,141.1 68.4,144.1 72.4,147.1 76.5,150.2 80.6,153.2 84.7,156.2 88.8,159.3 92.9,162.3 96.5,165.3 100.0,168.4 103.6,171.4 107.1,174.5 110.7,177.5 114.3,180.5 117.8,183.6 121.4,186.6 124.4,189.6 127.2,192.7 129.9,195.7 132.6,198.7 135.4,201.8 138.1,204.8 140.8,207.8 143.5,210.9 146.3,213.9 149.0,217.0 151.7,220.0 154.4,223.0 157.1,226.1 159.8,229.1 162.2,232.1 164.5,235.2 166.9,238.2 169.2,241.2 171.4,244.3 173.7,247.3 175.4,250.4 177.0,253.4 178.6,256.4 180.3,259.5 181.9,262.5 183.6,265.5 185.0,268.6 186.4,271.6 187.7,274.6 189.0,277.7 190.2,280.7 191.4,283.7 192.6,286.8 193.8,289.8 194.6,292.9 195.3,295.9 196.0,298.9 196.6,302.0 197.3,305.0 197.9,308.0 198.6,311.1" fill="none" stroke="#e6f03c" stroke-width="3" stroke-dasharray="10 14" stroke-dashoffset="0" stroke-linecap="butt"/><polyline points="52.0,239.1 56.1,236.0 60.2,233.0 64.3,229.9 68.4,226.9 72.4,223.9 76.5,220.8 80.6,217.8 84.7,214.8 88.8,211.7 92.9,208.7 96.5,205.7 100.0,202.6 103.6,199.6 107.1,196.5 110.7,193.5 114.3,190.5 117.8,187.4 121.4,184.4 124.4,181.4 127.2,178.3 129.9,175.3 132.6,172.3 135.4,169.2 138.1,166.2 140.8,163.2 143.5,160.1 146.3,157.1 149.0,154.0 151.7,151.0 154.4,148.0 157.1,144.9 159.8,141.9 162.2,138.9 164.5,135.8 166.9,132.8 169.2,129.8 171.4,126.7 173.7,123.7 175.4,120.6 177.0,117.6 178.6,114.6 180.3,111.5 181.9,108.5 183.6,105.5 185.0,102.4 186.4,99.4 187.7,96.4 189.0,93.3 190.2,90.3 191.4,87.3 192.6,84.2 193.8,81.2 194.6,78.1 195.3,75.1 196.0,72.1 196.6,69.0 197.3,66.0 197.9,63.0 198.6,59.9" fill="none" stroke="#e6f03c" stroke-width="3" stroke-dasharray="10 14" stroke-dashoffset="0" stroke-linecap="butt"/>
<polyline points="52.0,425.9 56.1,429.0 60.2,432.0 64.3,435.1 68.4,438.1 72.4,441.1 76.5,444.2 80.6,447.2 84.7,450.2 88.8,453.3 92.9,456.3 96.5,459.3 100.0,462.4 103.6,465.4 107.1,468.5 110.7,471.5 114.3,474.5 117.8,477.6 121.4,480.6 124.4,483.6 127.2,486.7 129.9,489.7 132.6,492.7 135.4,495.8 138.1,498.8 140.8,501.8 143.5,504.9 146.3,507.9 149.0,511.0 151.7,514.0 154.4,517.0 157.1,520.1 159.8,523.1 162.2,526.1 164.5,529.2 166.9,532.2 169.2,535.2 171.4,538.3 173.7,541.3 175.4,544.4 177.0,547.4 178.6,550.4 180.3,553.5 181.9,556.5 183.6,559.5 185.0,562.6 186.4,565.6 187.7,568.6 189.0,571.7 190.2,574.7 191.4,577.7 192.6,580.8 193.8,583.8 194.6,586.9 195.3,589.9 196.0,592.9 196.6,596.0 197.3,599.0 197.9,602.0 198.6,605.1" fill="none" stroke="#e6f03c" stroke-width="3" stroke-dasharray="10 14" stroke-dashoffset="0" stroke-linecap="butt"/><polyline points="52.0,533.1 56.1,530.0 60.2,527.0 64.3,523.9 68.4,520.9 72.4,517.9 76.5,514.8 80.6,511.8 84.7,508.8 88.8,505.7 92.9,502.7 96.5,499.7 100.0,496.6 103.6,493.6 107.1,490.5 110.7,487.5 114.3,484.5 117.8,481.4 121.4,478.4 124.4,475.4 127.2,472.3 129.9,469.3 132.6,466.3 135.4,463.2 138.1,460.2 140.8,457.2 143.5,454.1 146.3,451.1 149.0,448.0 151.7,445.0 154.4,442.0 157.1,438.9 159.8,435.9 162.2,432.9 164.5,429.8 166.9,426.8 169.2,423.8 171.4,420.7 173.7,417.7 175.4,414.6 177.0,411.6 178.6,408.6 180.3,405.5 181.9,402.5 183.6,399.5 185.0,396.4 186.4,393.4 187.7,390.4 189.0,387.3 190.2,384.3 191.4,381.3 192.6,378.2 193.8,375.2 194.6,372.1 195.3,369.1 196.0,366.1 196.6,363.0 197.3,360.0 197.9,357.0 198.6,353.9" fill="none" stroke="#e6f03c" stroke-width="3" stroke-dasharray="10 14" stroke-dashoffset="0" stroke-linecap="butt"/>
<line x1="52" y1="269.2" x2="364" y2="269.2" stroke="#f0f0ff" stroke-opacity="0.6" stroke-width="1.1" stroke-dasharray="5 3.7"/>
<line x1="52" y1="563.8" x2="364" y2="563.8" stroke="#f0f0ff" stroke-opacity="0.6" stroke-width="1.1" stroke-dasharray="5 3.7"/>
<polyline points="52.0,249.2 72.0,247.6 92.0,245.8 112.0,243.5 132.0,240.6 152.0,238.8 166.0,237.6 172.0,236.4 176.0,234.8 179.0,233.7 181.0,233.4 183.0,233.9 186.0,235.8 189.5,239.5 194.6,247.5 200.8,254.3 205.0,257.5 210.0,259.7 220.0,261.6 232.0,262.5 244.0,260.5 256.0,257.4 280.0,250.0 304.0,246.0 328.0,244.5 343.0,246.0 355.0,250.5 364.0,255.0" fill="none" stroke="#ffffff" stroke-width="1.9" stroke-linejoin="round"/>
<polyline points="52.0,549.5 60.0,550.5 70.0,550.0 80.0,551.0 90.0,550.5 100.0,551.5 110.0,551.0 120.0,551.5 130.0,552.0 142.0,552.0 155.0,551.0 165.0,550.5 178.0,549.6 184.0,547.0 188.3,542.0 194.5,531.8 200.7,517.3 205.9,502.8 209.0,497.5 211.0,496.1 213.5,497.0 216.2,499.7 220.4,511.0 224.5,531.8 229.7,558.7 234.9,583.5 241.0,599.0 248.3,606.3 256.6,608.4 262.8,605.3 270.0,603.5 289.2,594.8 308.5,588.0 327.7,584.2 343.0,582.0 362.3,580.0 364.0,579.6" fill="none" stroke="#ffffff" stroke-width="1.5" stroke-linejoin="round"/>
<line x1="318.3" y1="231.1" x2="349.0" y2="231.1" stroke="#fff" stroke-width="3.8"/><path d="M344.0 225.3 L356.0 231.1 L344.0 236.9 L347.0 231.1 Z" fill="#fff"/>
<line x1="237.7" y1="512.2" x2="349.0" y2="512.2" stroke="#fff" stroke-width="3.8"/><path d="M344.0 506.4 L356.0 512.2 L344.0 518.0 L347.0 512.2 Z" fill="#fff"/>
<rect x="52" y="47" width="312" height="277" fill="none" stroke="#1c1c4c" stroke-width="1.6"/>
<rect x="52" y="341" width="312" height="277" fill="none" stroke="#1c1c4c" stroke-width="1.6"/>
<g stroke="#1c1c4c" stroke-width="1.5"><line x1="46.0" y1="324.00" x2="52" y2="324.00"/><line x1="49.0" y1="300.92" x2="52" y2="300.92"/><line x1="46.0" y1="277.83" x2="52" y2="277.83"/><line x1="49.0" y1="254.75" x2="52" y2="254.75"/><line x1="46.0" y1="231.67" x2="52" y2="231.67"/><line x1="49.0" y1="208.58" x2="52" y2="208.58"/><line x1="46.0" y1="185.50" x2="52" y2="185.50"/><line x1="49.0" y1="162.42" x2="52" y2="162.42"/><line x1="46.0" y1="139.33" x2="52" y2="139.33"/><line x1="49.0" y1="116.25" x2="52" y2="116.25"/><line x1="46.0" y1="93.17" x2="52" y2="93.17"/><line x1="49.0" y1="70.08" x2="52" y2="70.08"/><line x1="46.0" y1="47.00" x2="52" y2="47.00"/><line x1="46.0" y1="618.00" x2="52" y2="618.00"/><line x1="49.0" y1="594.92" x2="52" y2="594.92"/><line x1="46.0" y1="571.83" x2="52" y2="571.83"/><line x1="49.0" y1="548.75" x2="52" y2="548.75"/><line x1="46.0" y1="525.67" x2="52" y2="525.67"/><line x1="49.0" y1="502.58" x2="52" y2="502.58"/><line x1="46.0" y1="479.50" x2="52" y2="479.50"/><line x1="49.0" y1="456.42" x2="52" y2="456.42"/><line x1="46.0" y1="433.33" x2="52" y2="433.33"/><line x1="49.0" y1="410.25" x2="52" y2="410.25"/><line x1="46.0" y1="387.17" x2="52" y2="387.17"/><line x1="49.0" y1="364.08" x2="52" y2="364.08"/><line x1="46.0" y1="341.00" x2="52" y2="341.00"/><line x1="52.00" y1="41.0" x2="52.00" y2="47"/><line x1="52.00" y1="618" x2="52.00" y2="624.0"/><line x1="82.00" y1="44.0" x2="82.00" y2="47"/><line x1="82.00" y1="618" x2="82.00" y2="621.0"/><line x1="112.00" y1="41.0" x2="112.00" y2="47"/><line x1="112.00" y1="618" x2="112.00" y2="624.0"/><line x1="142.00" y1="44.0" x2="142.00" y2="47"/><line x1="142.00" y1="618" x2="142.00" y2="621.0"/><line x1="172.00" y1="41.0" x2="172.00" y2="47"/><line x1="172.00" y1="618" x2="172.00" y2="624.0"/><line x1="202.00" y1="44.0" x2="202.00" y2="47"/><line x1="202.00" y1="618" x2="202.00" y2="621.0"/><line x1="232.00" y1="41.0" x2="232.00" y2="47"/><line x1="232.00" y1="618" x2="232.00" y2="624.0"/><line x1="262.00" y1="44.0" x2="262.00" y2="47"/><line x1="262.00" y1="618" x2="262.00" y2="621.0"/><line x1="292.00" y1="41.0" x2="292.00" y2="47"/><line x1="292.00" y1="618" x2="292.00" y2="624.0"/><line x1="322.00" y1="44.0" x2="322.00" y2="47"/><line x1="322.00" y1="618" x2="322.00" y2="621.0"/><line x1="352.00" y1="41.0" x2="352.00" y2="47"/><line x1="352.00" y1="618" x2="352.00" y2="624.0"/><line x1="358" y1="299.80" x2="364" y2="299.80"/><line x1="358" y1="269.20" x2="364" y2="269.20"/><line x1="358" y1="238.60" x2="364" y2="238.60"/><line x1="358" y1="208.00" x2="364" y2="208.00"/><line x1="358" y1="177.40" x2="364" y2="177.40"/><line x1="358" y1="146.80" x2="364" y2="146.80"/><line x1="358" y1="116.20" x2="364" y2="116.20"/><line x1="358" y1="85.60" x2="364" y2="85.60"/><line x1="358" y1="55.00" x2="364" y2="55.00"/><line x1="358" y1="617.70" x2="364" y2="617.70"/><line x1="358" y1="590.66" x2="364" y2="590.66"/><line x1="358" y1="563.62" x2="364" y2="563.62"/><line x1="358" y1="536.58" x2="364" y2="536.58"/><line x1="358" y1="509.54" x2="364" y2="509.54"/><line x1="358" y1="482.50" x2="364" y2="482.50"/><line x1="358" y1="455.46" x2="364" y2="455.46"/><line x1="358" y1="428.42" x2="364" y2="428.42"/><line x1="358" y1="401.38" x2="364" y2="401.38"/><line x1="358" y1="374.34" x2="364" y2="374.34"/><line x1="358" y1="347.30" x2="364" y2="347.30"/></g>
<rect x="446" y="81.00" width="20.5" height="6.42" fill="#fcfcff"/><rect x="446" y="87.12" width="20.5" height="6.42" fill="#f6f7ff"/><rect x="446" y="93.25" width="20.5" height="6.42" fill="#f0f1ff"/><rect x="446" y="99.38" width="20.5" height="6.42" fill="#eaecff"/><rect x="446" y="105.50" width="20.5" height="6.42" fill="#e4e6ff"/><rect x="446" y="111.62" width="20.5" height="6.42" fill="#dee1ff"/><rect x="446" y="117.75" width="20.5" height="6.42" fill="#d8dbff"/><rect x="446" y="123.88" width="20.5" height="6.42" fill="#d2d6ff"/><rect x="446" y="130.00" width="20.5" height="6.42" fill="#ccd0ff"/><rect x="446" y="136.12" width="20.5" height="6.42" fill="#c6cbff"/><rect x="446" y="142.25" width="20.5" height="6.42" fill="#c0c6ff"/><rect x="446" y="148.38" width="20.5" height="6.42" fill="#bac0ff"/><rect x="446" y="154.50" width="20.5" height="6.42" fill="#b4bbff"/><rect x="446" y="160.62" width="20.5" height="6.42" fill="#aeb5ff"/><rect x="446" y="166.75" width="20.5" height="6.42" fill="#a8b0ff"/><rect x="446" y="172.88" width="20.5" height="6.42" fill="#a2aaff"/><rect x="446" y="179.00" width="20.5" height="6.42" fill="#9ca5ff"/><rect x="446" y="185.12" width="20.5" height="6.42" fill="#969fff"/><rect x="446" y="191.25" width="20.5" height="6.42" fill="#909aff"/><rect x="446" y="197.38" width="20.5" height="6.42" fill="#8a94ff"/><rect x="446" y="203.50" width="20.5" height="6.42" fill="#858fff"/><rect x="446" y="209.62" width="20.5" height="6.42" fill="#7f89ff"/><rect x="446" y="215.75" width="20.5" height="6.42" fill="#7984ff"/><rect x="446" y="221.88" width="20.5" height="6.42" fill="#737eff"/><rect x="446" y="228.00" width="20.5" height="6.42" fill="#6d79ff"/><rect x="446" y="234.12" width="20.5" height="6.42" fill="#6773ff"/><rect x="446" y="240.25" width="20.5" height="6.42" fill="#616eff"/><rect x="446" y="246.38" width="20.5" height="6.42" fill="#5b68ff"/><rect x="446" y="252.50" width="20.5" height="6.42" fill="#5563ff"/><rect x="446" y="258.62" width="20.5" height="6.42" fill="#4f5dff"/><rect x="446" y="264.75" width="20.5" height="6.42" fill="#4958ff"/><rect x="446" y="270.88" width="20.5" height="6.42" fill="#4353ff"/><rect x="446" y="277.00" width="20.5" height="6.42" fill="#3d4dff"/><rect x="446" y="283.12" width="20.5" height="6.42" fill="#3748ff"/><rect x="446" y="289.25" width="20.5" height="6.42" fill="#3142ff"/><rect x="446" y="295.38" width="20.5" height="6.42" fill="#2b3dff"/><rect x="446" y="301.50" width="20.5" height="6.42" fill="#2537ff"/><rect x="446" y="307.62" width="20.5" height="6.42" fill="#1f32ff"/><rect x="446" y="313.75" width="20.5" height="6.42" fill="#192cff"/><rect x="446" y="319.88" width="20.5" height="6.42" fill="#1327ff"/>
<rect x="446" y="385.00" width="20.5" height="6.16" fill="#fcfcff"/><rect x="446" y="390.86" width="20.5" height="6.16" fill="#f6f7ff"/><rect x="446" y="396.73" width="20.5" height="6.16" fill="#f0f1ff"/><rect x="446" y="402.59" width="20.5" height="6.16" fill="#eaecff"/><rect x="446" y="408.45" width="20.5" height="6.16" fill="#e4e6ff"/><rect x="446" y="414.31" width="20.5" height="6.16" fill="#dee1ff"/><rect x="446" y="420.18" width="20.5" height="6.16" fill="#d8dbff"/><rect x="446" y="426.04" width="20.5" height="6.16" fill="#d2d6ff"/><rect x="446" y="431.90" width="20.5" height="6.16" fill="#ccd0ff"/><rect x="446" y="437.76" width="20.5" height="6.16" fill="#c6cbff"/><rect x="446" y="443.62" width="20.5" height="6.16" fill="#c0c6ff"/><rect x="446" y="449.49" width="20.5" height="6.16" fill="#bac0ff"/><rect x="446" y="455.35" width="20.5" height="6.16" fill="#b4bbff"/><rect x="446" y="461.21" width="20.5" height="6.16" fill="#aeb5ff"/><rect x="446" y="467.07" width="20.5" height="6.16" fill="#a8b0ff"/><rect x="446" y="472.94" width="20.5" height="6.16" fill="#a2aaff"/><rect x="446" y="478.80" width="20.5" height="6.16" fill="#9ca5ff"/><rect x="446" y="484.66" width="20.5" height="6.16" fill="#969fff"/><rect x="446" y="490.52" width="20.5" height="6.16" fill="#909aff"/><rect x="446" y="496.39" width="20.5" height="6.16" fill="#8a94ff"/><rect x="446" y="502.25" width="20.5" height="6.16" fill="#858fff"/><rect x="446" y="508.11" width="20.5" height="6.16" fill="#7f89ff"/><rect x="446" y="513.98" width="20.5" height="6.16" fill="#7984ff"/><rect x="446" y="519.84" width="20.5" height="6.16" fill="#737eff"/><rect x="446" y="525.70" width="20.5" height="6.16" fill="#6d79ff"/><rect x="446" y="531.56" width="20.5" height="6.16" fill="#6773ff"/><rect x="446" y="537.42" width="20.5" height="6.16" fill="#616eff"/><rect x="446" y="543.29" width="20.5" height="6.16" fill="#5b68ff"/><rect x="446" y="549.15" width="20.5" height="6.16" fill="#5563ff"/><rect x="446" y="555.01" width="20.5" height="6.16" fill="#4f5dff"/><rect x="446" y="560.88" width="20.5" height="6.16" fill="#4958ff"/><rect x="446" y="566.74" width="20.5" height="6.16" fill="#4353ff"/><rect x="446" y="572.60" width="20.5" height="6.16" fill="#3d4dff"/><rect x="446" y="578.46" width="20.5" height="6.16" fill="#3748ff"/><rect x="446" y="584.33" width="20.5" height="6.16" fill="#3142ff"/><rect x="446" y="590.19" width="20.5" height="6.16" fill="#2b3dff"/><rect x="446" y="596.05" width="20.5" height="6.16" fill="#2537ff"/><rect x="446" y="601.91" width="20.5" height="6.16" fill="#1f32ff"/><rect x="446" y="607.77" width="20.5" height="6.16" fill="#192cff"/><rect x="446" y="613.64" width="20.5" height="6.16" fill="#1327ff"/>
<g font-family="Liberation Sans, sans-serif" fill="#111"><text x="210" y="13.5" font-size="17" text-anchor="middle">Wavelength (nm)</text><text x="210" y="662" font-size="17" text-anchor="middle">Wavelength (nm)</text><text x="52.0" y="35" font-size="16" text-anchor="middle">600</text><text x="52.0" y="641" font-size="16" text-anchor="middle">600</text><text x="112.0" y="35" font-size="16" text-anchor="middle">650</text><text x="112.0" y="641" font-size="16" text-anchor="middle">650</text><text x="172.0" y="35" font-size="16" text-anchor="middle">700</text><text x="172.0" y="641" font-size="16" text-anchor="middle">700</text><text x="232.0" y="35" font-size="16" text-anchor="middle">750</text><text x="232.0" y="641" font-size="16" text-anchor="middle">750</text><text x="292.0" y="35" font-size="16" text-anchor="middle">800</text><text x="292.0" y="641" font-size="16" text-anchor="middle">800</text><text x="352.0" y="35" font-size="16" text-anchor="middle">850</text><text x="352.0" y="641" font-size="16" text-anchor="middle">850</text><text x="42.3" y="329.7" font-size="16" text-anchor="end">0</text><text x="42.3" y="283.5" font-size="16" text-anchor="end">10</text><text x="42.3" y="237.4" font-size="16" text-anchor="end">20</text><text x="42.3" y="191.2" font-size="16" text-anchor="end">30</text><text x="42.3" y="145.0" font-size="16" text-anchor="end">40</text><text x="42.3" y="98.9" font-size="16" text-anchor="end">50</text><text x="42.3" y="52.7" font-size="16" text-anchor="end">60</text><text transform="translate(12.2,196.5) rotate(-90)" font-size="17" text-anchor="middle">Azimuthal angle (deg.)</text><text x="42.3" y="623.7" font-size="16" text-anchor="end">0</text><text x="42.3" y="577.5" font-size="16" text-anchor="end">10</text><text x="42.3" y="531.4" font-size="16" text-anchor="end">20</text><text x="42.3" y="485.2" font-size="16" text-anchor="end">30</text><text x="42.3" y="439.0" font-size="16" text-anchor="end">40</text><text x="42.3" y="392.9" font-size="16" text-anchor="end">50</text><text x="42.3" y="346.7" font-size="16" text-anchor="end">60</text><text transform="translate(12.2,490.5) rotate(-90)" font-size="17" text-anchor="middle">Azimuthal angle (deg.)</text><text x="370" y="274.6" font-size="15">0.0</text><text x="370" y="244.0" font-size="15">0.1</text><text x="370" y="213.4" font-size="15">0.2</text><text transform="translate(373,47) rotate(90)" font-size="14.3">Reflectance (arb. un.)</text><text x="370.2" y="623.1" font-size="15">-0.010</text><text x="370.2" y="596.1" font-size="15">-0.005</text><text x="370.2" y="569.0" font-size="15">0.000</text><text x="370.2" y="542.0" font-size="15">0.005</text><text x="370.2" y="514.9" font-size="15">0.010</text><text x="370.2" y="487.9" font-size="15">0.015</text><text x="370.2" y="357" font-size="20" font-weight="bold">TKE</text><text x="473.3" y="60.2" font-size="16">0.14</text><text x="473.3" y="128.2" font-size="16">0.11</text><text x="473.3" y="196.7" font-size="16">0.07</text><text x="473.3" y="264.7" font-size="16">0.04</text><text x="473.3" y="333.2" font-size="16">0</text><text transform="translate(434.5,314) rotate(-90)" font-size="17">Reflectance (arb. un.)</text><text x="473.5" y="368.2" font-size="16">0.013</text><text x="473.5" y="406.7" font-size="16">0.010</text><text x="473.5" y="462.0" font-size="16">0.005</text><text x="473.5" y="516.9" font-size="16">0</text><text x="473.5" y="573.4" font-size="16">-0.005</text><text x="473.5" y="629.8" font-size="16">-0.010</text><text transform="translate(433,612.3) rotate(-90)" font-size="17">Transversal Kerr Effect (TKE)</text></g>
</svg>
</body></html>
